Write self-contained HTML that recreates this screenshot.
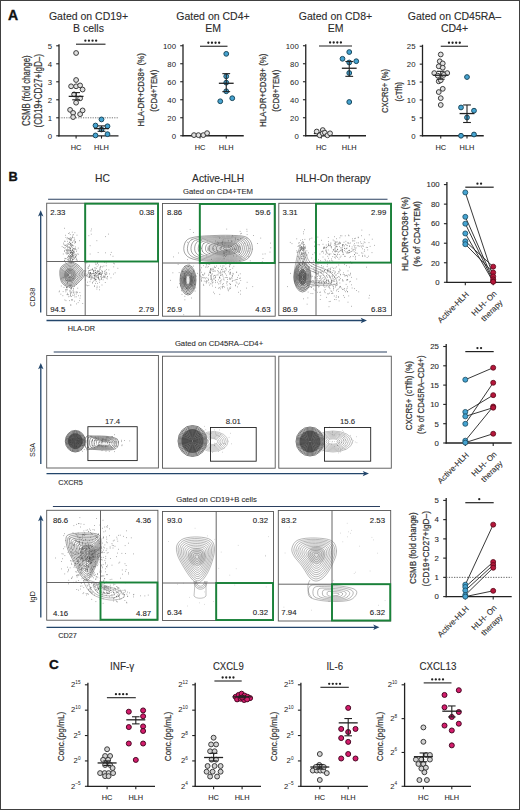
<!DOCTYPE html>
<html><head><meta charset="utf-8"><style>
html,body{margin:0;padding:0;background:#fff;width:520px;height:810px;overflow:hidden}
svg{display:block}
text{font-family:"Liberation Sans", sans-serif}
</style></head><body>
<svg width="520" height="810" viewBox="0 0 520 810">
<rect x="0" y="0" width="520" height="810" fill="#fff"/>
<text x="7.90" y="19.70" font-size="14" text-anchor="start" fill="#111" font-weight="bold" stroke="#111" stroke-width="0.35">A</text>
<text x="88.50" y="19.80" font-size="10.5" text-anchor="middle" fill="#2b2b2b" font-weight="normal" stroke="#2b2b2b" stroke-width="0.1">Gated on CD19+</text>
<text x="88.50" y="32.30" font-size="10.5" text-anchor="middle" fill="#2b2b2b" font-weight="normal" stroke="#2b2b2b" stroke-width="0.1">B cells</text>
<text x="213.00" y="19.80" font-size="10.5" text-anchor="middle" fill="#2b2b2b" font-weight="normal" stroke="#2b2b2b" stroke-width="0.1">Gated on CD4+</text>
<text x="213.00" y="32.30" font-size="10.5" text-anchor="middle" fill="#2b2b2b" font-weight="normal" stroke="#2b2b2b" stroke-width="0.1">EM</text>
<text x="335.50" y="19.80" font-size="10.5" text-anchor="middle" fill="#2b2b2b" font-weight="normal" stroke="#2b2b2b" stroke-width="0.1">Gated on CD8+</text>
<text x="335.50" y="32.30" font-size="10.5" text-anchor="middle" fill="#2b2b2b" font-weight="normal" stroke="#2b2b2b" stroke-width="0.1">EM</text>
<text x="454.50" y="19.80" font-size="10.5" text-anchor="middle" fill="#2b2b2b" font-weight="normal" stroke="#2b2b2b" stroke-width="0.1">Gated on CD45RA–</text>
<text x="454.50" y="32.30" font-size="10.5" text-anchor="middle" fill="#2b2b2b" font-weight="normal" stroke="#2b2b2b" stroke-width="0.1">CD4+</text>
<line x1="59.00" y1="44.30" x2="59.00" y2="136.40" stroke="#222" stroke-width="1.3"/>
<line x1="58.40" y1="135.80" x2="118.50" y2="135.80" stroke="#222" stroke-width="1.3"/>
<line x1="56.20" y1="135.80" x2="59.00" y2="135.80" stroke="#222" stroke-width="1.1"/>
<text x="52.00" y="138.60" font-size="7.8" text-anchor="end" fill="#222">0</text>
<line x1="56.20" y1="117.80" x2="59.00" y2="117.80" stroke="#222" stroke-width="1.1"/>
<text x="52.00" y="120.60" font-size="7.8" text-anchor="end" fill="#222">1</text>
<line x1="56.20" y1="99.80" x2="59.00" y2="99.80" stroke="#222" stroke-width="1.1"/>
<text x="52.00" y="102.60" font-size="7.8" text-anchor="end" fill="#222">2</text>
<line x1="56.20" y1="81.80" x2="59.00" y2="81.80" stroke="#222" stroke-width="1.1"/>
<text x="52.00" y="84.60" font-size="7.8" text-anchor="end" fill="#222">3</text>
<line x1="56.20" y1="63.80" x2="59.00" y2="63.80" stroke="#222" stroke-width="1.1"/>
<text x="52.00" y="66.60" font-size="7.8" text-anchor="end" fill="#222">4</text>
<line x1="56.20" y1="45.80" x2="59.00" y2="45.80" stroke="#222" stroke-width="1.1"/>
<text x="52.00" y="48.60" font-size="7.8" text-anchor="end" fill="#222">5</text>
<line x1="76.10" y1="135.80" x2="76.10" y2="138.60" stroke="#222" stroke-width="1.1"/>
<line x1="101.50" y1="135.80" x2="101.50" y2="138.60" stroke="#222" stroke-width="1.1"/>
<text x="76.10" y="149.60" font-size="7.4" text-anchor="middle" fill="#2b2b2b" font-weight="normal" stroke="#2b2b2b" stroke-width="0.1">HC</text>
<text x="101.50" y="149.60" font-size="7.4" text-anchor="middle" fill="#2b2b2b" font-weight="normal" stroke="#2b2b2b" stroke-width="0.1">HLH</text>
<line x1="59.00" y1="117.80" x2="118.50" y2="117.80" stroke="#666" stroke-width="0.9" stroke-dasharray="1.2 1.2"/>
<circle cx="76.10" cy="53.00" r="2.40" fill="#e0e0e0" stroke="#3c3c3c" stroke-width="1.0"/>
<circle cx="76.10" cy="80.00" r="2.40" fill="#e0e0e0" stroke="#3c3c3c" stroke-width="1.0"/>
<circle cx="71.10" cy="86.30" r="2.40" fill="#e0e0e0" stroke="#3c3c3c" stroke-width="1.0"/>
<circle cx="76.10" cy="86.30" r="2.40" fill="#e0e0e0" stroke="#3c3c3c" stroke-width="1.0"/>
<circle cx="80.10" cy="85.40" r="2.40" fill="#e0e0e0" stroke="#3c3c3c" stroke-width="1.0"/>
<circle cx="82.60" cy="89.54" r="2.40" fill="#e0e0e0" stroke="#3c3c3c" stroke-width="1.0"/>
<circle cx="74.10" cy="94.40" r="2.40" fill="#e0e0e0" stroke="#3c3c3c" stroke-width="1.0"/>
<circle cx="80.10" cy="98.36" r="2.40" fill="#e0e0e0" stroke="#3c3c3c" stroke-width="1.0"/>
<circle cx="76.10" cy="102.68" r="2.40" fill="#e0e0e0" stroke="#3c3c3c" stroke-width="1.0"/>
<circle cx="70.10" cy="109.88" r="2.40" fill="#e0e0e0" stroke="#3c3c3c" stroke-width="1.0"/>
<circle cx="82.60" cy="110.42" r="2.40" fill="#e0e0e0" stroke="#3c3c3c" stroke-width="1.0"/>
<circle cx="73.10" cy="112.94" r="2.40" fill="#e0e0e0" stroke="#3c3c3c" stroke-width="1.0"/>
<circle cx="80.10" cy="114.20" r="2.40" fill="#e0e0e0" stroke="#3c3c3c" stroke-width="1.0"/>
<circle cx="73.10" cy="117.08" r="2.40" fill="#e0e0e0" stroke="#3c3c3c" stroke-width="1.0"/>
<circle cx="101.50" cy="119.42" r="2.40" fill="#45a3d1" stroke="#1b4a5e" stroke-width="1.0"/>
<circle cx="95.50" cy="125.54" r="2.40" fill="#45a3d1" stroke="#1b4a5e" stroke-width="1.0"/>
<circle cx="107.50" cy="126.26" r="2.40" fill="#45a3d1" stroke="#1b4a5e" stroke-width="1.0"/>
<circle cx="101.50" cy="129.50" r="2.40" fill="#45a3d1" stroke="#1b4a5e" stroke-width="1.0"/>
<circle cx="95.50" cy="135.44" r="2.40" fill="#45a3d1" stroke="#1b4a5e" stroke-width="1.0"/>
<circle cx="107.50" cy="134.18" r="2.40" fill="#45a3d1" stroke="#1b4a5e" stroke-width="1.0"/>
<line x1="68.70" y1="96.38" x2="83.50" y2="96.38" stroke="#222" stroke-width="1.3"/>
<line x1="76.10" y1="99.80" x2="76.10" y2="92.60" stroke="#222" stroke-width="1.1"/>
<line x1="72.20" y1="99.80" x2="80.00" y2="99.80" stroke="#222" stroke-width="1.1"/>
<line x1="72.20" y1="92.60" x2="80.00" y2="92.60" stroke="#222" stroke-width="1.1"/>
<line x1="94.10" y1="128.60" x2="108.90" y2="128.60" stroke="#222" stroke-width="1.3"/>
<line x1="101.50" y1="131.30" x2="101.50" y2="125.90" stroke="#222" stroke-width="1.1"/>
<line x1="97.60" y1="131.30" x2="105.40" y2="131.30" stroke="#222" stroke-width="1.1"/>
<line x1="97.60" y1="125.90" x2="105.40" y2="125.90" stroke="#222" stroke-width="1.1"/>
<line x1="76.00" y1="44.20" x2="105.50" y2="44.20" stroke="#222" stroke-width="1.1"/>
<circle cx="85.35" cy="40.70" r="1.15" fill="#222"/>
<circle cx="88.95" cy="40.70" r="1.15" fill="#222"/>
<circle cx="92.55" cy="40.70" r="1.15" fill="#222"/>
<circle cx="96.15" cy="40.70" r="1.15" fill="#222"/>
<text x="30.10" y="90.70" font-size="10.3" text-anchor="middle" fill="#333" stroke="#333" stroke-width="0.22" transform="rotate(-90 30.10 90.70)" textLength="70.6" lengthAdjust="spacingAndGlyphs">CSMB (fold change)</text>
<text x="41.60" y="90.70" font-size="10.3" text-anchor="middle" fill="#333" stroke="#333" stroke-width="0.22" transform="rotate(-90 41.60 90.70)" textLength="73.5" lengthAdjust="spacingAndGlyphs">(CD19+CD27+IgD–)</text>
<line x1="183.00" y1="44.25" x2="183.00" y2="136.35" stroke="#222" stroke-width="1.3"/>
<line x1="182.40" y1="135.75" x2="243.75" y2="135.75" stroke="#222" stroke-width="1.3"/>
<line x1="180.20" y1="135.75" x2="183.00" y2="135.75" stroke="#222" stroke-width="1.1"/>
<text x="176.00" y="138.55" font-size="7.8" text-anchor="end" fill="#222">0</text>
<line x1="180.20" y1="117.75" x2="183.00" y2="117.75" stroke="#222" stroke-width="1.1"/>
<text x="176.00" y="120.55" font-size="7.8" text-anchor="end" fill="#222">20</text>
<line x1="180.20" y1="99.75" x2="183.00" y2="99.75" stroke="#222" stroke-width="1.1"/>
<text x="176.00" y="102.55" font-size="7.8" text-anchor="end" fill="#222">40</text>
<line x1="180.20" y1="81.75" x2="183.00" y2="81.75" stroke="#222" stroke-width="1.1"/>
<text x="176.00" y="84.55" font-size="7.8" text-anchor="end" fill="#222">60</text>
<line x1="180.20" y1="63.75" x2="183.00" y2="63.75" stroke="#222" stroke-width="1.1"/>
<text x="176.00" y="66.55" font-size="7.8" text-anchor="end" fill="#222">80</text>
<line x1="180.20" y1="45.75" x2="183.00" y2="45.75" stroke="#222" stroke-width="1.1"/>
<text x="176.00" y="48.55" font-size="7.8" text-anchor="end" fill="#222">100</text>
<line x1="200.00" y1="135.75" x2="200.00" y2="138.55" stroke="#222" stroke-width="1.1"/>
<line x1="226.25" y1="135.75" x2="226.25" y2="138.55" stroke="#222" stroke-width="1.1"/>
<text x="200.00" y="149.60" font-size="7.4" text-anchor="middle" fill="#2b2b2b" font-weight="normal" stroke="#2b2b2b" stroke-width="0.1">HC</text>
<text x="226.25" y="149.60" font-size="7.4" text-anchor="middle" fill="#2b2b2b" font-weight="normal" stroke="#2b2b2b" stroke-width="0.1">HLH</text>
<line x1="192.60" y1="134.85" x2="207.40" y2="134.85" stroke="#222" stroke-width="1.3"/>
<line x1="200.00" y1="135.30" x2="200.00" y2="134.40" stroke="#222" stroke-width="1.1"/>
<line x1="196.10" y1="135.30" x2="203.90" y2="135.30" stroke="#222" stroke-width="1.1"/>
<line x1="196.10" y1="134.40" x2="203.90" y2="134.40" stroke="#222" stroke-width="1.1"/>
<circle cx="194.00" cy="135.12" r="2.40" fill="#e0e0e0" stroke="#3c3c3c" stroke-width="1.0"/>
<circle cx="198.40" cy="135.12" r="2.40" fill="#e0e0e0" stroke="#3c3c3c" stroke-width="1.0"/>
<circle cx="203.30" cy="135.12" r="2.40" fill="#e0e0e0" stroke="#3c3c3c" stroke-width="1.0"/>
<circle cx="207.10" cy="133.14" r="2.40" fill="#e0e0e0" stroke="#3c3c3c" stroke-width="1.0"/>
<circle cx="226.25" cy="53.85" r="2.40" fill="#45a3d1" stroke="#1b4a5e" stroke-width="1.0"/>
<circle cx="226.25" cy="76.35" r="2.40" fill="#45a3d1" stroke="#1b4a5e" stroke-width="1.0"/>
<circle cx="226.25" cy="82.65" r="2.40" fill="#45a3d1" stroke="#1b4a5e" stroke-width="1.0"/>
<circle cx="226.25" cy="91.29" r="2.40" fill="#45a3d1" stroke="#1b4a5e" stroke-width="1.0"/>
<circle cx="220.25" cy="101.28" r="2.40" fill="#45a3d1" stroke="#1b4a5e" stroke-width="1.0"/>
<circle cx="232.25" cy="98.22" r="2.40" fill="#45a3d1" stroke="#1b4a5e" stroke-width="1.0"/>
<line x1="218.85" y1="83.28" x2="233.65" y2="83.28" stroke="#222" stroke-width="1.3"/>
<line x1="226.25" y1="91.65" x2="226.25" y2="73.65" stroke="#222" stroke-width="1.1"/>
<line x1="222.35" y1="91.65" x2="230.15" y2="91.65" stroke="#222" stroke-width="1.1"/>
<line x1="222.35" y1="73.65" x2="230.15" y2="73.65" stroke="#222" stroke-width="1.1"/>
<line x1="200.00" y1="46.25" x2="227.50" y2="46.25" stroke="#222" stroke-width="1.1"/>
<circle cx="208.35" cy="42.75" r="1.15" fill="#222"/>
<circle cx="211.95" cy="42.75" r="1.15" fill="#222"/>
<circle cx="215.55" cy="42.75" r="1.15" fill="#222"/>
<circle cx="219.15" cy="42.75" r="1.15" fill="#222"/>
<text x="144.30" y="89.75" font-size="9.4" text-anchor="middle" fill="#333" stroke="#333" stroke-width="0.22" transform="rotate(-90 144.30 89.75)" textLength="73.5" lengthAdjust="spacingAndGlyphs">HLA-DR+CD38+ (%)</text>
<text x="157.10" y="90.75" font-size="9.4" text-anchor="middle" fill="#333" stroke="#333" stroke-width="0.22" transform="rotate(-90 157.10 90.75)" textLength="42" lengthAdjust="spacingAndGlyphs">(CD4+TEM)</text>
<line x1="305.75" y1="44.25" x2="305.75" y2="136.35" stroke="#222" stroke-width="1.3"/>
<line x1="305.15" y1="135.75" x2="366.00" y2="135.75" stroke="#222" stroke-width="1.3"/>
<line x1="302.95" y1="135.75" x2="305.75" y2="135.75" stroke="#222" stroke-width="1.1"/>
<text x="298.75" y="138.55" font-size="7.8" text-anchor="end" fill="#222">0</text>
<line x1="302.95" y1="117.75" x2="305.75" y2="117.75" stroke="#222" stroke-width="1.1"/>
<text x="298.75" y="120.55" font-size="7.8" text-anchor="end" fill="#222">20</text>
<line x1="302.95" y1="99.75" x2="305.75" y2="99.75" stroke="#222" stroke-width="1.1"/>
<text x="298.75" y="102.55" font-size="7.8" text-anchor="end" fill="#222">40</text>
<line x1="302.95" y1="81.75" x2="305.75" y2="81.75" stroke="#222" stroke-width="1.1"/>
<text x="298.75" y="84.55" font-size="7.8" text-anchor="end" fill="#222">60</text>
<line x1="302.95" y1="63.75" x2="305.75" y2="63.75" stroke="#222" stroke-width="1.1"/>
<text x="298.75" y="66.55" font-size="7.8" text-anchor="end" fill="#222">80</text>
<line x1="302.95" y1="45.75" x2="305.75" y2="45.75" stroke="#222" stroke-width="1.1"/>
<text x="298.75" y="48.55" font-size="7.8" text-anchor="end" fill="#222">100</text>
<line x1="321.25" y1="135.75" x2="321.25" y2="138.55" stroke="#222" stroke-width="1.1"/>
<line x1="349.25" y1="135.75" x2="349.25" y2="138.55" stroke="#222" stroke-width="1.1"/>
<text x="321.25" y="149.60" font-size="7.4" text-anchor="middle" fill="#2b2b2b" font-weight="normal" stroke="#2b2b2b" stroke-width="0.1">HC</text>
<text x="349.25" y="149.60" font-size="7.4" text-anchor="middle" fill="#2b2b2b" font-weight="normal" stroke="#2b2b2b" stroke-width="0.1">HLH</text>
<line x1="313.85" y1="133.50" x2="328.65" y2="133.50" stroke="#222" stroke-width="1.3"/>
<line x1="321.25" y1="134.40" x2="321.25" y2="132.60" stroke="#222" stroke-width="1.1"/>
<line x1="317.35" y1="134.40" x2="325.15" y2="134.40" stroke="#222" stroke-width="1.1"/>
<line x1="317.35" y1="132.60" x2="325.15" y2="132.60" stroke="#222" stroke-width="1.1"/>
<circle cx="316.75" cy="131.52" r="2.40" fill="#e0e0e0" stroke="#3c3c3c" stroke-width="1.0"/>
<circle cx="322.75" cy="130.08" r="2.40" fill="#e0e0e0" stroke="#3c3c3c" stroke-width="1.0"/>
<circle cx="319.65" cy="135.30" r="2.40" fill="#e0e0e0" stroke="#3c3c3c" stroke-width="1.0"/>
<circle cx="322.75" cy="133.32" r="2.40" fill="#e0e0e0" stroke="#3c3c3c" stroke-width="1.0"/>
<circle cx="324.85" cy="132.69" r="2.40" fill="#e0e0e0" stroke="#3c3c3c" stroke-width="1.0"/>
<circle cx="327.45" cy="135.30" r="2.40" fill="#e0e0e0" stroke="#3c3c3c" stroke-width="1.0"/>
<circle cx="330.05" cy="133.32" r="2.40" fill="#e0e0e0" stroke="#3c3c3c" stroke-width="1.0"/>
<circle cx="349.25" cy="52.05" r="2.40" fill="#45a3d1" stroke="#1b4a5e" stroke-width="1.0"/>
<circle cx="342.50" cy="58.80" r="2.40" fill="#45a3d1" stroke="#1b4a5e" stroke-width="1.0"/>
<circle cx="349.25" cy="62.49" r="2.40" fill="#45a3d1" stroke="#1b4a5e" stroke-width="1.0"/>
<circle cx="356.25" cy="61.23" r="2.40" fill="#45a3d1" stroke="#1b4a5e" stroke-width="1.0"/>
<circle cx="349.25" cy="73.02" r="2.40" fill="#45a3d1" stroke="#1b4a5e" stroke-width="1.0"/>
<circle cx="349.25" cy="102.00" r="2.40" fill="#45a3d1" stroke="#1b4a5e" stroke-width="1.0"/>
<line x1="341.85" y1="68.25" x2="356.65" y2="68.25" stroke="#222" stroke-width="1.3"/>
<line x1="349.25" y1="76.35" x2="349.25" y2="61.50" stroke="#222" stroke-width="1.1"/>
<line x1="345.35" y1="76.35" x2="353.15" y2="76.35" stroke="#222" stroke-width="1.1"/>
<line x1="345.35" y1="61.50" x2="353.15" y2="61.50" stroke="#222" stroke-width="1.1"/>
<line x1="319.00" y1="46.00" x2="352.00" y2="46.00" stroke="#222" stroke-width="1.1"/>
<circle cx="330.10" cy="42.50" r="1.15" fill="#222"/>
<circle cx="333.70" cy="42.50" r="1.15" fill="#222"/>
<circle cx="337.30" cy="42.50" r="1.15" fill="#222"/>
<circle cx="340.90" cy="42.50" r="1.15" fill="#222"/>
<text x="266.30" y="90.25" font-size="9.4" text-anchor="middle" fill="#333" stroke="#333" stroke-width="0.22" transform="rotate(-90 266.30 90.25)" textLength="73.5" lengthAdjust="spacingAndGlyphs">HLA-DR+CD38+ (%)</text>
<text x="278.60" y="90.75" font-size="9.4" text-anchor="middle" fill="#333" stroke="#333" stroke-width="0.22" transform="rotate(-90 278.60 90.75)" textLength="42" lengthAdjust="spacingAndGlyphs">(CD8+TEM)</text>
<line x1="422.50" y1="44.75" x2="422.50" y2="136.35" stroke="#222" stroke-width="1.3"/>
<line x1="421.90" y1="135.75" x2="483.75" y2="135.75" stroke="#222" stroke-width="1.3"/>
<line x1="419.70" y1="135.75" x2="422.50" y2="135.75" stroke="#222" stroke-width="1.1"/>
<text x="415.50" y="138.55" font-size="7.8" text-anchor="end" fill="#222">0</text>
<line x1="419.70" y1="117.85" x2="422.50" y2="117.85" stroke="#222" stroke-width="1.1"/>
<text x="415.50" y="120.65" font-size="7.8" text-anchor="end" fill="#222">5</text>
<line x1="419.70" y1="99.95" x2="422.50" y2="99.95" stroke="#222" stroke-width="1.1"/>
<text x="415.50" y="102.75" font-size="7.8" text-anchor="end" fill="#222">10</text>
<line x1="419.70" y1="82.05" x2="422.50" y2="82.05" stroke="#222" stroke-width="1.1"/>
<text x="415.50" y="84.85" font-size="7.8" text-anchor="end" fill="#222">15</text>
<line x1="419.70" y1="64.15" x2="422.50" y2="64.15" stroke="#222" stroke-width="1.1"/>
<text x="415.50" y="66.95" font-size="7.8" text-anchor="end" fill="#222">20</text>
<line x1="419.70" y1="46.25" x2="422.50" y2="46.25" stroke="#222" stroke-width="1.1"/>
<text x="415.50" y="49.05" font-size="7.8" text-anchor="end" fill="#222">25</text>
<line x1="440.75" y1="135.75" x2="440.75" y2="138.55" stroke="#222" stroke-width="1.1"/>
<line x1="467.00" y1="135.75" x2="467.00" y2="138.55" stroke="#222" stroke-width="1.1"/>
<text x="440.75" y="149.60" font-size="7.4" text-anchor="middle" fill="#2b2b2b" font-weight="normal" stroke="#2b2b2b" stroke-width="0.1">HC</text>
<text x="467.00" y="149.60" font-size="7.4" text-anchor="middle" fill="#2b2b2b" font-weight="normal" stroke="#2b2b2b" stroke-width="0.1">HLH</text>
<circle cx="440.75" cy="54.48" r="2.40" fill="#e0e0e0" stroke="#3c3c3c" stroke-width="1.0"/>
<circle cx="439.75" cy="61.29" r="2.40" fill="#e0e0e0" stroke="#3c3c3c" stroke-width="1.0"/>
<circle cx="442.75" cy="63.43" r="2.40" fill="#e0e0e0" stroke="#3c3c3c" stroke-width="1.0"/>
<circle cx="438.75" cy="66.30" r="2.40" fill="#e0e0e0" stroke="#3c3c3c" stroke-width="1.0"/>
<circle cx="442.75" cy="67.73" r="2.40" fill="#e0e0e0" stroke="#3c3c3c" stroke-width="1.0"/>
<circle cx="434.25" cy="73.10" r="2.40" fill="#e0e0e0" stroke="#3c3c3c" stroke-width="1.0"/>
<circle cx="447.25" cy="73.10" r="2.40" fill="#e0e0e0" stroke="#3c3c3c" stroke-width="1.0"/>
<circle cx="437.75" cy="75.61" r="2.40" fill="#e0e0e0" stroke="#3c3c3c" stroke-width="1.0"/>
<circle cx="443.75" cy="74.89" r="2.40" fill="#e0e0e0" stroke="#3c3c3c" stroke-width="1.0"/>
<circle cx="438.75" cy="81.33" r="2.40" fill="#e0e0e0" stroke="#3c3c3c" stroke-width="1.0"/>
<circle cx="440.75" cy="80.26" r="2.40" fill="#e0e0e0" stroke="#3c3c3c" stroke-width="1.0"/>
<circle cx="442.75" cy="88.85" r="2.40" fill="#e0e0e0" stroke="#3c3c3c" stroke-width="1.0"/>
<circle cx="438.75" cy="92.07" r="2.40" fill="#e0e0e0" stroke="#3c3c3c" stroke-width="1.0"/>
<circle cx="440.75" cy="98.16" r="2.40" fill="#e0e0e0" stroke="#3c3c3c" stroke-width="1.0"/>
<circle cx="440.75" cy="104.96" r="2.40" fill="#e0e0e0" stroke="#3c3c3c" stroke-width="1.0"/>
<circle cx="467.00" cy="77.04" r="2.40" fill="#45a3d1" stroke="#1b4a5e" stroke-width="1.0"/>
<circle cx="461.00" cy="107.47" r="2.40" fill="#45a3d1" stroke="#1b4a5e" stroke-width="1.0"/>
<circle cx="474.00" cy="110.69" r="2.40" fill="#45a3d1" stroke="#1b4a5e" stroke-width="1.0"/>
<circle cx="467.00" cy="117.49" r="2.40" fill="#45a3d1" stroke="#1b4a5e" stroke-width="1.0"/>
<circle cx="461.00" cy="135.75" r="2.40" fill="#45a3d1" stroke="#1b4a5e" stroke-width="1.0"/>
<circle cx="474.00" cy="134.50" r="2.40" fill="#45a3d1" stroke="#1b4a5e" stroke-width="1.0"/>
<line x1="433.35" y1="75.25" x2="448.15" y2="75.25" stroke="#222" stroke-width="1.3"/>
<line x1="440.75" y1="79.19" x2="440.75" y2="71.31" stroke="#222" stroke-width="1.1"/>
<line x1="436.85" y1="79.19" x2="444.65" y2="79.19" stroke="#222" stroke-width="1.1"/>
<line x1="436.85" y1="71.31" x2="444.65" y2="71.31" stroke="#222" stroke-width="1.1"/>
<line x1="459.60" y1="113.55" x2="474.40" y2="113.55" stroke="#222" stroke-width="1.3"/>
<line x1="467.00" y1="122.50" x2="467.00" y2="104.96" stroke="#222" stroke-width="1.1"/>
<line x1="463.10" y1="122.50" x2="470.90" y2="122.50" stroke="#222" stroke-width="1.1"/>
<line x1="463.10" y1="104.96" x2="470.90" y2="104.96" stroke="#222" stroke-width="1.1"/>
<line x1="440.75" y1="46.25" x2="468.00" y2="46.25" stroke="#222" stroke-width="1.1"/>
<circle cx="448.98" cy="42.75" r="1.15" fill="#222"/>
<circle cx="452.57" cy="42.75" r="1.15" fill="#222"/>
<circle cx="456.18" cy="42.75" r="1.15" fill="#222"/>
<circle cx="459.77" cy="42.75" r="1.15" fill="#222"/>
<text x="388.00" y="91.00" font-size="9.2" text-anchor="middle" fill="#333" stroke="#333" stroke-width="0.22" transform="rotate(-90 388.00 91.00)" textLength="44" lengthAdjust="spacingAndGlyphs">CXCR5+ (%)</text>
<text x="401.70" y="91.70" font-size="9.2" text-anchor="middle" fill="#333" stroke="#333" stroke-width="0.22" transform="rotate(-90 401.70 91.70)" textLength="19.6" lengthAdjust="spacingAndGlyphs">(cTfh)</text>
<text x="8.50" y="181.00" font-size="12.8" text-anchor="start" fill="#111" font-weight="bold" stroke="#111" stroke-width="0.35">B</text>
<text x="102.40" y="181.90" font-size="10.3" text-anchor="middle" fill="#2b2b2b" font-weight="normal" stroke="#2b2b2b" stroke-width="0.1">HC</text>
<text x="218.10" y="181.90" font-size="10.3" text-anchor="middle" fill="#2b2b2b" font-weight="normal" stroke="#2b2b2b" stroke-width="0.1">Active-HLH</text>
<text x="333.30" y="181.90" font-size="10.3" text-anchor="middle" fill="#2b2b2b" font-weight="normal" stroke="#2b2b2b" stroke-width="0.1">HLH-On therapy</text>
<text x="218.00" y="194.10" font-size="7.7" text-anchor="middle" fill="#2b2b2b" font-weight="normal" stroke="#2b2b2b" stroke-width="0.1">Gated on CD4+TEM</text>
<line x1="48.10" y1="199.20" x2="387.50" y2="199.20" stroke="#2b4060" stroke-width="1.05"/>
<line x1="46.50" y1="320.50" x2="364.00" y2="320.50" stroke="#23466b" stroke-width="1.3"/>
<path d="M367.00 320.50L360.70 317.80L362.20 320.50L360.70 323.20Z" fill="#23466b"/>
<line x1="40.70" y1="312.60" x2="40.70" y2="213.20" stroke="#23466b" stroke-width="1.3"/>
<path d="M40.70 210.20L38.00 216.50L40.70 215.00L43.40 216.50Z" fill="#23466b"/>
<text x="35.20" y="297.20" font-size="7.9" text-anchor="middle" fill="#222" stroke="#222" stroke-width="0" transform="rotate(-90 35.20 297.20)" textLength="19.1" lengthAdjust="spacingAndGlyphs">CD38</text>
<text x="67.80" y="330.50" font-size="7.3" text-anchor="start" fill="#2b2b2b" font-weight="normal" stroke="#2b2b2b" stroke-width="0.1">HLA-DR</text>
<path d="M69.7 255.6h0.6M69.8 248.2h0.6M67.5 249.1h0.6M74.1 254.8h0.6M73.8 253.2h0.6M71.8 252.7h0.6M65.2 258.7h0.6M72.1 255.5h0.6M65.1 235.3h0.6M67.7 246.8h0.6M71.5 250.6h0.6M72.2 245.2h0.6M71.5 254.5h0.6M72.3 261.8h0.6M68.5 244.3h0.6M69.4 250.0h0.6M72.5 253.2h0.6M69.1 242.4h0.6M68.8 262.0h0.6M67.9 253.2h0.6M71.9 237.6h0.6M70.7 262.8h0.6M64.1 248.1h0.6M70.2 243.6h0.6M72.1 250.4h0.6M65.8 258.5h0.6M72.6 259.5h0.6M75.1 254.3h0.6M70.9 239.3h0.6M72.5 245.5h0.6M69.1 239.6h0.6M67.4 246.2h0.6M74.6 232.7h0.6M65.8 253.2h0.6M75.1 256.2h0.6M64.4 228.3h0.6M71.6 244.4h0.6M66.9 259.8h0.6M74.0 252.4h0.6M71.3 254.9h0.6M75.6 256.6h0.6M72.2 255.9h0.6M65.5 262.5h0.6M73.6 255.8h0.6M64.2 245.3h0.6M73.2 234.7h0.6M69.9 260.2h0.6M72.3 249.6h0.6M71.5 256.8h0.6M70.9 261.3h0.6M68.4 247.3h0.6M73.8 251.2h0.6M67.7 259.5h0.6M75.2 247.0h0.6M66.1 249.8h0.6M70.0 248.3h0.6M75.0 241.8h0.6M74.5 239.6h0.6M68.0 256.7h0.6M74.1 258.7h0.6M71.6 252.3h0.6M71.0 256.2h0.6M69.9 253.5h0.6M72.3 251.0h0.6M72.9 256.1h0.6M76.9 253.9h0.6M69.1 247.6h0.6M70.5 259.3h0.6M69.4 254.5h0.6M66.9 253.2h0.6M71.8 253.1h0.6M69.1 256.9h0.6M71.4 246.3h0.6M78.3 254.2h0.6M68.7 250.1h0.6M69.8 250.4h0.6M61.8 246.6h0.6M73.7 240.5h0.6M70.3 259.6h0.6M65.1 247.8h0.6M69.4 256.6h0.6M74.0 238.0h0.6M72.7 237.6h0.6M71.1 261.8h0.6M70.0 252.7h0.6M73.1 252.3h0.6M73.9 248.4h0.6M79.3 240.7h0.6M73.4 248.6h0.6M70.9 257.3h0.6M71.2 256.7h0.6M65.6 237.4h0.6M72.5 242.3h0.6M67.2 237.8h0.6M74.6 257.7h0.6M75.2 242.6h0.6M70.5 240.7h0.6M73.7 249.4h0.6M70.2 245.6h0.6M71.8 254.7h0.6M75.3 241.8h0.6M75.1 249.4h0.6M68.1 260.2h0.6M70.9 252.1h0.6M75.1 248.6h0.6M63.2 247.5h0.6M64.6 258.4h0.6M71.5 245.5h0.6M70.5 258.5h0.6M70.8 262.9h0.6M70.3 260.4h0.6M68.4 258.9h0.6M64.5 241.2h0.6M64.2 260.6h0.6M66.6 250.9h0.6M69.9 250.7h0.6M68.6 253.1h0.6M76.2 251.4h0.6M72.2 260.0h0.6M69.9 239.7h0.6M68.7 260.7h0.6M65.2 245.6h0.6M73.7 258.1h0.6M70.5 258.2h0.6M71.0 240.4h0.6M65.5 245.2h0.6M73.5 245.9h0.6M67.6 244.1h0.6M65.6 249.9h0.6M66.7 254.3h0.6M62.9 254.0h0.6M68.4 233.5h0.6M72.8 248.5h0.6M63.4 243.1h0.6M71.4 246.9h0.6M73.0 257.7h0.6M72.6 253.9h0.6M74.8 256.9h0.6M71.9 232.2h0.6M73.4 262.8h0.6M69.5 246.8h0.6M76.7 235.2h0.6M67.5 257.2h0.6M76.5 249.9h0.6M72.3 259.1h0.6M67.6 250.2h0.6M71.4 258.4h0.6M70.4 249.2h0.6M67.2 247.8h0.6M73.4 251.9h0.6M67.8 243.4h0.6M79.0 261.3h0.6M72.5 255.3h0.6M75.9 254.8h0.6M70.3 255.7h0.6M64.3 260.3h0.6M71.5 244.7h0.6M66.0 245.0h0.6M71.4 252.7h0.6M69.2 242.2h0.6M77.3 260.3h0.6M66.7 238.9h0.6M76.0 259.9h0.6M76.3 258.3h0.6M67.7 253.3h0.6M63.6 244.3h0.6M70.3 255.7h0.6M68.2 249.9h0.6M72.0 254.4h0.6M72.5 252.9h0.6M69.5 258.1h0.6M70.7 243.6h0.6M68.5 251.0h0.6M70.1 252.4h0.6M70.5 252.6h0.6M70.1 239.7h0.6M71.8 260.5h0.6M71.9 249.3h0.6M71.9 242.3h0.6M64.4 251.5h0.6M67.5 257.7h0.6M69.3 238.7h0.6M68.1 255.7h0.6M72.1 252.6h0.6M75.2 257.4h0.6M70.4 256.4h0.6M75.8 259.7h0.6M73.8 241.3h0.6M70.0 257.6h0.6M69.6 260.6h0.6M72.4 259.2h0.6M74.5 249.1h0.6M69.4 258.9h0.6M73.6 251.1h0.6M66.8 252.7h0.6M71.7 261.2h0.6M73.0 251.2h0.6M73.2 255.9h0.6M71.2 251.5h0.6M69.7 257.2h0.6M67.1 245.3h0.6M70.5 237.8h0.6M69.1 232.9h0.6M68.3 256.1h0.6M72.3 250.5h0.6M69.8 238.2h0.6M76.3 255.6h0.6M74.0 243.1h0.6M69.9 234.6h0.6M73.0 259.4h0.6M64.4 250.5h0.6M72.5 235.1h0.6M64.7 241.4h0.6M68.5 238.4h0.6M70.6 253.2h0.6M72.5 257.3h0.6M75.3 261.5h0.6M66.3 246.5h0.6M67.1 241.3h0.6M70.2 251.0h0.6M72.1 236.7h0.6M66.5 250.8h0.6M69.9 248.2h0.6M70.3 244.2h0.6M72.7 254.2h0.6M70.2 245.0h0.6M67.4 251.3h0.6M65.7 252.8h0.6M71.0 238.6h0.6M69.7 248.2h0.6M72.0 256.5h0.6M70.4 243.3h0.6M70.0 250.4h0.6M72.9 253.6h0.6M68.2 238.8h0.6M69.3 244.3h0.6M66.9 250.0h0.6M68.9 251.9h0.6M72.2 247.3h0.6M77.9 248.1h0.6M102.9 276.4h0.6M105.9 263.0h0.6M89.2 274.2h0.6M96.7 287.5h0.6M95.9 281.4h0.6M99.5 280.3h0.6M98.9 274.0h0.6M100.0 269.0h0.6M104.8 270.4h0.6M94.4 285.8h0.6M93.3 273.8h0.6M103.5 276.0h0.6M88.8 274.1h0.6M98.5 278.7h0.6M87.3 282.2h0.6M107.2 276.7h0.6M97.5 272.1h0.6M106.2 272.4h0.6M100.5 272.5h0.6M89.1 276.8h0.6M104.8 276.0h0.6M89.1 277.3h0.6M94.3 275.6h0.6M104.9 282.5h0.6M88.6 285.5h0.6M94.1 278.2h0.6M90.3 272.8h0.6M106.4 269.6h0.6M85.8 262.9h0.6M104.2 273.4h0.6M94.9 272.2h0.6M95.4 268.0h0.6M96.8 266.3h0.6M94.1 275.5h0.6M98.7 273.5h0.6M88.2 273.4h0.6M89.7 281.7h0.6M100.8 274.6h0.6M92.3 269.5h0.6M88.5 270.6h0.6M96.6 277.2h0.6M96.8 286.2h0.6M89.8 273.0h0.6M117.6 268.3h0.6M91.0 274.1h0.6M95.7 276.4h0.6M92.8 275.6h0.6M94.5 278.2h0.6M96.2 268.4h0.6M86.6 275.7h0.6M89.5 276.4h0.6M100.1 276.8h0.6M98.8 274.2h0.6M84.7 271.6h0.6M98.9 271.9h0.6M93.4 277.9h0.6M87.8 276.1h0.6M109.3 273.9h0.6M96.2 273.4h0.6M105.9 278.1h0.6M102.4 271.7h0.6M94.9 273.9h0.6M103.6 266.0h0.6M100.6 274.5h0.6M97.9 276.7h0.6M84.2 270.5h0.6M106.6 273.2h0.6M89.1 265.1h0.6M85.7 273.9h0.6M106.9 278.9h0.6M94.2 286.4h0.6M92.0 269.6h0.6M98.2 277.8h0.6M88.9 266.1h0.6M96.9 275.8h0.6M85.6 270.9h0.6M90.5 275.6h0.6M94.2 273.4h0.6M91.2 279.1h0.6M105.6 274.2h0.6M102.1 271.2h0.6M94.7 278.1h0.6M106.5 274.3h0.6M94.2 274.9h0.6M89.6 274.9h0.6M95.0 275.5h0.6M90.0 277.9h0.6M93.7 270.3h0.6M100.3 266.3h0.6M90.1 272.8h0.6M101.4 274.4h0.6M98.0 271.0h0.6M95.3 283.4h0.6M87.3 285.7h0.6M90.3 273.1h0.6M95.1 279.8h0.6M98.5 279.2h0.6M96.6 289.1h0.6M96.2 275.7h0.6M101.4 277.4h0.6M108.6 269.9h0.6M101.4 273.3h0.6M99.3 287.0h0.6M95.2 272.6h0.6M92.3 268.7h0.6M89.6 276.5h0.6M95.2 274.4h0.6M92.7 278.6h0.6M98.8 274.0h0.6M100.0 274.2h0.6M84.9 280.0h0.6M99.5 269.6h0.6M102.5 277.5h0.6M96.4 279.3h0.6M96.6 273.5h0.6M95.5 272.5h0.6M97.5 275.0h0.6M100.4 273.1h0.6M97.2 262.4h0.6M91.1 277.0h0.6M105.2 274.1h0.6M92.3 282.3h0.6M91.8 277.4h0.6M107.3 276.8h0.6M104.8 272.1h0.6M96.6 273.9h0.6M94.6 280.3h0.6M113.3 274.1h0.6M90.2 275.8h0.6M86.7 275.0h0.6M99.5 273.4h0.6M100.7 266.5h0.6M102.3 266.9h0.6M90.5 269.9h0.6M91.1 278.0h0.6M96.1 272.0h0.6M97.2 283.4h0.6M94.6 276.0h0.6M103.8 277.4h0.6M113.5 266.8h0.6M94.2 276.2h0.6M101.3 279.1h0.6M94.2 267.9h0.6M94.6 279.7h0.6M88.2 266.8h0.6M97.0 263.5h0.6M93.6 271.2h0.6M99.1 270.9h0.6M89.0 270.5h0.6M95.4 270.3h0.6M94.2 278.1h0.6M101.7 285.0h0.6M89.7 270.5h0.6M89.7 272.7h0.6M100.4 267.5h0.6M98.4 274.6h0.6M105.9 265.8h0.6M100.7 276.4h0.6M98.0 277.1h0.6M104.8 274.8h0.6M101.9 273.2h0.6M101.3 270.8h0.6M92.2 283.1h0.6M98.5 273.8h0.6M87.5 268.0h0.6M95.3 279.4h0.6M97.5 277.5h0.6M93.1 281.2h0.6M92.8 270.4h0.6M101.4 275.7h0.6M93.6 270.5h0.6M92.4 277.0h0.6M99.0 268.0h0.6M97.9 275.6h0.6M86.8 276.6h0.6M93.3 271.8h0.6M99.3 282.3h0.6M89.4 275.3h0.6M85.9 285.1h0.6M90.0 279.7h0.6M89.3 277.4h0.6M114.2 263.8h0.6M91.2 276.0h0.6M95.1 270.3h0.6M110.7 277.8h0.6M90.6 273.9h0.6M104.1 276.6h0.6M86.7 262.7h0.6M102.8 279.8h0.6M88.0 277.4h0.6M97.9 278.3h0.6M100.8 279.3h0.6M104.3 262.2h0.6M95.7 276.9h0.6M114.8 272.8h0.6M92.5 273.7h0.6M102.0 273.0h0.6M104.3 271.6h0.6M97.6 271.6h0.6M97.0 270.5h0.6M97.9 271.5h0.6M95.3 279.6h0.6M88.0 271.9h0.6M98.4 277.7h0.6M94.9 262.1h0.6M103.7 277.7h0.6M95.4 272.5h0.6M97.4 272.1h0.6M88.3 268.4h0.6M91.3 269.8h0.6M85.8 275.6h0.6M84.6 275.5h0.6M87.2 274.3h0.6M104.8 277.2h0.6M89.6 273.1h0.6M98.1 264.9h0.6M90.4 273.9h0.6M91.5 273.7h0.6M99.5 279.3h0.6M101.0 278.6h0.6M92.9 273.5h0.6M93.4 271.9h0.6M95.7 264.4h0.6M92.6 273.4h0.6M87.9 272.4h0.6M99.0 273.9h0.6M113.2 263.2h0.6M95.6 263.9h0.6M99.2 289.8h0.6M99.2 273.2h0.6M72.8 278.5h0.6M74.3 294.2h0.6M70.1 288.5h0.6M73.2 289.1h0.6M71.1 288.9h0.6M58.8 291.8h0.6M71.0 296.5h0.6M65.6 291.8h0.6M73.1 292.9h0.6M76.2 303.9h0.6M65.5 280.5h0.6M74.3 301.2h0.6M74.6 296.9h0.6M66.9 287.7h0.6M74.4 286.5h0.6M60.9 286.0h0.6M82.5 303.5h0.6M66.6 287.6h0.6M71.2 287.5h0.6M76.6 291.5h0.6M64.6 299.9h0.6M67.1 293.3h0.6M69.9 290.1h0.6M71.6 287.8h0.6M60.8 278.8h0.6M63.7 287.4h0.6M69.9 292.3h0.6M72.8 292.7h0.6M66.0 287.7h0.6M59.4 291.0h0.6M72.4 295.2h0.6M69.4 291.0h0.6M74.7 292.1h0.6M73.7 295.5h0.6M71.1 299.8h0.6M67.1 289.8h0.6M66.0 287.2h0.6M77.8 302.6h0.6M70.1 295.4h0.6M75.9 296.8h0.6M76.0 284.4h0.6M66.8 294.7h0.6M77.2 292.6h0.6M65.7 289.9h0.6M66.7 286.9h0.6M77.5 288.2h0.6M70.1 305.0h0.6M75.9 294.0h0.6M66.9 294.5h0.6M78.1 295.7h0.6M76.3 292.6h0.6M72.6 290.8h0.6M72.1 299.8h0.6M62.8 291.6h0.6M71.2 288.6h0.6M68.5 296.7h0.6M80.0 295.8h0.6M71.6 282.7h0.6M79.6 292.5h0.6M69.8 285.3h0.6M69.7 285.4h0.6M70.4 294.8h0.6M70.2 293.7h0.6M65.7 300.6h0.6M66.7 281.1h0.6M69.1 287.4h0.6M65.0 289.9h0.6M71.5 284.9h0.6M69.3 300.6h0.6M73.4 291.1h0.6M70.6 291.3h0.6M69.8 296.4h0.6M69.5 277.6h0.6M69.9 286.7h0.6M73.3 288.3h0.6M70.7 305.1h0.6M64.8 285.3h0.6M62.9 277.6h0.6M60.6 294.2h0.6M66.8 280.8h0.6M62.6 295.7h0.6M66.1 289.8h0.6M71.7 300.1h0.6M79.7 298.2h0.6M70.7 293.1h0.6M79.0 300.6h0.6M68.4 294.7h0.6M71.4 292.3h0.6M67.5 284.0h0.6M67.3 282.7h0.6M89.8 245.7h0.6M97.8 252.5h0.6M110.1 254.7h0.6M89.8 254.0h0.6M112.7 256.3h0.6M90.9 234.2h0.6M91.0 229.0h0.6M110.9 252.4h0.6M105.1 252.8h0.6M105.1 236.6h0.6M90.7 230.9h0.6M108.4 234.1h0.6M96.6 240.7h0.6M88.6 235.7h0.6" stroke="#333" stroke-width="0.6" opacity="1.0" fill="none"/>
<path d="M70.0 262.5C72.9 262.0 75.6 263.1 78.0 265.0C80.4 266.9 84.5 271.0 84.5 274.0C84.5 277.0 80.4 280.8 78.0 283.0C75.6 285.2 72.8 287.2 70.0 287.0C67.2 286.8 63.1 285.2 61.5 282.0C59.9 278.8 59.1 271.2 60.5 268.0C61.9 264.8 67.1 263.0 70.0 262.5Z" fill="none" stroke="#333" stroke-width="0.5" opacity="1.0"/>
<path d="M70.0 263.8C72.6 263.4 75.0 264.3 77.2 266.1C79.3 267.8 83.0 271.4 83.0 274.1C83.0 276.8 79.3 280.2 77.2 282.1C75.0 284.1 72.5 285.9 70.0 285.7C67.5 285.6 63.8 284.1 62.4 281.3C61.0 278.4 60.2 271.6 61.5 268.7C62.8 265.8 67.4 264.3 70.0 263.8Z" fill="none" stroke="#333" stroke-width="0.5" opacity="1.0"/>
<path d="M70.0 265.2C72.3 264.8 74.4 265.6 76.3 267.1C78.2 268.6 81.4 271.8 81.4 274.2C81.4 276.6 78.2 279.6 76.3 281.3C74.4 283.0 72.2 284.6 70.0 284.4C67.8 284.3 64.6 283.0 63.3 280.5C62.1 278.0 61.4 272.0 62.5 269.5C63.6 266.9 67.7 265.6 70.0 265.2Z" fill="none" stroke="#333" stroke-width="0.5" opacity="1.0"/>
<path d="M70.0 266.5C72.0 266.1 73.8 266.9 75.5 268.2C77.1 269.5 79.9 272.3 79.9 274.3C79.9 276.4 77.1 279.0 75.5 280.4C73.8 281.9 71.9 283.3 70.0 283.2C68.1 283.1 65.3 281.9 64.2 279.8C63.1 277.6 62.6 272.4 63.5 270.2C64.5 268.0 68.0 266.8 70.0 266.5Z" fill="none" stroke="#333" stroke-width="0.5" opacity="1.0"/>
<path d="M70.0 267.8C71.7 267.5 73.2 268.1 74.6 269.2C76.0 270.4 78.3 272.7 78.3 274.4C78.3 276.2 76.0 278.4 74.6 279.6C73.2 280.8 71.6 282.0 70.0 281.9C68.4 281.8 66.0 280.8 65.1 279.0C64.2 277.2 63.7 272.8 64.5 271.0C65.4 269.1 68.3 268.1 70.0 267.8Z" fill="none" stroke="#333" stroke-width="0.5" opacity="1.0"/>
<path d="M70.0 269.1C71.4 268.9 72.6 269.4 73.8 270.3C74.9 271.2 76.8 273.1 76.8 274.5C76.8 275.9 74.9 277.7 73.8 278.8C72.6 279.8 71.3 280.7 70.0 280.6C68.7 280.5 66.8 279.8 66.0 278.3C65.3 276.8 64.9 273.2 65.5 271.7C66.2 270.2 68.6 269.4 70.0 269.1Z" fill="none" stroke="#333" stroke-width="0.5" opacity="1.0"/>
<path d="M70.0 270.5C71.1 270.3 72.0 270.7 72.9 271.4C73.8 272.1 75.3 273.6 75.3 274.6C75.3 275.7 73.8 277.1 72.9 277.9C72.0 278.7 71.0 279.4 70.0 279.4C69.0 279.3 67.5 278.7 66.9 277.5C66.3 276.4 66.0 273.6 66.6 272.5C67.1 271.3 68.9 270.6 70.0 270.5Z" fill="none" stroke="#333" stroke-width="0.5" opacity="1.0"/>
<path d="M70.0 271.8C70.7 271.7 71.4 271.9 72.0 272.4C72.7 272.9 73.7 274.0 73.7 274.7C73.7 275.5 72.7 276.5 72.0 277.1C71.4 277.6 70.7 278.1 70.0 278.1C69.3 278.0 68.2 277.6 67.8 276.8C67.4 276.0 67.2 274.0 67.6 273.2C67.9 272.4 69.3 271.9 70.0 271.8Z" fill="none" stroke="#333" stroke-width="0.5" opacity="1.0"/>
<path d="M70.0 273.1C70.4 273.1 70.8 273.2 71.2 273.5C71.6 273.8 72.2 274.4 72.2 274.9C72.2 275.3 71.6 275.9 71.2 276.2C70.8 276.5 70.4 276.8 70.0 276.8C69.6 276.8 69.0 276.5 68.7 276.1C68.5 275.6 68.4 274.4 68.6 273.9C68.8 273.5 69.6 273.2 70.0 273.1Z" fill="none" stroke="#333" stroke-width="0.5" opacity="1.0"/>
<ellipse cx="70" cy="275" rx="6" ry="7" fill="#333" opacity="0.3"/>
<path d="M212.3 286.0h0.6M210.2 279.2h0.6M232.0 276.6h0.6M229.1 270.0h0.6M229.7 279.5h0.6M205.9 283.0h0.6M210.2 273.4h0.6M221.7 274.3h0.6M221.7 272.7h0.6M225.9 277.4h0.6M231.7 278.6h0.6M222.2 284.4h0.6M203.3 284.4h0.6M213.2 292.2h0.6M215.4 280.4h0.6M215.0 267.5h0.6M229.9 284.5h0.6M235.1 285.1h0.6M213.2 263.3h0.6M211.1 270.0h0.6M207.7 278.3h0.6M222.2 274.8h0.6M220.2 275.4h0.6M219.6 281.6h0.6M230.2 273.3h0.6M218.0 283.9h0.6M220.1 266.1h0.6M211.0 279.9h0.6M228.8 289.2h0.6M209.5 264.5h0.6M223.0 283.6h0.6M221.9 267.4h0.6M226.3 283.1h0.6M225.1 273.8h0.6M220.6 282.1h0.6M221.3 280.0h0.6M217.1 282.2h0.6M211.2 274.2h0.6M213.7 279.3h0.6M237.2 277.6h0.6M240.4 290.8h0.6M226.6 281.7h0.6M239.1 278.4h0.6M218.0 268.4h0.6M222.0 286.3h0.6M223.8 280.0h0.6M215.4 276.8h0.6M214.5 267.5h0.6M210.1 268.7h0.6M226.8 285.1h0.6M200.8 279.6h0.6M229.2 273.9h0.6M201.3 267.8h0.6M210.1 277.0h0.6M222.6 265.9h0.6M230.2 269.6h0.6M210.8 268.7h0.6M210.0 283.8h0.6M227.3 281.9h0.6M223.7 266.0h0.6M212.5 271.1h0.6M205.8 277.5h0.6M210.1 269.6h0.6M223.4 286.4h0.6M221.3 269.6h0.6M232.0 280.6h0.6M227.2 288.1h0.6M231.9 275.3h0.6M229.5 283.5h0.6M200.3 270.0h0.6M201.3 272.3h0.6M226.1 269.8h0.6M220.7 286.9h0.6M201.1 280.6h0.6M240.1 294.2h0.6M215.2 277.4h0.6M215.0 282.6h0.6M230.2 278.8h0.6M201.0 278.3h0.6M211.7 279.4h0.6M219.1 287.7h0.6M232.0 275.3h0.6M220.0 288.9h0.6M211.1 277.9h0.6M230.5 287.1h0.6M225.7 268.0h0.6M202.8 275.1h0.6M219.5 294.4h0.6M206.4 282.0h0.6M229.1 266.1h0.6M208.1 275.4h0.6M212.4 273.9h0.6M224.5 271.4h0.6M224.3 272.6h0.6M210.9 278.6h0.6M210.9 276.8h0.6M236.9 279.5h0.6M215.4 280.8h0.6M212.4 282.7h0.6M202.1 277.6h0.6M212.9 269.4h0.6M239.9 273.8h0.6M238.0 284.2h0.6M236.4 272.3h0.6M230.4 288.5h0.6M216.8 274.9h0.6M246.8 282.3h0.6M213.8 270.8h0.6M222.9 279.2h0.6M218.0 288.2h0.6M213.6 278.6h0.6M236.5 272.1h0.6M228.0 290.8h0.6M203.3 265.6h0.6M225.6 264.1h0.6M222.1 287.1h0.6M209.6 272.6h0.6M218.0 279.9h0.6M213.9 275.4h0.6M211.4 275.7h0.6M204.1 274.0h0.6M240.5 280.5h0.6M202.8 275.1h0.6M208.4 279.5h0.6M222.7 276.1h0.6M208.4 266.6h0.6M233.7 280.5h0.6M204.5 273.1h0.6M220.7 275.4h0.6M216.4 266.0h0.6M203.5 285.5h0.6M208.0 280.3h0.6M219.8 283.7h0.6M204.0 277.8h0.6M223.5 271.7h0.6M224.7 270.8h0.6M208.6 274.2h0.6M208.0 263.8h0.6M212.0 280.4h0.6M211.7 283.9h0.6M205.9 264.5h0.6M235.8 282.0h0.6M230.2 272.3h0.6M227.2 279.5h0.6M225.6 277.5h0.6M233.0 274.0h0.6M208.4 263.8h0.6M232.6 273.3h0.6M206.8 267.3h0.6M214.3 266.3h0.6M215.3 271.1h0.6M212.7 268.2h0.6M219.0 272.9h0.6M219.1 278.0h0.6M212.6 269.4h0.6M229.1 266.7h0.6M209.9 272.5h0.6M212.8 282.1h0.6M211.6 281.7h0.6M231.9 281.5h0.6M223.6 277.9h0.6M225.2 268.6h0.6M229.9 274.3h0.6M229.5 278.7h0.6M231.5 277.4h0.6M213.0 276.8h0.6M213.6 271.4h0.6M219.0 277.2h0.6M235.9 279.5h0.6M238.0 292.3h0.6M237.0 286.9h0.6M219.4 277.2h0.6M217.2 270.7h0.6M218.0 271.4h0.6M236.7 283.1h0.6M217.9 273.0h0.6M206.5 265.9h0.6M214.1 293.7h0.6M217.8 274.9h0.6M234.9 279.9h0.6M220.4 273.8h0.6M209.0 285.1h0.6M227.7 289.9h0.6M213.8 275.5h0.6M206.4 280.8h0.6M200.9 277.0h0.6M229.2 288.0h0.6M205.6 281.6h0.6M210.5 269.3h0.6M201.0 281.2h0.6M238.2 275.3h0.6M209.4 272.1h0.6M246.4 288.1h0.6M208.6 282.8h0.6M240.4 278.1h0.6M210.4 271.0h0.6M203.9 281.1h0.6M222.3 271.3h0.6M227.2 277.7h0.6M203.4 277.8h0.6M230.3 264.6h0.6M239.0 283.2h0.6M229.2 264.8h0.6M209.9 272.1h0.6M232.5 268.2h0.6M214.7 277.9h0.6M222.1 288.0h0.6M226.2 275.3h0.6M205.2 267.1h0.6M210.0 275.6h0.6M215.4 287.4h0.6M222.7 269.2h0.6M235.1 285.8h0.6M220.1 271.2h0.6M229.7 272.4h0.6M202.2 274.6h0.6M220.1 280.7h0.6M224.0 287.1h0.6M206.9 281.0h0.6M205.5 278.7h0.6M219.8 278.1h0.6M229.5 277.9h0.6M230.1 284.4h0.6M220.3 272.4h0.6M209.7 270.8h0.6M215.6 275.4h0.6M252.5 286.6h0.6M228.1 271.7h0.6M210.0 272.3h0.6M221.5 269.3h0.6M257.2 243.5h0.6M246.6 229.3h0.6M224.9 250.2h0.6M228.8 252.8h0.6M230.6 249.3h0.6M187.1 242.3h0.6M178.1 253.0h0.6M231.1 246.4h0.6M208.6 243.3h0.6M261.9 261.8h0.6M223.8 258.3h0.6M193.2 232.5h0.6M215.3 241.0h0.6M213.8 249.5h0.6M226.0 250.2h0.6M224.3 255.4h0.6M260.5 238.1h0.6M228.2 245.9h0.6M232.1 235.7h0.6M189.8 229.5h0.6M235.5 249.5h0.6M226.5 229.1h0.6M217.5 242.0h0.6M196.7 240.7h0.6M239.0 252.4h0.6M224.5 252.1h0.6M212.9 248.6h0.6M225.8 252.4h0.6M223.6 246.9h0.6M222.3 242.8h0.6M269.7 252.1h0.6M233.6 266.3h0.6M253.1 235.5h0.6M238.9 254.7h0.6M262.7 258.5h0.6M240.4 238.6h0.6M207.6 250.2h0.6M235.1 239.8h0.6M217.3 244.8h0.6M226.2 250.7h0.6M219.3 238.1h0.6M249.9 260.8h0.6M222.9 256.2h0.6M233.9 253.3h0.6M234.6 241.9h0.6M236.5 256.1h0.6M207.1 263.7h0.6M266.8 262.6h0.6M264.8 253.9h0.6M218.2 243.2h0.6M208.7 248.9h0.6M224.3 253.4h0.6M184.6 266.5h0.6M270.5 247.8h0.6M238.5 251.8h0.6M230.5 246.3h0.6M222.5 241.4h0.6M228.6 247.8h0.6M231.4 241.2h0.6M225.8 248.4h0.6M237.1 239.5h0.6M233.4 255.9h0.6M236.9 245.1h0.6M215.2 246.1h0.6M239.6 260.4h0.6M221.8 242.9h0.6M232.5 249.6h0.6M206.8 242.1h0.6M223.0 253.4h0.6M201.1 239.9h0.6M235.0 238.2h0.6M227.2 250.8h0.6M222.8 239.9h0.6M223.8 245.3h0.6M231.7 241.3h0.6M246.8 234.6h0.6M221.5 248.1h0.6M244.2 243.1h0.6M235.9 243.5h0.6M239.8 261.9h0.6M217.0 251.5h0.6M206.5 255.8h0.6M249.2 248.3h0.6M202.3 251.2h0.6M248.0 256.7h0.6M241.3 233.4h0.6M211.4 259.4h0.6M200.5 257.1h0.6M262.6 254.1h0.6M247.4 245.3h0.6M200.5 247.2h0.6M221.0 247.6h0.6M238.9 246.8h0.6M228.8 251.4h0.6M224.9 262.7h0.6M233.8 248.7h0.6M220.8 243.0h0.6M251.9 249.2h0.6M203.4 243.5h0.6M222.3 244.4h0.6M246.7 238.7h0.6M234.8 249.1h0.6M201.4 248.4h0.6M223.1 252.0h0.6M216.0 250.4h0.6M191.7 239.3h0.6M240.7 256.3h0.6M224.7 243.2h0.6M246.7 231.3h0.6M209.0 253.4h0.6M238.1 239.7h0.6M187.3 259.6h0.6M228.1 240.8h0.6M226.1 255.2h0.6M173.2 256.9h0.6M239.8 231.4h0.6M240.4 233.8h0.6M247.8 251.2h0.6M270.0 243.1h0.6M225.1 256.4h0.6M183.5 271.5h0.6M185.4 279.1h0.6M180.4 285.8h0.6M191.8 280.9h0.6M199.9 276.1h0.6M197.1 273.4h0.6M189.4 277.9h0.6M184.5 272.7h0.6M185.6 271.4h0.6M172.6 272.8h0.6M184.2 273.7h0.6M180.6 278.4h0.6M193.5 277.0h0.6M184.6 296.3h0.6M194.8 291.1h0.6M196.1 276.1h0.6M187.1 293.4h0.6M184.1 278.6h0.6M190.6 284.5h0.6M186.1 291.8h0.6M186.8 288.7h0.6M195.5 287.9h0.6M193.1 266.1h0.6M178.8 272.6h0.6M191.3 298.0h0.6M179.4 283.7h0.6M182.0 271.2h0.6M186.1 288.3h0.6M189.5 294.2h0.6M181.1 290.7h0.6M194.5 280.8h0.6M191.3 273.2h0.6M180.4 275.1h0.6M183.5 314.7h0.6M184.6 299.8h0.6M189.4 283.7h0.6M193.2 270.7h0.6M194.4 284.5h0.6M177.4 287.2h0.6M191.9 285.4h0.6M199.1 275.0h0.6M191.6 289.0h0.6M181.7 294.4h0.6M177.8 264.4h0.6M191.7 266.9h0.6M188.5 266.4h0.6M191.1 276.8h0.6M188.4 279.2h0.6M188.9 264.1h0.6M170.0 280.4h0.6" stroke="#333" stroke-width="0.6" opacity="1.0" fill="none"/>
<path d="M186.0 241.0C187.8 238.7 190.2 237.9 195.0 237.0C199.8 236.1 208.3 235.8 215.0 235.5C221.7 235.2 229.7 235.2 235.0 235.5C240.3 235.8 244.2 235.9 247.0 237.5C249.8 239.1 251.3 242.2 252.0 245.0C252.7 247.8 252.3 251.4 251.0 254.0C249.7 256.6 248.3 259.2 244.0 260.5C239.7 261.8 231.5 261.4 225.0 261.5C218.5 261.6 210.8 261.6 205.0 261.0C199.2 260.4 193.5 259.7 190.0 258.0C186.5 256.3 184.7 253.8 184.0 251.0C183.3 248.2 184.2 243.3 186.0 241.0Z" fill="none" stroke="#333" stroke-width="0.45" opacity="1.0"/>
<path d="M189.4 241.6C191.1 239.5 193.3 238.8 197.7 237.9C202.1 237.1 209.9 236.8 216.1 236.6C222.2 236.3 229.5 236.3 234.4 236.6C239.3 236.9 242.8 236.9 245.4 238.4C248.0 239.9 249.4 242.8 250.0 245.3C250.6 247.8 250.3 251.2 249.1 253.6C247.9 255.9 246.7 258.4 242.7 259.5C238.7 260.7 231.2 260.4 225.2 260.4C219.3 260.5 212.2 260.5 206.9 260.0C201.5 259.4 196.3 258.8 193.1 257.2C189.9 255.7 188.2 253.4 187.6 250.8C187.0 248.2 187.8 243.8 189.4 241.6Z" fill="none" stroke="#333" stroke-width="0.45" opacity="1.0"/>
<path d="M192.9 242.2C194.4 240.3 196.4 239.6 200.4 238.9C204.4 238.1 211.6 237.8 217.1 237.6C222.7 237.4 229.4 237.3 233.9 237.6C238.3 237.9 241.5 238.0 243.9 239.3C246.3 240.6 247.5 243.3 248.1 245.6C248.6 247.9 248.4 250.9 247.2 253.1C246.1 255.3 245.0 257.5 241.4 258.5C237.8 259.6 230.9 259.3 225.5 259.4C220.1 259.4 213.6 259.4 208.8 259.0C203.9 258.5 199.1 257.8 196.2 256.4C193.3 255.1 191.8 253.0 191.2 250.6C190.6 248.2 191.3 244.2 192.9 242.2Z" fill="none" stroke="#333" stroke-width="0.45" opacity="1.0"/>
<path d="M196.3 242.8C197.7 241.1 199.5 240.5 203.1 239.8C206.7 239.1 213.2 238.9 218.2 238.7C223.2 238.5 229.3 238.4 233.3 238.7C237.3 238.9 240.2 239.0 242.3 240.2C244.5 241.4 245.6 243.8 246.1 245.9C246.6 247.9 246.4 250.7 245.4 252.7C244.3 254.6 243.3 256.6 240.1 257.6C236.8 258.5 230.6 258.2 225.7 258.3C220.8 258.4 215.0 258.4 210.6 257.9C206.2 257.5 202.0 256.9 199.3 255.7C196.7 254.4 195.3 252.5 194.8 250.4C194.3 248.2 194.9 244.6 196.3 242.8Z" fill="none" stroke="#333" stroke-width="0.45" opacity="1.0"/>
<path d="M199.7 243.5C201.0 241.9 202.5 241.4 205.8 240.8C209.1 240.1 214.8 239.9 219.3 239.8C223.7 239.6 229.1 239.5 232.7 239.8C236.3 240.0 238.9 240.0 240.8 241.1C242.7 242.2 243.7 244.3 244.1 246.1C244.6 248.0 244.4 250.5 243.5 252.2C242.6 253.9 241.7 255.7 238.8 256.6C235.8 257.4 230.4 257.2 226.0 257.2C221.6 257.3 216.5 257.3 212.5 256.9C208.6 256.5 204.8 256.0 202.4 254.9C200.1 253.8 198.8 252.1 198.4 250.2C198.0 248.3 198.5 245.0 199.7 243.5Z" fill="none" stroke="#333" stroke-width="0.45" opacity="1.0"/>
<path d="M203.2 244.1C204.3 242.7 205.6 242.2 208.5 241.7C211.4 241.2 216.4 241.0 220.3 240.8C224.3 240.7 229.0 240.6 232.1 240.8C235.3 241.0 237.6 241.1 239.2 242.0C240.9 242.9 241.8 244.8 242.2 246.4C242.6 248.1 242.4 250.2 241.6 251.8C240.8 253.3 240.0 254.9 237.5 255.6C234.9 256.3 230.1 256.1 226.2 256.2C222.4 256.2 217.9 256.2 214.4 255.9C211.0 255.5 207.6 255.1 205.5 254.1C203.5 253.1 202.4 251.7 202.0 250.0C201.6 248.3 202.1 245.4 203.2 244.1Z" fill="none" stroke="#333" stroke-width="0.45" opacity="1.0"/>
<path d="M206.6 244.7C207.6 243.5 208.7 243.1 211.2 242.6C213.7 242.2 218.0 242.0 221.4 241.9C224.8 241.8 228.8 241.7 231.6 241.9C234.3 242.1 236.2 242.1 237.7 242.9C239.1 243.7 239.9 245.3 240.2 246.7C240.6 248.1 240.4 250.0 239.7 251.3C239.0 252.6 238.4 254.0 236.1 254.6C233.9 255.2 229.8 255.1 226.5 255.1C223.2 255.2 219.3 255.2 216.3 254.9C213.3 254.6 210.4 254.2 208.7 253.3C206.9 252.5 205.9 251.2 205.6 249.8C205.3 248.3 205.7 245.9 206.6 244.7Z" fill="none" stroke="#333" stroke-width="0.45" opacity="1.0"/>
<path d="M210.1 245.3C210.8 244.3 211.8 244.0 213.9 243.6C216.0 243.2 219.6 243.1 222.4 242.9C225.3 242.8 228.7 242.8 231.0 242.9C233.3 243.1 234.9 243.1 236.1 243.8C237.3 244.5 238.0 245.8 238.3 247.0C238.5 248.2 238.4 249.7 237.8 250.8C237.3 252.0 236.7 253.1 234.8 253.6C233.0 254.2 229.5 254.0 226.7 254.1C223.9 254.1 220.7 254.1 218.2 253.8C215.7 253.6 213.3 253.3 211.8 252.6C210.3 251.8 209.5 250.8 209.2 249.6C208.9 248.4 209.3 246.3 210.1 245.3Z" fill="none" stroke="#333" stroke-width="0.45" opacity="1.0"/>
<path d="M213.5 245.9C214.1 245.1 214.9 244.8 216.6 244.5C218.3 244.2 221.2 244.1 223.5 244.0C225.8 243.9 228.6 243.9 230.4 244.0C232.3 244.1 233.6 244.2 234.6 244.7C235.5 245.2 236.1 246.3 236.3 247.3C236.5 248.2 236.4 249.5 235.9 250.4C235.5 251.3 235.0 252.2 233.5 252.6C232.0 253.1 229.2 253.0 227.0 253.0C224.7 253.0 222.1 253.0 220.1 252.8C218.0 252.6 216.1 252.4 214.9 251.8C213.7 251.2 213.0 250.3 212.8 249.4C212.6 248.4 212.9 246.7 213.5 245.9Z" fill="none" stroke="#333" stroke-width="0.45" opacity="1.0"/>
<path d="M216.9 246.5C217.4 245.9 218.0 245.7 219.3 245.5C220.6 245.2 222.8 245.1 224.6 245.1C226.3 245.0 228.4 245.0 229.8 245.1C231.3 245.2 232.3 245.2 233.0 245.6C233.8 246.0 234.2 246.9 234.3 247.6C234.5 248.3 234.4 249.3 234.1 249.9C233.7 250.6 233.4 251.3 232.2 251.7C231.1 252.0 228.9 251.9 227.2 251.9C225.5 251.9 223.5 251.9 221.9 251.8C220.4 251.6 218.9 251.4 218.0 251.0C217.1 250.6 216.6 249.9 216.4 249.2C216.2 248.4 216.4 247.1 216.9 246.5Z" fill="none" stroke="#333" stroke-width="0.45" opacity="1.0"/>
<path d="M220.4 247.1C220.7 246.7 221.1 246.6 222.0 246.4C222.9 246.2 224.4 246.2 225.6 246.1C226.8 246.1 228.3 246.1 229.3 246.1C230.2 246.2 230.9 246.2 231.5 246.5C232.0 246.8 232.2 247.4 232.4 247.9C232.5 248.4 232.4 249.0 232.2 249.5C231.9 250.0 231.7 250.5 230.9 250.7C230.1 250.9 228.6 250.8 227.5 250.9C226.3 250.9 224.9 250.9 223.8 250.8C222.8 250.7 221.7 250.5 221.1 250.2C220.5 249.9 220.1 249.5 220.0 249.0C219.9 248.4 220.0 247.6 220.4 247.1Z" fill="none" stroke="#333" stroke-width="0.45" opacity="1.0"/>
<path d="M223.8 247.8C224.0 247.5 224.2 247.4 224.7 247.3C225.2 247.3 226.0 247.2 226.7 247.2C227.4 247.2 228.2 247.2 228.7 247.2C229.2 247.2 229.6 247.2 229.9 247.4C230.2 247.6 230.3 247.9 230.4 248.2C230.5 248.4 230.4 248.8 230.3 249.1C230.2 249.3 230.0 249.6 229.6 249.7C229.2 249.8 228.3 249.8 227.7 249.8C227.0 249.8 226.3 249.8 225.7 249.8C225.1 249.7 224.5 249.6 224.2 249.4C223.8 249.3 223.7 249.0 223.6 248.8C223.5 248.5 223.6 248.0 223.8 247.8Z" fill="none" stroke="#333" stroke-width="0.45" opacity="1.0"/>
<ellipse cx="224" cy="248.5" rx="17" ry="7" fill="#444" opacity="0.25"/>
<ellipse cx="188.00" cy="280.00" rx="8.00" ry="15.00" transform="rotate(0 188.00 280.00)" fill="none" stroke="#222" stroke-width="0.5" opacity="1.0"/>
<ellipse cx="188.00" cy="280.00" rx="7.24" ry="13.58" transform="rotate(0 188.00 280.00)" fill="none" stroke="#222" stroke-width="0.5" opacity="1.0"/>
<ellipse cx="188.00" cy="280.00" rx="6.49" ry="12.17" transform="rotate(0 188.00 280.00)" fill="none" stroke="#222" stroke-width="0.5" opacity="1.0"/>
<ellipse cx="188.00" cy="280.00" rx="5.73" ry="10.75" transform="rotate(0 188.00 280.00)" fill="none" stroke="#222" stroke-width="0.5" opacity="1.0"/>
<ellipse cx="188.00" cy="280.00" rx="4.98" ry="9.33" transform="rotate(0 188.00 280.00)" fill="none" stroke="#222" stroke-width="0.5" opacity="1.0"/>
<ellipse cx="188.00" cy="280.00" rx="4.22" ry="7.92" transform="rotate(0 188.00 280.00)" fill="none" stroke="#222" stroke-width="0.5" opacity="1.0"/>
<ellipse cx="188.00" cy="280.00" rx="3.47" ry="6.50" transform="rotate(0 188.00 280.00)" fill="none" stroke="#222" stroke-width="0.5" opacity="1.0"/>
<ellipse cx="188.00" cy="280.00" rx="2.71" ry="5.08" transform="rotate(0 188.00 280.00)" fill="none" stroke="#222" stroke-width="0.5" opacity="1.0"/>
<ellipse cx="188.00" cy="280.00" rx="1.96" ry="3.67" transform="rotate(0 188.00 280.00)" fill="none" stroke="#222" stroke-width="0.5" opacity="1.0"/>
<ellipse cx="188.00" cy="280.00" rx="1.20" ry="2.25" transform="rotate(0 188.00 280.00)" fill="none" stroke="#222" stroke-width="0.5" opacity="1.0"/>
<ellipse cx="188" cy="280" rx="5" ry="10" fill="#333" opacity="0.35"/>
<ellipse cx="188" cy="280" rx="1.6" ry="4" fill="#fff" opacity="0.8"/>
<path d="M328.0 245.0h0.6M348.4 235.1h0.6M330.6 244.0h0.6M326.1 250.1h0.6M339.9 242.7h0.6M327.2 253.2h0.6M332.1 251.8h0.6M348.7 235.7h0.6M325.7 248.0h0.6M347.1 253.1h0.6M354.0 254.7h0.6M336.4 246.6h0.6M353.6 245.2h0.6M357.9 237.7h0.6M351.8 246.9h0.6M312.5 254.4h0.6M346.7 248.1h0.6M325.9 245.0h0.6M364.7 242.6h0.6M289.9 242.4h0.6M324.0 247.1h0.6M336.1 242.1h0.6M329.4 254.8h0.6M320.4 260.7h0.6M333.8 240.9h0.6M353.8 251.7h0.6M326.4 252.9h0.6M314.4 242.0h0.6M358.9 246.3h0.6M322.5 251.3h0.6M355.8 247.9h0.6M314.9 245.7h0.6M348.3 253.0h0.6M369.8 246.4h0.6M334.8 247.8h0.6M360.1 241.9h0.6M361.6 230.1h0.6M354.0 243.6h0.6M348.9 252.5h0.6M324.3 247.4h0.6M345.6 251.8h0.6M328.0 241.6h0.6M313.1 264.5h0.6M339.1 246.6h0.6M319.6 254.0h0.6M334.0 257.3h0.6M354.8 248.1h0.6M352.9 240.8h0.6M337.1 244.3h0.6M323.0 248.1h0.6M339.8 257.3h0.6M291.7 243.6h0.6M328.2 245.0h0.6M348.3 250.6h0.6M342.4 244.9h0.6M349.4 250.3h0.6M314.4 246.3h0.6M321.4 240.3h0.6M344.2 248.4h0.6M343.7 242.3h0.6M339.0 242.1h0.6M347.7 252.5h0.6M368.3 256.2h0.6M329.9 245.0h0.6M327.9 250.0h0.6M371.7 252.6h0.6M309.0 239.8h0.6M322.6 251.3h0.6M342.0 249.9h0.6M368.7 242.6h0.6M329.3 260.8h0.6M347.1 242.9h0.6M311.6 238.1h0.6M305.3 248.4h0.6M342.7 254.5h0.6M339.9 243.5h0.6M330.9 260.4h0.6M315.5 249.1h0.6M342.4 252.0h0.6M335.9 251.2h0.6M354.2 247.0h0.6M335.1 246.8h0.6M327.5 246.6h0.6M337.5 249.4h0.6M362.0 256.5h0.6M335.3 251.9h0.6M346.4 253.0h0.6M342.3 249.7h0.6M335.0 242.9h0.6M355.1 256.4h0.6M351.9 250.8h0.6M346.0 245.1h0.6M315.3 252.3h0.6M345.0 244.4h0.6M327.5 256.3h0.6M314.9 259.5h0.6M351.6 263.4h0.6M331.2 247.9h0.6M334.4 249.0h0.6M338.9 243.1h0.6M358.1 242.9h0.6M334.4 251.6h0.6M333.9 245.2h0.6M347.3 245.6h0.6M323.3 247.3h0.6M338.7 259.1h0.6M325.5 254.3h0.6M330.2 245.7h0.6M337.1 249.8h0.6M355.0 259.4h0.6M332.5 256.6h0.6M356.9 253.3h0.6M330.6 253.9h0.6M340.4 250.3h0.6M338.0 252.3h0.6M358.7 255.4h0.6M338.9 254.5h0.6M363.8 241.9h0.6M364.1 239.3h0.6M350.1 251.9h0.6M364.2 249.8h0.6M334.8 242.8h0.6M323.2 253.0h0.6M338.4 243.3h0.6M350.0 243.0h0.6M335.4 245.0h0.6M366.8 257.5h0.6M339.6 237.8h0.6M346.1 248.5h0.6M347.2 251.7h0.6M337.2 254.0h0.6M354.6 249.4h0.6M335.9 244.9h0.6M352.4 240.9h0.6M339.6 243.1h0.6M321.1 251.9h0.6M341.6 248.2h0.6M355.1 238.3h0.6M341.0 249.9h0.6M354.5 240.9h0.6M352.7 249.4h0.6M362.3 255.4h0.6M350.2 262.0h0.6M342.0 245.2h0.6M336.9 241.9h0.6M341.6 235.8h0.6M340.7 250.8h0.6M356.9 245.7h0.6M362.8 243.8h0.6M340.0 235.8h0.6M330.6 242.9h0.6M363.9 251.4h0.6M325.8 251.4h0.6M349.1 246.5h0.6M342.3 246.1h0.6M334.1 236.7h0.6M340.7 256.2h0.6M363.0 246.2h0.6M331.1 246.7h0.6M355.1 250.2h0.6M333.5 250.3h0.6M339.0 251.3h0.6M336.0 238.7h0.6M342.8 252.8h0.6M325.8 247.3h0.6M354.8 245.6h0.6M332.5 260.9h0.6M354.1 254.5h0.6M328.2 258.3h0.6M317.8 244.7h0.6M352.8 256.4h0.6M328.4 243.8h0.6M344.9 235.8h0.6M351.3 251.5h0.6M335.5 251.4h0.6M353.3 250.0h0.6M349.6 257.6h0.6M335.0 249.0h0.6M334.4 254.5h0.6M336.1 251.0h0.6M344.0 248.4h0.6M367.0 247.5h0.6M362.6 253.2h0.6M361.2 247.0h0.6M355.5 252.8h0.6M333.1 249.7h0.6M340.1 247.8h0.6M360.9 243.5h0.6M317.6 237.1h0.6M335.4 244.0h0.6M342.2 251.6h0.6M367.5 249.9h0.6M348.7 243.4h0.6M350.4 256.5h0.6M361.4 235.7h0.6M354.9 257.9h0.6M354.0 238.6h0.6M337.6 251.7h0.6M348.0 242.9h0.6M329.1 254.0h0.6M322.7 257.0h0.6M342.3 249.9h0.6M322.7 244.3h0.6M352.0 238.8h0.6M371.9 239.2h0.6M324.4 248.3h0.6M349.0 252.6h0.6M336.6 246.7h0.6M338.6 244.4h0.6M304.8 254.0h0.6M345.6 249.0h0.6M332.9 249.6h0.6M341.8 247.5h0.6M357.9 237.2h0.6M345.6 241.3h0.6M337.4 257.4h0.6M326.4 247.4h0.6M333.5 253.9h0.6M327.9 237.5h0.6M349.4 245.8h0.6M337.4 254.7h0.6M329.2 245.7h0.6M344.1 250.6h0.6M334.6 254.5h0.6M374.3 245.4h0.6M368.9 234.8h0.6M362.3 245.9h0.6M344.0 245.9h0.6M332.8 240.0h0.6M336.3 256.1h0.6M358.4 245.8h0.6M334.4 243.6h0.6M324.7 259.3h0.6M351.6 248.7h0.6M334.9 241.6h0.6M361.0 252.9h0.6M328.3 254.2h0.6M326.1 252.0h0.6M328.2 245.4h0.6M349.1 250.7h0.6M356.6 242.8h0.6M364.7 256.4h0.6M341.9 250.9h0.6M330.8 247.0h0.6M323.0 248.6h0.6M344.9 256.4h0.6M355.6 253.1h0.6M336.8 246.6h0.6M337.1 249.4h0.6M314.2 252.8h0.6M319.4 244.8h0.6M342.3 244.8h0.6M365.9 247.4h0.6M364.6 255.3h0.6M334.8 250.5h0.6M360.7 245.9h0.6M343.3 244.5h0.6M342.8 245.8h0.6M343.2 254.3h0.6M362.1 248.8h0.6M329.7 288.7h0.6M329.8 269.1h0.6M347.1 276.7h0.6M344.9 275.6h0.6M356.5 279.0h0.6M335.8 297.4h0.6M313.0 289.0h0.6M325.4 260.3h0.6M336.8 289.6h0.6M335.7 256.3h0.6M330.3 277.0h0.6M326.2 275.6h0.6M309.3 266.7h0.6M347.7 302.2h0.6M327.8 271.9h0.6M331.5 291.4h0.6M343.0 272.8h0.6M331.6 282.0h0.6M344.2 297.4h0.6M332.6 293.4h0.6M320.0 292.1h0.6M323.3 281.6h0.6M344.6 276.0h0.6M326.9 260.9h0.6M332.3 280.3h0.6M324.2 283.0h0.6M303.3 270.1h0.6M332.0 278.0h0.6M334.3 299.5h0.6M327.5 269.5h0.6M322.1 278.1h0.6M340.2 274.9h0.6M346.0 275.4h0.6M339.0 287.7h0.6M328.8 301.6h0.6M327.2 277.3h0.6M333.2 290.0h0.6M312.2 276.3h0.6M318.6 282.3h0.6M347.1 286.8h0.6M328.1 281.2h0.6M290.1 273.4h0.6M336.5 284.1h0.6M327.4 271.6h0.6M323.8 290.1h0.6M324.3 291.7h0.6M299.0 264.0h0.6M333.5 281.1h0.6M311.2 266.4h0.6M350.0 274.1h0.6M321.1 265.5h0.6M320.9 283.3h0.6M344.2 264.4h0.6M350.4 281.4h0.6M317.1 292.3h0.6M333.0 268.4h0.6M324.3 270.5h0.6M318.3 272.4h0.6M339.9 287.2h0.6M303.4 298.8h0.6M317.1 276.5h0.6M327.9 287.0h0.6M324.4 282.6h0.6M356.3 290.5h0.6M315.2 278.0h0.6M321.1 273.0h0.6M331.3 283.9h0.6M323.6 286.3h0.6M331.8 267.3h0.6M342.3 280.8h0.6M347.5 279.7h0.6M336.2 285.5h0.6M300.8 254.1h0.6M311.2 287.5h0.6M303.2 279.6h0.6M342.2 289.5h0.6M340.1 278.6h0.6M329.1 282.0h0.6M333.0 288.3h0.6M329.7 272.7h0.6M321.5 281.1h0.6M313.1 261.1h0.6M326.6 273.1h0.6M335.3 254.7h0.6M326.5 276.2h0.6M346.3 265.7h0.6M324.6 282.9h0.6M332.3 293.0h0.6M346.8 275.4h0.6M339.1 279.9h0.6M314.8 290.2h0.6M324.9 269.4h0.6M327.6 270.4h0.6M341.5 288.1h0.6M346.4 290.2h0.6M318.8 286.6h0.6M323.2 272.8h0.6M327.8 279.6h0.6M347.1 280.0h0.6M334.5 281.4h0.6M317.7 264.3h0.6M325.9 282.6h0.6M332.5 285.8h0.6M332.1 276.2h0.6M338.7 272.9h0.6M314.1 270.8h0.6M313.6 268.7h0.6M322.4 271.5h0.6M332.1 272.5h0.6M330.3 262.6h0.6M334.7 272.7h0.6M344.4 256.3h0.6M319.0 278.5h0.6M300.2 265.5h0.6M330.9 281.4h0.6M310.3 275.2h0.6M335.1 271.9h0.6M339.6 283.0h0.6M331.7 276.0h0.6M336.6 283.4h0.6M342.9 289.3h0.6M322.9 275.1h0.6M342.9 280.9h0.6M333.1 286.5h0.6M335.4 258.0h0.6M331.0 282.6h0.6M334.2 273.7h0.6M345.8 284.4h0.6M324.4 270.6h0.6M338.2 271.7h0.6M310.7 293.5h0.6M343.2 295.6h0.6M345.4 291.7h0.6M304.6 283.1h0.6M344.1 290.2h0.6M301.0 282.2h0.6M349.0 281.9h0.6M329.1 287.7h0.6M325.3 289.6h0.6M328.7 286.7h0.6M336.0 266.9h0.6M306.8 304.2h0.6M329.2 293.2h0.6M338.8 300.9h0.6M339.0 277.1h0.6M336.6 262.6h0.6M324.6 287.4h0.6M301.8 271.8h0.6M336.1 295.9h0.6M320.3 269.8h0.6M309.4 262.0h0.6M329.9 301.4h0.6M310.8 287.2h0.6M337.1 277.5h0.6M366.4 267.2h0.6M328.4 281.7h0.6M351.2 306.3h0.6M358.5 291.8h0.6M338.0 297.0h0.6M335.3 285.7h0.6M329.0 275.4h0.6M307.8 292.1h0.6M331.2 258.9h0.6M333.5 280.9h0.6M326.2 297.4h0.6M329.5 277.1h0.6M320.5 276.3h0.6M323.7 279.8h0.6M368.7 298.1h0.6M312.6 293.6h0.6M338.3 291.5h0.6M336.4 290.8h0.6M333.9 296.0h0.6M338.4 297.0h0.6M323.6 277.6h0.6M317.5 285.4h0.6M342.2 279.6h0.6M328.7 306.7h0.6M349.6 275.6h0.6M326.7 285.4h0.6M328.3 283.4h0.6M344.0 288.5h0.6M313.6 281.4h0.6M328.4 280.6h0.6M327.4 264.7h0.6M315.2 271.0h0.6M325.3 250.2h0.6M348.6 274.7h0.6M318.9 281.5h0.6M294.6 281.0h0.6M318.0 282.5h0.6M322.8 280.6h0.6M331.4 280.5h0.6M311.5 258.0h0.6M324.8 292.7h0.6M321.2 282.3h0.6M330.5 285.2h0.6M347.7 270.9h0.6M334.1 279.7h0.6M328.8 270.7h0.6M323.4 266.9h0.6M307.6 297.9h0.6M351.8 288.0h0.6M342.8 274.5h0.6M300.4 250.3h0.6M327.0 293.8h0.6M332.8 270.6h0.6M330.2 269.7h0.6M312.9 271.4h0.6M327.6 270.7h0.6M321.7 267.3h0.6M328.4 293.9h0.6M319.9 299.5h0.6M308.3 275.0h0.6M315.7 273.1h0.6M329.4 285.6h0.6M346.3 280.2h0.6M314.7 272.5h0.6M336.1 275.0h0.6M335.8 299.6h0.6M310.6 276.7h0.6M349.4 267.1h0.6M333.4 278.9h0.6M307.4 285.4h0.6M334.4 276.6h0.6M333.5 288.0h0.6M337.9 288.9h0.6M339.2 271.1h0.6M324.2 279.2h0.6M287.4 286.6h0.6M328.6 268.6h0.6M305.8 273.8h0.6M332.4 274.8h0.6M327.6 269.9h0.6M320.7 275.6h0.6M319.5 283.2h0.6M327.7 280.5h0.6M331.0 293.5h0.6M337.0 284.9h0.6M330.6 271.9h0.6M323.3 284.7h0.6M334.2 277.5h0.6M318.0 259.7h0.6M330.7 290.9h0.6M339.4 269.2h0.6M326.5 281.0h0.6M317.1 278.9h0.6M330.2 271.4h0.6M311.4 281.6h0.6M337.5 273.5h0.6M314.0 283.4h0.6M338.7 280.0h0.6M351.4 284.8h0.6M312.8 285.1h0.6M326.4 282.3h0.6M333.8 271.0h0.6M315.4 272.7h0.6M351.4 277.4h0.6M346.7 288.4h0.6M314.9 277.3h0.6M340.3 274.4h0.6M301.5 273.3h0.6M314.3 278.9h0.6M306.0 269.8h0.6M324.6 262.7h0.6M326.3 280.4h0.6M326.8 266.6h0.6M338.5 265.0h0.6M335.2 287.0h0.6M348.5 295.9h0.6M333.7 284.1h0.6M334.8 268.0h0.6M347.0 291.6h0.6M330.2 268.2h0.6M347.2 291.8h0.6M312.6 280.6h0.6M354.3 288.6h0.6M336.5 278.1h0.6M318.4 286.9h0.6M369.0 295.4h0.6M325.8 286.7h0.6M323.7 285.2h0.6M344.0 274.6h0.6M316.5 274.3h0.6M339.7 286.4h0.6M350.4 273.2h0.6M338.4 276.6h0.6M330.2 283.4h0.6M318.4 273.4h0.6M314.3 277.0h0.6M320.8 271.5h0.6M335.0 275.1h0.6M346.8 279.5h0.6M339.9 286.5h0.6M317.5 273.2h0.6M320.5 272.8h0.6M320.5 295.3h0.6M319.5 292.4h0.6M340.0 270.2h0.6M298.2 275.4h0.6M297.0 256.6h0.6M304.6 254.0h0.6M301.5 249.1h0.6M302.7 248.7h0.6M300.7 248.1h0.6M304.9 246.2h0.6M303.0 242.1h0.6M300.2 240.4h0.6M301.5 256.3h0.6M302.8 247.2h0.6M303.5 248.3h0.6M302.9 253.1h0.6M303.4 231.8h0.6M298.7 257.0h0.6M301.7 268.4h0.6M301.4 246.7h0.6M305.8 255.3h0.6M306.8 254.9h0.6M301.5 256.6h0.6M300.0 247.5h0.6M300.6 249.3h0.6M304.0 247.3h0.6M302.8 247.1h0.6M304.2 229.7h0.6M301.5 252.3h0.6M299.3 258.8h0.6M302.5 260.9h0.6M304.4 256.0h0.6M301.6 242.6h0.6M301.4 247.4h0.6M302.6 247.4h0.6M309.7 238.6h0.6M305.0 247.4h0.6M301.4 258.2h0.6M302.0 241.6h0.6M303.0 249.5h0.6M296.8 252.5h0.6M299.3 245.2h0.6M303.2 253.3h0.6M301.3 267.8h0.6M303.1 246.3h0.6M302.6 250.1h0.6M296.5 238.8h0.6M298.5 267.0h0.6M301.5 248.9h0.6M300.6 258.6h0.6M302.1 264.2h0.6M304.0 263.7h0.6M301.7 253.9h0.6M300.9 249.7h0.6M297.7 246.5h0.6M299.6 246.0h0.6M305.1 253.0h0.6M305.1 257.6h0.6M304.3 258.7h0.6M300.5 257.2h0.6M301.2 246.9h0.6M305.0 267.7h0.6M299.5 264.4h0.6M304.1 244.5h0.6M302.7 253.9h0.6M302.9 248.3h0.6M298.8 251.2h0.6M304.2 257.1h0.6M303.7 259.5h0.6M299.5 250.7h0.6M302.9 258.7h0.6M302.4 255.0h0.6M302.3 267.2h0.6M296.5 250.8h0.6M308.2 252.8h0.6M297.4 252.0h0.6M298.4 245.8h0.6M302.6 264.2h0.6M303.2 256.2h0.6M304.6 252.5h0.6M299.9 250.2h0.6M302.8 248.9h0.6M300.3 248.2h0.6M298.2 243.1h0.6M301.8 248.2h0.6M302.1 261.8h0.6M302.8 250.8h0.6M299.1 242.7h0.6M302.9 244.3h0.6M303.1 242.7h0.6M302.3 250.4h0.6M304.5 248.0h0.6M301.1 252.9h0.6M302.1 264.0h0.6M301.4 246.9h0.6M301.2 254.6h0.6M302.6 256.3h0.6M298.5 270.1h0.6M306.6 250.8h0.6M299.0 252.2h0.6M303.0 233.8h0.6M302.0 239.6h0.6M303.1 261.6h0.6M304.6 239.4h0.6" stroke="#333" stroke-width="0.6" opacity="1.0" fill="none"/>
<ellipse cx="302.50" cy="277.00" rx="8.50" ry="15.00" transform="rotate(0 302.50 277.00)" fill="none" stroke="#222" stroke-width="0.5" opacity="1.0"/>
<ellipse cx="302.50" cy="277.00" rx="7.67" ry="13.53" transform="rotate(0 302.50 277.00)" fill="none" stroke="#222" stroke-width="0.5" opacity="1.0"/>
<ellipse cx="302.50" cy="277.00" rx="6.84" ry="12.07" transform="rotate(0 302.50 277.00)" fill="none" stroke="#222" stroke-width="0.5" opacity="1.0"/>
<ellipse cx="302.50" cy="277.00" rx="6.01" ry="10.60" transform="rotate(0 302.50 277.00)" fill="none" stroke="#222" stroke-width="0.5" opacity="1.0"/>
<ellipse cx="302.50" cy="277.00" rx="5.18" ry="9.13" transform="rotate(0 302.50 277.00)" fill="none" stroke="#222" stroke-width="0.5" opacity="1.0"/>
<ellipse cx="302.50" cy="277.00" rx="4.34" ry="7.67" transform="rotate(0 302.50 277.00)" fill="none" stroke="#222" stroke-width="0.5" opacity="1.0"/>
<ellipse cx="302.50" cy="277.00" rx="3.51" ry="6.20" transform="rotate(0 302.50 277.00)" fill="none" stroke="#222" stroke-width="0.5" opacity="1.0"/>
<ellipse cx="302.50" cy="277.00" rx="2.68" ry="4.73" transform="rotate(0 302.50 277.00)" fill="none" stroke="#222" stroke-width="0.5" opacity="1.0"/>
<ellipse cx="302.50" cy="277.00" rx="1.85" ry="3.27" transform="rotate(0 302.50 277.00)" fill="none" stroke="#222" stroke-width="0.5" opacity="1.0"/>
<ellipse cx="302.50" cy="277.00" rx="1.02" ry="1.80" transform="rotate(0 302.50 277.00)" fill="none" stroke="#222" stroke-width="0.5" opacity="1.0"/>
<ellipse cx="302.5" cy="277" rx="4" ry="8" fill="#222" opacity="0.5"/>
<path d="M302.0 243.0C303.4 242.2 304.0 248.7 305.5 252.0C307.0 255.3 306.9 259.7 311.0 263.0C315.1 266.3 325.7 268.7 330.0 272.0C334.3 275.3 337.3 280.8 337.0 283.0C336.7 285.2 332.2 284.5 328.0 285.0C323.8 285.5 316.3 285.2 312.0 286.0C307.7 286.8 305.0 291.0 302.0 290.0C299.0 289.0 294.8 285.5 294.0 280.0C293.2 274.5 295.7 263.2 297.0 257.0C298.3 250.8 300.6 243.8 302.0 243.0Z" fill="none" stroke="#555" stroke-width="0.45" opacity="1.0"/>
<path d="M302.0 247.9C303.2 247.2 303.7 252.8 305.0 255.6C306.2 258.4 306.2 262.1 309.6 264.9C313.1 267.8 322.1 269.8 325.8 272.6C329.5 275.4 332.0 280.1 331.8 281.9C331.5 283.8 327.6 283.2 324.1 283.6C320.6 284.1 314.2 283.8 310.5 284.5C306.8 285.2 304.6 288.8 302.0 287.9C299.4 287.0 295.9 284.1 295.2 279.4C294.5 274.7 296.6 265.1 297.8 259.9C298.9 254.6 300.8 248.7 302.0 247.9Z" fill="none" stroke="#555" stroke-width="0.45" opacity="1.0"/>
<path d="M302.0 252.9C303.0 252.3 303.4 256.9 304.4 259.2C305.5 261.5 305.4 264.6 308.3 266.9C311.2 269.2 318.6 270.9 321.6 273.2C324.6 275.5 326.7 279.4 326.5 280.9C326.3 282.4 323.1 281.9 320.2 282.3C317.3 282.7 312.0 282.4 309.0 283.0C306.0 283.6 304.1 286.5 302.0 285.8C299.9 285.1 297.0 282.7 296.4 278.8C295.8 274.9 297.6 267.0 298.5 262.7C299.4 258.4 301.0 253.5 302.0 252.9Z" fill="none" stroke="#555" stroke-width="0.45" opacity="1.0"/>
<path d="M302.0 257.9C302.8 257.4 303.1 261.0 303.9 262.8C304.8 264.6 304.7 267.0 306.9 268.9C309.2 270.7 315.0 272.0 317.4 273.8C319.8 275.6 321.4 278.7 321.2 279.9C321.1 281.0 318.6 280.7 316.3 280.9C314.0 281.2 309.9 281.0 307.5 281.5C305.1 282.0 303.6 284.2 302.0 283.7C300.4 283.1 298.1 281.2 297.6 278.2C297.1 275.2 298.5 268.9 299.2 265.6C300.0 262.2 301.2 258.3 302.0 257.9Z" fill="none" stroke="#555" stroke-width="0.45" opacity="1.0"/>
<rect x="46.70" y="203.20" width="111.80" height="112.30" fill="none" stroke="#555" stroke-width="0.9"/>
<line x1="85.20" y1="203.20" x2="85.20" y2="315.50" stroke="#555" stroke-width="0.9"/>
<line x1="46.70" y1="261.50" x2="158.50" y2="261.50" stroke="#555" stroke-width="0.9"/>
<rect x="85.20" y="203.70" width="72.80" height="57.80" fill="none" stroke="#198239" stroke-width="1.9"/>
<rect x="162.50" y="203.50" width="112.70" height="112.70" fill="none" stroke="#555" stroke-width="0.9"/>
<line x1="199.80" y1="203.50" x2="199.80" y2="316.20" stroke="#555" stroke-width="0.9"/>
<line x1="162.50" y1="263.00" x2="275.20" y2="263.00" stroke="#555" stroke-width="0.9"/>
<rect x="199.80" y="204.00" width="74.90" height="59.00" fill="none" stroke="#198239" stroke-width="1.9"/>
<rect x="278.80" y="203.30" width="112.70" height="112.30" fill="none" stroke="#555" stroke-width="0.9"/>
<line x1="316.00" y1="203.30" x2="316.00" y2="315.60" stroke="#555" stroke-width="0.9"/>
<line x1="278.80" y1="262.60" x2="391.50" y2="262.60" stroke="#555" stroke-width="0.9"/>
<rect x="316.00" y="203.80" width="75.00" height="58.80" fill="none" stroke="#198239" stroke-width="1.9"/>
<text x="50.20" y="214.60" font-size="7.8" text-anchor="start" fill="#222" font-weight="normal" stroke="#222" stroke-width="0.1">2.33</text>
<text x="154.40" y="214.60" font-size="7.8" text-anchor="end" fill="#222" font-weight="normal" stroke="#222" stroke-width="0.1">0.38</text>
<text x="50.20" y="311.50" font-size="7.8" text-anchor="start" fill="#222" font-weight="normal" stroke="#222" stroke-width="0.1">94.5</text>
<text x="154.00" y="311.50" font-size="7.8" text-anchor="end" fill="#222" font-weight="normal" stroke="#222" stroke-width="0.1">2.79</text>
<text x="167.00" y="215.00" font-size="7.8" text-anchor="start" fill="#222" font-weight="normal" stroke="#222" stroke-width="0.1">8.86</text>
<text x="270.50" y="215.00" font-size="7.8" text-anchor="end" fill="#222" font-weight="normal" stroke="#222" stroke-width="0.1">59.6</text>
<text x="167.00" y="311.70" font-size="7.8" text-anchor="start" fill="#222" font-weight="normal" stroke="#222" stroke-width="0.1">26.9</text>
<text x="270.50" y="311.70" font-size="7.8" text-anchor="end" fill="#222" font-weight="normal" stroke="#222" stroke-width="0.1">4.63</text>
<text x="282.50" y="215.00" font-size="7.8" text-anchor="start" fill="#222" font-weight="normal" stroke="#222" stroke-width="0.1">3.31</text>
<text x="386.30" y="215.00" font-size="7.8" text-anchor="end" fill="#222" font-weight="normal" stroke="#222" stroke-width="0.1">2.99</text>
<text x="282.50" y="311.50" font-size="7.8" text-anchor="start" fill="#222" font-weight="normal" stroke="#222" stroke-width="0.1">86.9</text>
<text x="386.30" y="311.50" font-size="7.8" text-anchor="end" fill="#222" font-weight="normal" stroke="#222" stroke-width="0.1">6.83</text>
<text x="219.00" y="345.80" font-size="7.7" text-anchor="middle" fill="#2b2b2b" font-weight="normal" stroke="#2b2b2b" stroke-width="0.1">Gated on CD45RA–CD4+</text>
<line x1="53.70" y1="351.90" x2="387.00" y2="351.90" stroke="#2b4060" stroke-width="1.05"/>
<line x1="46.50" y1="473.60" x2="366.00" y2="473.60" stroke="#23466b" stroke-width="1.3"/>
<path d="M369.00 473.60L362.70 470.90L364.20 473.60L362.70 476.30Z" fill="#23466b"/>
<line x1="40.80" y1="464.00" x2="40.80" y2="366.00" stroke="#23466b" stroke-width="1.3"/>
<path d="M40.80 363.00L38.10 369.30L40.80 367.80L43.50 369.30Z" fill="#23466b"/>
<text x="35.20" y="450.00" font-size="7.9" text-anchor="middle" fill="#222" stroke="#222" stroke-width="0" transform="rotate(-90 35.20 450.00)" textLength="14.2" lengthAdjust="spacingAndGlyphs">SSA</text>
<text x="58.20" y="485.40" font-size="7.3" text-anchor="start" fill="#2b2b2b" font-weight="normal" stroke="#2b2b2b" stroke-width="0.1">CXCR5</text>
<rect x="46.70" y="355.50" width="111.70" height="112.50" fill="none" stroke="#555" stroke-width="0.9"/>
<rect x="162.50" y="356.20" width="112.70" height="112.00" fill="none" stroke="#555" stroke-width="0.9"/>
<rect x="278.80" y="356.20" width="112.50" height="112.00" fill="none" stroke="#555" stroke-width="0.9"/>
<ellipse cx="75.30" cy="441.20" rx="10.00" ry="10.80" transform="rotate(0 75.30 441.20)" fill="none" stroke="#222" stroke-width="0.6" opacity="1.0"/>
<ellipse cx="75.30" cy="441.20" rx="9.16" ry="9.90" transform="rotate(0 75.30 441.20)" fill="none" stroke="#222" stroke-width="0.6" opacity="1.0"/>
<ellipse cx="75.30" cy="441.20" rx="8.33" ry="8.99" transform="rotate(0 75.30 441.20)" fill="none" stroke="#222" stroke-width="0.6" opacity="1.0"/>
<ellipse cx="75.30" cy="441.20" rx="7.49" ry="8.09" transform="rotate(0 75.30 441.20)" fill="none" stroke="#222" stroke-width="0.6" opacity="1.0"/>
<ellipse cx="75.30" cy="441.20" rx="6.65" ry="7.19" transform="rotate(0 75.30 441.20)" fill="none" stroke="#222" stroke-width="0.6" opacity="1.0"/>
<ellipse cx="75.30" cy="441.20" rx="5.82" ry="6.28" transform="rotate(0 75.30 441.20)" fill="none" stroke="#222" stroke-width="0.6" opacity="1.0"/>
<ellipse cx="75.30" cy="441.20" rx="4.98" ry="5.38" transform="rotate(0 75.30 441.20)" fill="none" stroke="#222" stroke-width="0.6" opacity="1.0"/>
<ellipse cx="75.30" cy="441.20" rx="4.15" ry="4.48" transform="rotate(0 75.30 441.20)" fill="none" stroke="#222" stroke-width="0.6" opacity="1.0"/>
<ellipse cx="75.30" cy="441.20" rx="3.31" ry="3.57" transform="rotate(0 75.30 441.20)" fill="none" stroke="#222" stroke-width="0.6" opacity="1.0"/>
<ellipse cx="75.30" cy="441.20" rx="2.47" ry="2.67" transform="rotate(0 75.30 441.20)" fill="none" stroke="#222" stroke-width="0.6" opacity="1.0"/>
<ellipse cx="75.30" cy="441.20" rx="1.64" ry="1.77" transform="rotate(0 75.30 441.20)" fill="none" stroke="#222" stroke-width="0.6" opacity="1.0"/>
<ellipse cx="75.30" cy="441.20" rx="0.80" ry="0.86" transform="rotate(0 75.30 441.20)" fill="none" stroke="#222" stroke-width="0.6" opacity="1.0"/>
<ellipse cx="75.3" cy="441.2" rx="7.5" ry="8" fill="#222" opacity="0.55"/>
<path d="M86.0 437.0C87.5 435.0 91.3 436.1 95.0 436.0C98.7 435.9 104.5 436.1 108.0 436.5C111.5 436.9 114.2 437.4 116.0 438.5C117.8 439.6 118.5 441.3 118.5 443.0C118.5 444.7 117.8 447.3 116.0 448.5C114.2 449.7 111.5 449.8 108.0 450.0C104.5 450.2 98.7 449.8 95.0 449.5C91.3 449.2 87.5 450.1 86.0 448.0C84.5 445.9 84.5 439.0 86.0 437.0Z" fill="none" stroke="#333" stroke-width="0.5" opacity="1.0"/>
<path d="M88.2 437.7C89.5 436.0 92.9 436.9 96.1 436.9C99.3 436.8 104.4 436.9 107.5 437.3C110.6 437.7 113.0 438.1 114.5 439.0C116.1 440.0 116.7 441.5 116.7 443.0C116.7 444.5 116.1 446.8 114.5 447.8C113.0 448.9 110.6 449.0 107.5 449.1C104.4 449.3 99.3 449.0 96.1 448.7C92.9 448.4 89.5 449.2 88.2 447.4C86.9 445.6 86.9 439.5 88.2 437.7Z" fill="none" stroke="#333" stroke-width="0.5" opacity="1.0"/>
<path d="M90.4 438.5C91.5 436.9 94.4 437.8 97.2 437.7C100.0 437.6 104.4 437.8 107.0 438.1C109.7 438.4 111.8 438.8 113.1 439.6C114.4 440.4 115.0 441.7 115.0 443.0C115.0 444.3 114.4 446.3 113.1 447.2C111.8 448.0 109.7 448.2 107.0 448.3C104.4 448.4 100.0 448.2 97.2 447.9C94.4 447.7 91.5 448.4 90.4 446.8C89.2 445.2 89.2 440.0 90.4 438.5Z" fill="none" stroke="#333" stroke-width="0.5" opacity="1.0"/>
<path d="M92.6 439.2C93.5 437.9 95.9 438.6 98.3 438.6C100.6 438.5 104.3 438.6 106.5 438.9C108.8 439.1 110.5 439.5 111.6 440.1C112.7 440.8 113.2 441.9 113.2 443.0C113.2 444.1 112.7 445.8 111.6 446.5C110.5 447.2 108.8 447.3 106.5 447.4C104.3 447.6 100.6 447.3 98.3 447.1C95.9 446.9 93.5 447.5 92.6 446.2C91.6 444.9 91.6 440.5 92.6 439.2Z" fill="none" stroke="#333" stroke-width="0.5" opacity="1.0"/>
<path d="M94.7 439.9C95.5 438.9 97.5 439.4 99.4 439.4C101.3 439.4 104.3 439.4 106.1 439.7C107.9 439.9 109.3 440.1 110.2 440.7C111.1 441.2 111.5 442.1 111.5 443.0C111.5 443.9 111.1 445.2 110.2 445.8C109.3 446.4 107.9 446.5 106.1 446.6C104.3 446.7 101.3 446.5 99.4 446.3C97.5 446.2 95.5 446.6 94.7 445.6C94.0 444.5 94.0 440.9 94.7 439.9Z" fill="none" stroke="#333" stroke-width="0.5" opacity="1.0"/>
<path d="M96.9 440.6C97.5 439.9 99.0 440.3 100.5 440.2C101.9 440.2 104.2 440.3 105.6 440.4C106.9 440.6 108.0 440.8 108.7 441.2C109.4 441.7 109.7 442.3 109.7 443.0C109.7 443.7 109.4 444.7 108.7 445.2C108.0 445.6 106.9 445.7 105.6 445.8C104.2 445.8 101.9 445.7 100.5 445.6C99.0 445.4 97.5 445.8 96.9 445.0C96.3 444.1 96.3 441.4 96.9 440.6Z" fill="none" stroke="#333" stroke-width="0.5" opacity="1.0"/>
<path d="M99.1 441.4C99.5 440.8 100.6 441.1 101.6 441.1C102.6 441.1 104.1 441.1 105.1 441.2C106.0 441.3 106.8 441.5 107.3 441.8C107.7 442.1 107.9 442.5 107.9 443.0C107.9 443.5 107.7 444.2 107.3 444.5C106.8 444.8 106.0 444.9 105.1 444.9C104.1 444.9 102.6 444.9 101.6 444.8C100.6 444.7 99.5 444.9 99.1 444.4C98.7 443.8 98.7 441.9 99.1 441.4Z" fill="none" stroke="#333" stroke-width="0.5" opacity="1.0"/>
<path d="M101.3 442.1C101.5 441.8 102.1 442.0 102.7 441.9C103.2 441.9 104.1 442.0 104.6 442.0C105.1 442.1 105.5 442.2 105.8 442.3C106.1 442.5 106.2 442.8 106.2 443.0C106.2 443.2 106.1 443.6 105.8 443.8C105.5 444.0 105.1 444.0 104.6 444.1C104.1 444.1 103.2 444.0 102.7 444.0C102.1 443.9 101.5 444.1 101.3 443.8C101.1 443.4 101.1 442.4 101.3 442.1Z" fill="none" stroke="#333" stroke-width="0.5" opacity="1.0"/>
<ellipse cx="104" cy="444" rx="10" ry="1.2" fill="#fff" opacity="0.7"/>
<path d="M116.6 446.5h0.6M98.2 444.9h0.6M118.1 441.7h0.6M101.8 440.8h0.6M114.2 434.7h0.6M117.0 439.3h0.6M111.8 436.7h0.6M92.1 440.7h0.6M110.8 436.8h0.6M108.4 440.6h0.6M115.1 441.8h0.6M107.1 442.3h0.6M121.0 441.6h0.6M101.7 450.6h0.6M102.8 445.6h0.6M94.2 443.8h0.6M78.0 443.4h0.6M95.2 437.2h0.6M87.0 447.4h0.6M106.5 437.2h0.6M121.2 440.3h0.6M98.1 443.9h0.6M90.0 436.8h0.6M94.1 447.5h0.6M112.1 436.9h0.6M114.7 443.1h0.6M107.3 443.2h0.6M106.4 439.1h0.6M92.4 440.3h0.6M98.1 445.4h0.6M89.1 449.1h0.6M95.3 440.7h0.6M109.4 444.7h0.6M98.4 438.9h0.6M91.4 436.8h0.6M114.1 447.2h0.6M121.8 444.9h0.6M105.5 445.9h0.6M112.1 442.0h0.6M105.7 451.3h0.6M84.1 437.6h0.6M91.8 445.9h0.6M114.6 441.7h0.6M109.1 442.8h0.6M105.2 440.9h0.6M101.7 443.0h0.6M114.0 451.6h0.6M82.8 445.1h0.6M101.9 446.7h0.6M113.2 446.0h0.6M110.6 439.3h0.6M83.9 449.4h0.6M114.8 439.3h0.6M115.7 445.6h0.6M76.0 446.5h0.6M91.5 447.5h0.6M94.8 440.1h0.6M85.6 442.2h0.6M112.8 440.4h0.6M82.3 451.3h0.6M121.6 445.7h0.6M96.3 438.3h0.6M84.6 445.2h0.6M115.8 438.9h0.6M102.0 441.9h0.6M99.3 444.9h0.6M124.2 440.5h0.6M111.0 447.2h0.6M99.0 442.4h0.6M87.8 447.2h0.6M96.4 440.5h0.6M102.7 439.7h0.6M90.9 441.9h0.6M117.8 442.2h0.6M107.6 437.3h0.6M81.3 450.0h0.6M97.8 437.1h0.6M100.9 445.3h0.6M83.7 439.6h0.6M104.8 439.4h0.6M110.5 446.7h0.6M106.7 441.3h0.6M101.5 440.6h0.6M100.6 444.2h0.6M98.8 446.8h0.6M129.5 440.9h0.6M105.6 446.2h0.6M108.8 442.1h0.6M96.9 446.9h0.6M108.6 445.0h0.6M93.5 445.4h0.6M110.4 442.3h0.6M108.9 451.4h0.6M82.1 445.3h0.6M89.6 437.7h0.6M99.5 445.1h0.6M102.6 438.5h0.6M86.7 440.8h0.6M102.1 439.8h0.6M86.0 449.8h0.6" stroke="#333" stroke-width="0.6" opacity="1.0" fill="none"/>
<ellipse cx="192.50" cy="441.00" rx="14.50" ry="15.50" transform="rotate(0 192.50 441.00)" fill="none" stroke="#222" stroke-width="0.6" opacity="1.0"/>
<ellipse cx="192.50" cy="441.00" rx="13.47" ry="14.40" transform="rotate(0 192.50 441.00)" fill="none" stroke="#222" stroke-width="0.6" opacity="1.0"/>
<ellipse cx="192.50" cy="441.00" rx="12.45" ry="13.31" transform="rotate(0 192.50 441.00)" fill="none" stroke="#222" stroke-width="0.6" opacity="1.0"/>
<ellipse cx="192.50" cy="441.00" rx="11.42" ry="12.21" transform="rotate(0 192.50 441.00)" fill="none" stroke="#222" stroke-width="0.6" opacity="1.0"/>
<ellipse cx="192.50" cy="441.00" rx="10.40" ry="11.11" transform="rotate(0 192.50 441.00)" fill="none" stroke="#222" stroke-width="0.6" opacity="1.0"/>
<ellipse cx="192.50" cy="441.00" rx="9.37" ry="10.02" transform="rotate(0 192.50 441.00)" fill="none" stroke="#222" stroke-width="0.6" opacity="1.0"/>
<ellipse cx="192.50" cy="441.00" rx="8.34" ry="8.92" transform="rotate(0 192.50 441.00)" fill="none" stroke="#222" stroke-width="0.6" opacity="1.0"/>
<ellipse cx="192.50" cy="441.00" rx="7.32" ry="7.82" transform="rotate(0 192.50 441.00)" fill="none" stroke="#222" stroke-width="0.6" opacity="1.0"/>
<ellipse cx="192.50" cy="441.00" rx="6.29" ry="6.72" transform="rotate(0 192.50 441.00)" fill="none" stroke="#222" stroke-width="0.6" opacity="1.0"/>
<ellipse cx="192.50" cy="441.00" rx="5.26" ry="5.63" transform="rotate(0 192.50 441.00)" fill="none" stroke="#222" stroke-width="0.6" opacity="1.0"/>
<ellipse cx="192.50" cy="441.00" rx="4.24" ry="4.53" transform="rotate(0 192.50 441.00)" fill="none" stroke="#222" stroke-width="0.6" opacity="1.0"/>
<ellipse cx="192.50" cy="441.00" rx="3.21" ry="3.43" transform="rotate(0 192.50 441.00)" fill="none" stroke="#222" stroke-width="0.6" opacity="1.0"/>
<ellipse cx="192.50" cy="441.00" rx="2.19" ry="2.34" transform="rotate(0 192.50 441.00)" fill="none" stroke="#222" stroke-width="0.6" opacity="1.0"/>
<ellipse cx="192.50" cy="441.00" rx="1.16" ry="1.24" transform="rotate(0 192.50 441.00)" fill="none" stroke="#222" stroke-width="0.6" opacity="1.0"/>
<ellipse cx="192.5" cy="441" rx="11" ry="12" fill="#222" opacity="0.55"/>
<ellipse cx="213.00" cy="441.50" rx="15.00" ry="10.00" transform="rotate(0 213.00 441.50)" fill="none" stroke="#777" stroke-width="0.4" opacity="1.0"/>
<ellipse cx="213.00" cy="441.50" rx="13.25" ry="8.83" transform="rotate(0 213.00 441.50)" fill="none" stroke="#777" stroke-width="0.4" opacity="1.0"/>
<ellipse cx="213.00" cy="441.50" rx="11.50" ry="7.67" transform="rotate(0 213.00 441.50)" fill="none" stroke="#777" stroke-width="0.4" opacity="1.0"/>
<ellipse cx="213.00" cy="441.50" rx="9.75" ry="6.50" transform="rotate(0 213.00 441.50)" fill="none" stroke="#777" stroke-width="0.4" opacity="1.0"/>
<ellipse cx="213.00" cy="441.50" rx="8.00" ry="5.33" transform="rotate(0 213.00 441.50)" fill="none" stroke="#777" stroke-width="0.4" opacity="1.0"/>
<ellipse cx="213.00" cy="441.50" rx="6.25" ry="4.17" transform="rotate(0 213.00 441.50)" fill="none" stroke="#777" stroke-width="0.4" opacity="1.0"/>
<ellipse cx="213.00" cy="441.50" rx="4.50" ry="3.00" transform="rotate(0 213.00 441.50)" fill="none" stroke="#777" stroke-width="0.4" opacity="1.0"/>
<path d="M207.7 440.1h0.5M210.2 437.6h0.5M215.3 439.3h0.5M220.4 434.1h0.5M202.1 452.3h0.5M214.3 445.5h0.5M225.3 444.2h0.5M215.3 432.0h0.5M201.1 446.7h0.5M220.9 444.3h0.5M200.5 428.6h0.5M205.8 434.1h0.5M216.4 435.1h0.5M228.8 437.4h0.5M210.1 446.0h0.5M217.9 435.8h0.5M222.2 452.2h0.5M204.3 439.6h0.5M205.6 429.7h0.5M220.5 445.1h0.5M223.5 443.5h0.5M197.4 440.8h0.5M209.2 434.1h0.5M205.3 445.5h0.5M212.4 452.5h0.5M219.1 429.9h0.5M222.8 448.3h0.5M215.3 433.9h0.5M230.5 433.3h0.5M214.3 429.9h0.5M204.0 431.1h0.5M224.5 447.9h0.5M211.5 433.1h0.5M214.5 443.2h0.5M201.6 434.2h0.5M214.1 445.1h0.5M215.7 443.6h0.5M204.1 426.4h0.5M217.7 435.6h0.5M213.9 438.8h0.5M219.2 436.5h0.5M227.7 441.2h0.5M219.6 444.7h0.5M224.1 443.4h0.5M199.6 437.3h0.5M231.4 443.8h0.5M219.9 443.7h0.5M209.4 437.0h0.5M209.3 447.8h0.5M218.2 451.4h0.5" stroke="#555" stroke-width="0.5" opacity="1.0" fill="none"/>
<ellipse cx="310.00" cy="441.50" rx="14.00" ry="14.50" transform="rotate(0 310.00 441.50)" fill="none" stroke="#222" stroke-width="0.6" opacity="1.0"/>
<ellipse cx="310.00" cy="441.50" rx="13.01" ry="13.47" transform="rotate(0 310.00 441.50)" fill="none" stroke="#222" stroke-width="0.6" opacity="1.0"/>
<ellipse cx="310.00" cy="441.50" rx="12.02" ry="12.45" transform="rotate(0 310.00 441.50)" fill="none" stroke="#222" stroke-width="0.6" opacity="1.0"/>
<ellipse cx="310.00" cy="441.50" rx="11.03" ry="11.42" transform="rotate(0 310.00 441.50)" fill="none" stroke="#222" stroke-width="0.6" opacity="1.0"/>
<ellipse cx="310.00" cy="441.50" rx="10.04" ry="10.40" transform="rotate(0 310.00 441.50)" fill="none" stroke="#222" stroke-width="0.6" opacity="1.0"/>
<ellipse cx="310.00" cy="441.50" rx="9.05" ry="9.37" transform="rotate(0 310.00 441.50)" fill="none" stroke="#222" stroke-width="0.6" opacity="1.0"/>
<ellipse cx="310.00" cy="441.50" rx="8.06" ry="8.34" transform="rotate(0 310.00 441.50)" fill="none" stroke="#222" stroke-width="0.6" opacity="1.0"/>
<ellipse cx="310.00" cy="441.50" rx="7.06" ry="7.32" transform="rotate(0 310.00 441.50)" fill="none" stroke="#222" stroke-width="0.6" opacity="1.0"/>
<ellipse cx="310.00" cy="441.50" rx="6.07" ry="6.29" transform="rotate(0 310.00 441.50)" fill="none" stroke="#222" stroke-width="0.6" opacity="1.0"/>
<ellipse cx="310.00" cy="441.50" rx="5.08" ry="5.26" transform="rotate(0 310.00 441.50)" fill="none" stroke="#222" stroke-width="0.6" opacity="1.0"/>
<ellipse cx="310.00" cy="441.50" rx="4.09" ry="4.24" transform="rotate(0 310.00 441.50)" fill="none" stroke="#222" stroke-width="0.6" opacity="1.0"/>
<ellipse cx="310.00" cy="441.50" rx="3.10" ry="3.21" transform="rotate(0 310.00 441.50)" fill="none" stroke="#222" stroke-width="0.6" opacity="1.0"/>
<ellipse cx="310.00" cy="441.50" rx="2.11" ry="2.19" transform="rotate(0 310.00 441.50)" fill="none" stroke="#222" stroke-width="0.6" opacity="1.0"/>
<ellipse cx="310.00" cy="441.50" rx="1.12" ry="1.16" transform="rotate(0 310.00 441.50)" fill="none" stroke="#222" stroke-width="0.6" opacity="1.0"/>
<ellipse cx="310" cy="441.5" rx="10.5" ry="11" fill="#222" opacity="0.55"/>
<ellipse cx="333.00" cy="441.50" rx="19.50" ry="10.50" transform="rotate(0 333.00 441.50)" fill="none" stroke="#666" stroke-width="0.4" opacity="1.0"/>
<ellipse cx="333.00" cy="441.50" rx="17.41" ry="9.38" transform="rotate(0 333.00 441.50)" fill="none" stroke="#666" stroke-width="0.4" opacity="1.0"/>
<ellipse cx="333.00" cy="441.50" rx="15.32" ry="8.25" transform="rotate(0 333.00 441.50)" fill="none" stroke="#666" stroke-width="0.4" opacity="1.0"/>
<ellipse cx="333.00" cy="441.50" rx="13.23" ry="7.12" transform="rotate(0 333.00 441.50)" fill="none" stroke="#666" stroke-width="0.4" opacity="1.0"/>
<ellipse cx="333.00" cy="441.50" rx="11.14" ry="6.00" transform="rotate(0 333.00 441.50)" fill="none" stroke="#666" stroke-width="0.4" opacity="1.0"/>
<ellipse cx="333.00" cy="441.50" rx="9.05" ry="4.88" transform="rotate(0 333.00 441.50)" fill="none" stroke="#666" stroke-width="0.4" opacity="1.0"/>
<ellipse cx="333.00" cy="441.50" rx="6.96" ry="3.75" transform="rotate(0 333.00 441.50)" fill="none" stroke="#666" stroke-width="0.4" opacity="1.0"/>
<ellipse cx="333.00" cy="441.50" rx="4.88" ry="2.62" transform="rotate(0 333.00 441.50)" fill="none" stroke="#666" stroke-width="0.4" opacity="1.0"/>
<path d="M339.9 452.1h0.5M339.5 434.1h0.5M352.0 443.0h0.5M346.7 442.3h0.5M331.8 442.0h0.5M324.0 434.0h0.5M326.3 437.9h0.5M321.7 440.4h0.5M338.0 452.9h0.5M353.1 440.7h0.5M343.7 439.7h0.5M338.8 440.8h0.5M329.7 441.4h0.5M320.5 443.6h0.5M332.2 434.6h0.5M331.5 444.3h0.5M328.3 443.8h0.5M340.6 450.2h0.5M324.3 440.3h0.5M340.0 449.9h0.5M337.6 445.5h0.5M320.6 437.6h0.5M351.4 439.3h0.5M356.3 436.7h0.5M332.3 431.6h0.5M341.3 442.6h0.5M354.9 442.0h0.5M332.5 432.7h0.5M334.2 446.6h0.5M342.3 448.3h0.5M343.5 440.7h0.5M341.0 442.0h0.5M321.8 451.1h0.5M338.7 434.8h0.5M338.8 442.7h0.5M344.8 449.6h0.5M305.0 444.3h0.5M350.1 435.4h0.5M316.6 442.7h0.5M338.3 443.1h0.5M324.0 438.2h0.5M336.9 445.4h0.5M356.7 442.7h0.5M329.0 427.0h0.5M345.6 440.2h0.5M333.9 435.1h0.5M342.3 430.3h0.5M336.1 441.7h0.5M338.0 448.8h0.5M334.0 441.6h0.5M343.5 431.8h0.5M332.1 441.4h0.5M344.5 436.2h0.5M343.0 443.3h0.5M320.2 432.2h0.5M320.8 441.8h0.5M337.1 445.3h0.5M343.2 437.7h0.5M345.6 445.9h0.5M339.7 443.9h0.5" stroke="#555" stroke-width="0.5" opacity="1.0" fill="none"/>
<rect x="87.9" y="426.7" width="49.30" height="33.90" fill="none" stroke="#222" stroke-width="0.9"/>
<text x="112.55" y="423.50" font-size="7.8" text-anchor="middle" fill="#2b2b2b" font-weight="normal" stroke="#2b2b2b" stroke-width="0.1">17.4</text>
<rect x="210.5" y="427.5" width="45.70" height="33.70" fill="none" stroke="#222" stroke-width="0.9"/>
<text x="233.35" y="424.30" font-size="7.8" text-anchor="middle" fill="#2b2b2b" font-weight="normal" stroke="#2b2b2b" stroke-width="0.1">8.01</text>
<rect x="324.5" y="427.5" width="46.20" height="33.70" fill="none" stroke="#222" stroke-width="0.9"/>
<text x="347.60" y="424.30" font-size="7.8" text-anchor="middle" fill="#2b2b2b" font-weight="normal" stroke="#2b2b2b" stroke-width="0.1">15.6</text>
<text x="216.50" y="501.60" font-size="7.7" text-anchor="middle" fill="#2b2b2b" font-weight="normal" stroke="#2b2b2b" stroke-width="0.1">Gated on CD19+B cells</text>
<line x1="52.90" y1="506.40" x2="380.00" y2="506.40" stroke="#2b4060" stroke-width="1.05"/>
<line x1="46.50" y1="627.30" x2="376.50" y2="627.30" stroke="#23466b" stroke-width="1.3"/>
<path d="M379.50 627.30L373.20 624.60L374.70 627.30L373.20 630.00Z" fill="#23466b"/>
<line x1="40.80" y1="617.50" x2="40.80" y2="518.00" stroke="#23466b" stroke-width="1.3"/>
<path d="M40.80 515.00L38.10 521.30L40.80 519.80L43.50 521.30Z" fill="#23466b"/>
<text x="35.50" y="596.90" font-size="7.9" text-anchor="middle" fill="#222" stroke="#222" stroke-width="0" transform="rotate(-90 35.50 596.90)" textLength="11.8" lengthAdjust="spacingAndGlyphs">IgD</text>
<text x="58.20" y="637.90" font-size="7.3" text-anchor="start" fill="#2b2b2b" font-weight="normal" stroke="#2b2b2b" stroke-width="0.1">CD27</text>
<path d="M73.2 560.7h0.6M75.7 540.6h0.6M82.5 557.8h0.6M85.5 551.7h0.6M76.1 558.4h0.6M78.6 537.8h0.6M86.9 574.8h0.6M82.0 542.3h0.6M99.8 578.1h0.6M83.1 553.3h0.6M88.1 594.2h0.6M87.3 568.9h0.6M90.4 532.5h0.6M75.0 540.1h0.6M90.3 557.4h0.6M103.8 552.5h0.6M89.1 557.0h0.6M87.4 586.0h0.6M88.8 575.1h0.6M98.9 548.1h0.6M92.8 551.1h0.6M87.1 558.0h0.6M86.2 549.9h0.6M101.5 552.6h0.6M93.0 577.8h0.6M92.2 569.3h0.6M99.8 570.1h0.6M103.1 537.5h0.6M105.5 556.4h0.6M68.6 547.7h0.6M72.1 555.7h0.6M71.1 543.0h0.6M89.0 558.0h0.6M78.0 553.0h0.6M85.0 557.0h0.6M85.9 553.1h0.6M94.8 535.2h0.6M81.1 557.7h0.6M82.0 548.8h0.6M81.6 558.7h0.6M98.4 553.6h0.6M83.3 560.6h0.6M83.6 530.9h0.6M88.7 551.1h0.6M80.3 564.2h0.6M86.4 548.7h0.6M64.2 533.7h0.6M86.1 554.5h0.6M90.4 558.9h0.6M81.2 539.6h0.6M75.1 554.2h0.6M74.5 565.8h0.6M72.7 532.7h0.6M84.1 532.9h0.6M102.3 543.1h0.6M85.5 552.8h0.6M77.8 533.0h0.6M67.4 567.2h0.6M96.2 584.1h0.6M71.4 563.3h0.6M85.9 567.0h0.6M80.9 565.4h0.6M95.0 563.9h0.6M100.5 553.7h0.6M101.4 546.9h0.6M102.7 520.3h0.6M86.1 545.6h0.6M86.0 569.4h0.6M93.2 557.2h0.6M103.0 536.8h0.6M77.9 575.6h0.6M89.3 529.0h0.6M89.4 540.6h0.6M100.8 570.9h0.6M80.5 572.8h0.6M77.7 568.0h0.6M91.8 554.3h0.6M71.8 552.4h0.6M63.1 548.7h0.6M67.5 571.8h0.6M76.3 524.4h0.6M91.8 560.8h0.6M80.9 583.5h0.6M93.7 556.9h0.6M79.6 517.6h0.6M90.8 568.5h0.6M80.1 537.6h0.6M85.6 534.3h0.6M86.1 566.0h0.6M101.1 559.4h0.6M88.0 565.7h0.6M100.0 551.8h0.6M73.7 545.7h0.6M73.4 544.4h0.6M84.8 560.5h0.6M87.6 556.9h0.6M82.4 561.5h0.6M94.9 565.9h0.6M101.0 552.2h0.6M83.5 578.0h0.6M88.0 561.4h0.6M82.6 568.6h0.6M82.0 542.9h0.6M85.4 550.3h0.6M94.3 551.1h0.6M87.2 553.2h0.6M89.4 547.8h0.6M97.0 537.5h0.6M82.1 546.8h0.6M92.5 556.5h0.6M90.8 551.7h0.6M78.8 541.4h0.6M82.7 549.0h0.6M88.8 560.6h0.6M95.8 554.6h0.6M78.5 542.2h0.6M86.6 560.7h0.6M105.5 558.4h0.6M103.6 580.4h0.6M75.5 571.7h0.6M97.4 573.5h0.6M85.9 568.4h0.6M81.2 555.1h0.6M86.2 579.2h0.6M83.8 568.4h0.6M86.7 546.8h0.6M88.4 564.6h0.6M78.9 564.2h0.6M78.9 544.6h0.6M88.2 552.9h0.6M76.2 534.8h0.6M86.2 559.2h0.6M81.4 558.4h0.6M70.7 561.1h0.6M90.2 559.6h0.6M79.9 557.0h0.6M87.3 569.9h0.6M88.8 559.3h0.6M78.8 567.2h0.6M97.7 549.6h0.6M92.4 560.0h0.6M85.5 539.3h0.6M103.6 531.8h0.6M89.0 551.1h0.6M97.4 550.5h0.6M86.4 563.9h0.6M90.6 549.2h0.6M92.8 561.1h0.6M95.9 549.4h0.6M85.5 550.9h0.6M77.6 559.3h0.6M90.1 574.4h0.6M82.8 561.0h0.6M97.4 554.5h0.6M86.6 557.7h0.6M79.1 543.2h0.6M97.1 558.2h0.6M85.3 539.9h0.6M87.2 571.2h0.6M74.5 544.4h0.6M97.1 574.5h0.6M101.5 548.8h0.6M92.0 546.3h0.6M91.2 551.3h0.6M88.0 573.4h0.6M89.4 552.9h0.6M86.6 559.4h0.6M80.9 558.7h0.6M92.0 576.2h0.6M65.5 540.6h0.6M73.7 567.3h0.6M110.3 558.5h0.6M87.2 570.7h0.6M61.7 553.7h0.6M55.0 558.0h0.6M80.9 549.7h0.6M89.4 548.5h0.6M97.0 556.0h0.6M89.8 588.8h0.6M81.5 568.0h0.6M77.8 572.1h0.6M95.6 557.8h0.6M95.8 576.8h0.6M99.7 556.0h0.6M85.5 570.3h0.6M71.4 548.2h0.6M90.8 563.3h0.6M104.5 578.7h0.6M89.2 561.7h0.6M72.9 553.6h0.6M88.6 553.1h0.6M86.6 563.8h0.6M76.6 548.7h0.6M68.4 570.7h0.6M75.6 534.1h0.6M93.6 553.2h0.6M95.6 551.3h0.6M107.0 565.2h0.6M87.5 557.5h0.6M84.0 566.4h0.6M105.8 550.6h0.6M75.2 563.7h0.6M96.6 536.8h0.6M79.2 543.2h0.6M91.6 562.5h0.6M78.7 541.5h0.6M92.7 529.6h0.6M92.4 554.0h0.6M105.0 568.8h0.6M80.3 552.5h0.6M83.3 546.7h0.6M86.8 568.4h0.6M71.1 553.1h0.6M100.7 565.5h0.6M78.0 545.7h0.6M77.6 535.4h0.6M97.3 556.9h0.6M79.1 537.6h0.6M82.2 549.4h0.6M103.0 550.1h0.6M87.1 569.7h0.6M92.6 553.7h0.6M64.5 573.9h0.6M91.9 550.4h0.6M85.1 543.8h0.6M77.2 537.0h0.6M90.9 562.6h0.6M87.7 566.0h0.6M91.3 557.6h0.6M77.3 563.6h0.6M97.7 564.1h0.6M98.3 550.0h0.6M76.4 572.0h0.6M80.3 559.1h0.6M84.1 556.3h0.6M83.3 549.1h0.6M68.5 580.3h0.6M88.0 531.4h0.6M77.1 541.6h0.6M78.7 523.5h0.6M91.6 576.9h0.6M83.6 565.5h0.6M91.9 540.1h0.6M98.0 534.5h0.6M80.4 551.4h0.6M98.3 557.5h0.6M84.8 545.8h0.6M86.9 556.5h0.6M93.2 573.8h0.6M93.2 556.2h0.6M84.5 576.4h0.6M88.0 555.8h0.6M103.6 576.0h0.6M91.6 554.6h0.6M79.8 569.6h0.6M81.6 568.2h0.6M78.3 557.3h0.6M89.9 557.8h0.6M88.3 560.9h0.6M75.0 541.9h0.6M84.6 579.0h0.6M84.8 544.2h0.6M79.5 556.4h0.6M97.6 548.8h0.6M91.5 558.4h0.6M82.5 544.0h0.6M84.5 546.8h0.6M91.3 533.6h0.6M97.0 565.6h0.6M91.7 575.0h0.6M91.9 534.3h0.6M86.5 561.7h0.6M79.3 541.6h0.6M90.2 562.5h0.6M81.8 552.9h0.6M81.1 548.8h0.6M85.4 569.6h0.6M70.3 551.7h0.6M101.8 560.0h0.6M87.5 566.6h0.6M76.2 540.7h0.6M69.8 537.5h0.6M88.4 566.8h0.6M81.9 547.4h0.6M89.9 563.8h0.6M88.5 531.9h0.6M80.7 523.9h0.6M88.4 545.2h0.6M79.6 575.0h0.6M98.9 562.1h0.6M88.7 558.2h0.6M80.3 555.4h0.6M104.6 544.9h0.6M79.6 558.1h0.6M94.7 566.6h0.6M76.6 554.4h0.6M83.4 540.4h0.6M86.8 549.9h0.6M95.0 561.5h0.6M78.4 557.0h0.6M82.5 548.0h0.6M81.3 569.5h0.6M82.0 534.3h0.6M78.5 566.2h0.6M106.9 542.7h0.6M82.5 551.8h0.6M72.3 561.1h0.6M85.5 559.5h0.6M107.8 552.6h0.6M93.7 566.5h0.6M79.8 548.5h0.6M101.1 565.0h0.6M87.4 542.2h0.6M94.6 562.7h0.6M107.4 574.6h0.6M93.8 559.4h0.6M86.6 549.0h0.6M89.0 559.1h0.6M92.3 569.7h0.6M89.0 549.1h0.6M93.9 575.6h0.6M77.9 561.3h0.6M91.3 562.8h0.6M90.9 554.9h0.6M85.0 577.3h0.6M102.8 538.3h0.6M61.3 561.5h0.6M79.4 549.5h0.6M70.5 560.5h0.6M85.5 549.2h0.6M94.7 586.7h0.6M100.3 570.8h0.6M82.0 564.3h0.6M85.6 570.6h0.6M91.7 555.6h0.6M91.4 546.9h0.6M93.7 575.0h0.6M82.5 563.0h0.6M69.8 567.8h0.6M94.5 543.1h0.6M102.9 557.4h0.6M69.2 538.7h0.6M94.5 552.6h0.6M96.7 536.4h0.6M85.0 568.3h0.6M79.4 564.6h0.6M82.5 560.4h0.6M89.1 584.2h0.6M74.0 565.8h0.6M98.8 541.8h0.6M86.8 585.2h0.6M96.2 518.5h0.6M83.7 534.4h0.6M88.9 546.8h0.6M80.5 545.4h0.6M88.9 550.1h0.6M77.2 553.1h0.6M90.0 545.2h0.6M96.8 535.0h0.6M90.0 551.1h0.6M101.3 547.9h0.6M79.6 539.1h0.6M105.3 563.8h0.6M75.5 551.8h0.6M76.7 575.2h0.6M90.1 530.3h0.6M88.0 567.6h0.6M86.0 562.0h0.6M84.9 558.6h0.6M88.1 547.1h0.6M89.4 558.1h0.6M85.6 547.4h0.6M76.1 559.1h0.6M94.0 525.5h0.6M80.8 573.1h0.6M94.9 547.0h0.6M99.1 543.5h0.6M78.3 580.5h0.6M81.8 553.3h0.6M70.0 543.2h0.6M74.6 554.3h0.6M68.2 569.4h0.6M82.5 548.3h0.6M79.8 565.4h0.6M100.9 550.8h0.6M101.7 576.4h0.6M99.0 559.8h0.6M71.5 564.5h0.6M82.0 558.5h0.6M67.7 552.4h0.6M88.3 544.2h0.6M88.9 577.2h0.6M88.2 547.3h0.6M109.2 528.8h0.6M77.1 561.2h0.6M80.2 527.0h0.6M88.5 566.5h0.6M78.3 574.6h0.6M90.9 571.1h0.6M71.1 556.0h0.6M101.6 581.5h0.6M98.8 556.0h0.6M87.8 548.1h0.6M96.7 547.2h0.6M87.2 529.9h0.6M71.3 578.5h0.6M86.6 558.7h0.6M64.6 555.6h0.6M106.2 537.0h0.6M62.8 554.0h0.6M80.8 553.3h0.6M73.7 538.8h0.6M73.9 564.1h0.6M85.5 566.4h0.6M75.5 563.5h0.6M81.7 557.1h0.6M95.1 556.4h0.6M82.6 534.9h0.6M86.6 566.0h0.6M79.8 555.2h0.6M68.7 539.0h0.6M89.9 572.5h0.6M83.0 534.7h0.6M82.3 536.1h0.6M83.3 580.6h0.6M88.9 554.1h0.6M96.2 551.2h0.6M89.3 558.5h0.6M90.4 537.3h0.6M93.0 567.2h0.6M63.6 521.4h0.6M77.2 575.0h0.6M86.2 564.7h0.6M91.4 567.3h0.6M79.7 548.5h0.6M89.7 563.8h0.6M91.6 560.3h0.6M81.2 570.1h0.6M90.6 569.6h0.6M61.0 568.9h0.6M62.0 558.7h0.6M79.5 557.5h0.6M81.3 552.0h0.6M87.9 560.4h0.6M78.1 523.6h0.6M78.3 562.9h0.6M77.7 561.5h0.6M82.4 543.9h0.6M97.5 577.2h0.6M85.0 555.4h0.6M95.4 539.0h0.6M77.4 570.5h0.6M94.9 549.7h0.6M78.3 560.5h0.6M72.1 549.6h0.6M83.7 524.4h0.6M91.8 565.8h0.6M96.5 537.5h0.6M73.3 545.5h0.6M73.1 582.4h0.6M76.3 552.0h0.6M88.0 561.9h0.6M100.4 542.0h0.6M94.7 557.9h0.6M74.4 557.9h0.6M72.1 576.9h0.6M78.8 569.0h0.6M98.9 548.0h0.6M77.1 557.7h0.6M75.6 567.6h0.6M87.7 546.2h0.6M79.2 565.4h0.6M71.6 577.8h0.6M78.2 553.5h0.6M76.8 577.0h0.6M94.2 572.8h0.6M92.5 557.2h0.6M102.8 564.6h0.6M90.3 563.5h0.6M93.3 559.6h0.6M84.3 535.4h0.6M106.5 539.2h0.6M64.6 546.8h0.6M105.3 571.8h0.6M80.0 559.4h0.6M85.8 530.3h0.6M82.7 559.8h0.6M97.7 540.4h0.6M63.5 535.6h0.6M89.3 557.0h0.6M87.5 557.9h0.6M82.3 538.3h0.6M90.5 561.0h0.6M91.8 572.2h0.6M73.6 525.6h0.6M68.2 583.8h0.6M76.9 561.2h0.6M85.8 565.5h0.6M118.1 549.3h0.6M84.3 548.2h0.6M107.4 593.3h0.6M91.1 593.1h0.6M118.8 596.0h0.6M103.9 588.5h0.6M83.5 587.6h0.6M93.4 584.3h0.6M118.7 588.9h0.6M97.3 592.4h0.6M129.2 592.9h0.6M119.7 590.6h0.6M109.2 593.6h0.6M89.4 591.1h0.6M127.5 596.3h0.6M109.9 585.2h0.6M127.4 596.3h0.6M88.0 589.4h0.6M87.5 581.8h0.6M76.5 589.5h0.6M133.6 594.4h0.6M97.5 585.0h0.6M97.2 590.8h0.6M124.6 590.0h0.6M112.9 582.8h0.6M124.2 594.7h0.6M94.2 595.0h0.6M101.9 596.3h0.6M116.3 601.6h0.6M94.9 587.6h0.6M109.9 590.3h0.6M125.0 591.7h0.6M115.8 600.0h0.6M81.7 578.7h0.6M94.4 584.3h0.6M110.1 590.5h0.6M106.6 588.0h0.6M103.3 592.1h0.6M115.4 588.7h0.6M104.6 585.9h0.6M104.6 582.5h0.6M116.1 596.5h0.6M104.3 586.3h0.6M100.1 585.3h0.6M83.5 592.7h0.6M147.9 595.1h0.6M89.6 588.9h0.6M114.6 584.4h0.6M80.2 586.2h0.6M78.2 590.2h0.6M98.7 588.7h0.6M105.7 587.3h0.6M103.6 588.1h0.6M120.7 593.7h0.6M105.3 587.3h0.6M98.0 584.3h0.6M102.8 598.9h0.6M118.7 594.9h0.6M124.6 600.5h0.6M107.8 589.9h0.6M90.9 587.5h0.6M103.1 581.3h0.6M86.4 595.0h0.6M107.0 593.1h0.6M108.1 588.4h0.6M109.4 596.8h0.6M100.5 591.4h0.6M118.5 591.1h0.6M108.1 587.0h0.6M113.1 590.2h0.6M120.4 590.2h0.6M126.6 594.2h0.6M95.6 582.8h0.6M114.4 588.1h0.6M126.0 602.3h0.6M113.3 584.9h0.6M105.6 586.4h0.6M81.7 586.0h0.6M133.3 594.8h0.6M113.5 598.9h0.6M93.4 585.1h0.6M107.8 593.2h0.6M90.3 587.2h0.6M102.4 594.2h0.6M85.7 581.9h0.6M99.1 586.8h0.6M114.9 589.4h0.6M140.3 595.8h0.6M114.2 597.8h0.6M117.4 592.3h0.6M94.9 586.0h0.6M113.2 592.8h0.6M111.6 594.7h0.6M95.1 582.5h0.6M123.7 592.5h0.6M82.7 593.6h0.6M95.7 582.7h0.6M118.6 587.8h0.6M92.7 592.1h0.6M91.5 599.4h0.6M102.8 603.3h0.6M106.6 590.7h0.6M97.2 586.8h0.6M98.7 588.2h0.6M116.3 586.5h0.6M96.2 576.8h0.6M124.0 594.7h0.6M104.9 589.7h0.6M117.2 594.9h0.6M115.9 592.1h0.6M103.6 589.3h0.6M80.2 589.0h0.6M86.5 579.9h0.6M113.4 592.5h0.6M113.0 601.0h0.6M126.6 602.9h0.6M99.5 599.1h0.6M94.1 586.6h0.6M117.8 592.3h0.6M103.9 587.9h0.6M125.3 582.7h0.6M119.6 599.4h0.6M103.4 592.5h0.6M91.4 592.1h0.6M144.6 595.9h0.6M122.6 594.4h0.6M101.4 586.5h0.6M104.2 583.3h0.6M85.8 593.5h0.6M104.1 592.6h0.6M108.3 593.3h0.6M87.1 580.3h0.6M111.7 597.0h0.6M91.4 583.4h0.6M90.7 589.6h0.6M109.3 591.3h0.6M96.4 589.5h0.6M106.4 586.5h0.6M110.0 587.9h0.6M116.1 596.2h0.6M95.6 590.5h0.6M106.8 586.8h0.6M95.7 578.9h0.6M90.4 587.9h0.6M121.0 591.0h0.6M106.6 592.2h0.6M114.2 594.8h0.6M119.4 597.8h0.6M94.9 589.4h0.6M75.8 581.3h0.6M104.5 592.9h0.6M100.1 593.0h0.6M122.7 590.4h0.6M97.8 589.4h0.6M111.0 592.3h0.6M117.0 587.1h0.6M113.2 598.2h0.6M118.4 595.8h0.6M101.5 591.1h0.6M106.1 582.1h0.6M97.5 587.8h0.6M99.7 583.8h0.6M102.6 587.4h0.6M105.9 590.0h0.6M105.9 595.4h0.6M106.2 592.4h0.6M93.5 571.7h0.6M99.1 591.9h0.6M101.5 585.8h0.6M88.3 590.1h0.6M98.1 589.4h0.6M118.5 596.4h0.6M133.3 596.9h0.6M116.1 596.6h0.6M96.7 588.0h0.6M99.2 583.2h0.6M109.8 587.3h0.6M127.0 592.1h0.6M98.0 588.6h0.6M98.4 588.5h0.6M99.2 581.1h0.6M76.4 575.7h0.6M123.5 597.3h0.6M107.5 588.3h0.6M102.8 591.0h0.6M88.6 581.5h0.6M92.2 593.1h0.6M90.2 592.1h0.6M95.6 601.6h0.6M104.0 589.9h0.6M120.8 598.8h0.6M118.2 588.0h0.6M117.1 601.9h0.6M104.3 587.3h0.6M90.0 591.2h0.6M108.7 591.0h0.6M87.4 593.7h0.6M116.0 592.8h0.6M124.8 590.4h0.6M117.4 588.1h0.6M123.1 593.4h0.6M120.9 592.1h0.6M98.8 553.5h0.6M111.7 543.6h0.6M106.8 553.1h0.6M116.5 537.2h0.6M102.5 552.7h0.6M112.7 548.0h0.6M119.9 535.2h0.6M113.9 540.2h0.6M124.7 563.7h0.6M125.1 553.5h0.6M101.2 575.9h0.6M113.0 545.6h0.6M103.1 547.1h0.6M121.9 570.0h0.6M111.7 565.2h0.6M99.6 549.9h0.6M106.1 541.9h0.6M106.2 566.5h0.6M123.0 536.4h0.6M100.5 568.1h0.6M119.5 562.2h0.6M118.6 563.1h0.6M102.3 528.3h0.6M106.2 526.8h0.6M133.3 553.9h0.6M120.2 578.2h0.6M126.2 537.6h0.6M105.2 531.0h0.6M125.8 565.5h0.6M111.9 545.3h0.6M102.1 551.8h0.6M122.0 574.2h0.6M128.2 572.7h0.6M109.8 548.2h0.6M104.1 578.6h0.6M98.3 533.7h0.6M102.6 575.7h0.6M128.4 543.2h0.6M128.3 574.0h0.6M109.2 535.6h0.6M124.8 545.6h0.6M95.4 574.7h0.6M109.8 546.9h0.6M116.8 539.0h0.6M90.9 546.5h0.6M107.1 525.6h0.6M106.7 566.9h0.6M105.0 562.4h0.6M118.1 535.4h0.6M90.9 562.1h0.6M117.5 541.2h0.6M99.0 572.0h0.6M130.9 537.8h0.6M116.4 556.6h0.6M104.5 527.0h0.6M104.6 560.4h0.6M117.1 553.1h0.6M95.5 536.7h0.6M104.0 547.9h0.6M106.3 574.6h0.6M95.2 579.3h0.6M100.8 572.1h0.6M101.0 557.3h0.6M107.0 527.1h0.6M125.8 569.6h0.6M102.1 567.7h0.6M111.6 579.3h0.6M92.4 545.9h0.6M100.3 559.4h0.6M125.0 571.3h0.6M114.7 546.3h0.6M126.0 530.8h0.6M101.7 566.4h0.6M109.8 579.6h0.6M94.1 550.4h0.6M99.6 525.1h0.6M94.2 530.0h0.6M106.6 548.8h0.6M112.9 540.9h0.6M121.6 553.4h0.6" stroke="#333" stroke-width="0.6" opacity="1.0" fill="none"/>
<path d="M66.0 538.0C66.5 535.3 67.7 534.8 71.0 534.0C74.3 533.2 81.3 532.8 86.0 533.0C90.7 533.2 96.5 533.0 99.0 535.0C101.5 537.0 101.0 541.2 101.0 545.0C101.0 548.8 100.2 553.8 99.0 558.0C97.8 562.2 95.8 566.3 94.0 570.0C92.2 573.7 90.0 578.8 88.0 580.0C86.0 581.2 84.2 579.7 82.0 577.0C79.8 574.3 77.3 568.5 75.0 564.0C72.7 559.5 69.5 554.3 68.0 550.0C66.5 545.7 65.5 540.7 66.0 538.0Z" fill="none" stroke="#333" stroke-width="0.45" opacity="1.0"/>
<path d="M67.7 539.1C68.1 536.7 69.2 536.2 72.3 535.5C75.4 534.7 81.8 534.4 86.2 534.5C90.5 534.7 95.8 534.5 98.2 536.4C100.5 538.2 100.0 542.1 100.0 545.6C100.0 549.2 99.2 553.8 98.2 557.6C97.1 561.5 95.2 565.3 93.5 568.7C91.8 572.1 89.8 576.9 88.0 577.9C86.2 579.0 84.5 577.6 82.5 575.2C80.5 572.7 78.2 567.3 76.0 563.2C73.8 559.0 70.9 554.2 69.5 550.2C68.1 546.2 67.2 541.6 67.7 539.1Z" fill="none" stroke="#333" stroke-width="0.45" opacity="1.0"/>
<path d="M69.4 540.3C69.8 538.0 70.8 537.6 73.6 536.9C76.4 536.2 82.4 535.9 86.3 536.1C90.3 536.2 95.2 536.1 97.3 537.8C99.4 539.5 99.0 543.0 99.0 546.2C99.0 549.5 98.3 553.7 97.3 557.2C96.3 560.8 94.6 564.3 93.1 567.4C91.5 570.5 89.7 574.9 88.0 575.9C86.3 576.8 84.8 575.6 82.9 573.3C81.1 571.1 79.0 566.1 77.0 562.3C75.0 558.5 72.3 554.1 71.1 550.5C69.8 546.8 69.0 542.6 69.4 540.3Z" fill="none" stroke="#333" stroke-width="0.45" opacity="1.0"/>
<path d="M71.1 541.5C71.4 539.4 72.3 539.0 74.9 538.4C77.5 537.7 82.9 537.5 86.5 537.6C90.1 537.7 94.5 537.6 96.5 539.1C98.4 540.7 98.0 543.9 98.0 546.8C98.0 549.8 97.4 553.6 96.5 556.9C95.6 560.1 94.0 563.3 92.6 566.1C91.2 568.9 89.5 572.9 88.0 573.8C86.5 574.7 85.0 573.5 83.4 571.5C81.7 569.4 79.8 564.9 78.0 561.5C76.2 558.0 73.8 554.0 72.6 550.7C71.4 547.4 70.7 543.5 71.1 541.5Z" fill="none" stroke="#333" stroke-width="0.45" opacity="1.0"/>
<path d="M72.7 542.6C73.1 540.8 73.9 540.4 76.2 539.8C78.5 539.2 83.4 539.0 86.6 539.1C89.8 539.2 93.9 539.1 95.6 540.5C97.4 541.9 97.0 544.8 97.0 547.5C97.0 550.1 96.4 553.6 95.6 556.5C94.8 559.4 93.4 562.2 92.2 564.8C90.9 567.3 89.4 570.9 88.0 571.7C86.6 572.5 85.3 571.5 83.8 569.6C82.3 567.8 80.6 563.7 79.0 560.6C77.4 557.5 75.2 553.9 74.1 550.9C73.1 547.9 72.4 544.4 72.7 542.6Z" fill="none" stroke="#333" stroke-width="0.45" opacity="1.0"/>
<path d="M74.4 543.8C74.7 542.1 75.5 541.8 77.5 541.3C79.6 540.8 83.9 540.6 86.8 540.7C89.6 540.8 93.2 540.7 94.8 541.9C96.3 543.1 96.0 545.7 96.0 548.1C96.0 550.4 95.5 553.5 94.8 556.1C94.1 558.7 92.8 561.2 91.7 563.5C90.6 565.7 89.2 568.9 88.0 569.6C86.8 570.4 85.6 569.4 84.3 567.8C83.0 566.2 81.4 562.6 80.0 559.8C78.5 557.0 76.6 553.8 75.7 551.1C74.7 548.5 74.1 545.4 74.4 543.8Z" fill="none" stroke="#333" stroke-width="0.45" opacity="1.0"/>
<path d="M76.1 544.9C76.4 543.5 77.0 543.2 78.8 542.7C80.6 542.3 84.4 542.1 86.9 542.2C89.4 542.3 92.6 542.2 93.9 543.3C95.3 544.4 95.0 546.6 95.0 548.7C95.0 550.8 94.6 553.5 93.9 555.7C93.3 558.0 92.2 560.2 91.2 562.2C90.2 564.2 89.1 567.0 88.0 567.6C86.9 568.2 85.9 567.4 84.8 566.0C83.6 564.5 82.2 561.4 81.0 558.9C79.7 556.5 78.0 553.7 77.2 551.4C76.4 549.0 75.9 546.3 76.1 544.9Z" fill="none" stroke="#333" stroke-width="0.45" opacity="1.0"/>
<path d="M77.8 546.0C78.0 544.8 78.6 544.6 80.1 544.2C81.7 543.8 84.9 543.7 87.1 543.7C89.2 543.8 91.9 543.7 93.1 544.7C94.3 545.6 94.0 547.5 94.0 549.3C94.0 551.1 93.6 553.4 93.1 555.3C92.6 557.2 91.6 559.2 90.8 560.9C89.9 562.6 88.9 565.0 88.0 565.5C87.1 566.1 86.2 565.4 85.2 564.1C84.2 562.9 83.1 560.2 82.0 558.1C80.9 556.0 79.4 553.6 78.7 551.6C78.0 549.6 77.6 547.3 77.8 546.0Z" fill="none" stroke="#333" stroke-width="0.45" opacity="1.0"/>
<path d="M79.5 547.2C79.7 546.2 80.1 546.0 81.4 545.7C82.7 545.3 85.4 545.2 87.2 545.3C89.0 545.3 91.3 545.3 92.3 546.0C93.2 546.8 93.0 548.4 93.0 549.9C93.0 551.4 92.7 553.3 92.3 554.9C91.8 556.5 91.0 558.2 90.3 559.6C89.6 561.0 88.8 563.0 88.0 563.4C87.2 563.9 86.5 563.3 85.7 562.3C84.8 561.2 83.9 559.0 83.0 557.3C82.1 555.5 80.8 553.5 80.3 551.8C79.7 550.2 79.3 548.2 79.5 547.2Z" fill="none" stroke="#333" stroke-width="0.45" opacity="1.0"/>
<path d="M81.2 548.4C81.3 547.5 81.7 547.4 82.7 547.1C83.8 546.9 85.9 546.7 87.4 546.8C88.8 546.9 90.6 546.8 91.4 547.4C92.2 548.0 92.0 549.3 92.0 550.5C92.0 551.7 91.8 553.3 91.4 554.5C91.0 555.8 90.4 557.1 89.9 558.3C89.3 559.4 88.6 561.0 88.0 561.4C87.4 561.7 86.8 561.3 86.1 560.4C85.5 559.6 84.7 557.8 84.0 556.4C83.2 555.0 82.3 553.4 81.8 552.1C81.3 550.7 81.0 549.2 81.2 548.4Z" fill="none" stroke="#333" stroke-width="0.45" opacity="1.0"/>
<path d="M82.9 549.5C83.0 548.9 83.3 548.8 84.0 548.6C84.8 548.4 86.4 548.3 87.5 548.3C88.6 548.4 90.0 548.3 90.6 548.8C91.1 549.3 91.0 550.2 91.0 551.1C91.0 552.0 90.8 553.2 90.6 554.2C90.3 555.1 89.8 556.1 89.4 557.0C89.0 557.8 88.5 559.0 88.0 559.3C87.5 559.6 87.1 559.2 86.6 558.6C86.1 558.0 85.5 556.6 85.0 555.6C84.4 554.5 83.7 553.3 83.3 552.3C83.0 551.3 82.8 550.1 82.9 549.5Z" fill="none" stroke="#333" stroke-width="0.45" opacity="1.0"/>
<path d="M84.6 550.6C84.6 550.2 84.8 550.2 85.3 550.0C85.9 549.9 87.0 549.8 87.7 549.9C88.4 549.9 89.3 549.9 89.7 550.2C90.1 550.5 90.0 551.1 90.0 551.7C90.0 552.3 89.9 553.1 89.7 553.8C89.5 554.4 89.2 555.1 88.9 555.7C88.7 556.2 88.3 557.0 88.0 557.2C87.7 557.4 87.4 557.2 87.1 556.8C86.7 556.3 86.3 555.4 86.0 554.7C85.6 554.0 85.1 553.2 84.9 552.5C84.6 551.9 84.5 551.1 84.6 550.6Z" fill="none" stroke="#333" stroke-width="0.45" opacity="1.0"/>
<path d="M86.2 551.8C86.3 551.6 86.4 551.5 86.6 551.5C86.9 551.4 87.5 551.4 87.8 551.4C88.2 551.4 88.7 551.4 88.9 551.6C89.1 551.7 89.0 552.1 89.0 552.4C89.0 552.7 89.0 553.1 88.9 553.4C88.8 553.7 88.6 554.1 88.5 554.4C88.3 554.7 88.2 555.1 88.0 555.2C87.8 555.3 87.7 555.1 87.5 554.9C87.3 554.7 87.1 554.2 87.0 553.9C86.8 553.5 86.5 553.1 86.4 552.8C86.3 552.4 86.2 552.0 86.2 551.8Z" fill="none" stroke="#333" stroke-width="0.45" opacity="1.0"/>
<ellipse cx="88" cy="553" rx="8" ry="9" fill="#333" opacity="0.2"/>
<path d="M84.0 580.0C85.3 578.3 94.3 582.3 100.0 584.0C105.7 585.7 114.0 587.8 118.0 590.0C122.0 592.2 125.3 595.3 124.0 597.0C122.7 598.7 115.3 600.5 110.0 600.0C104.7 599.5 96.3 597.3 92.0 594.0C87.7 590.7 82.7 581.7 84.0 580.0Z" fill="none" stroke="#555" stroke-width="0.4" opacity="1.0"/>
<path d="M88.7 582.6C89.7 581.3 96.6 584.4 100.9 585.6C105.3 586.9 111.7 588.6 114.7 590.2C117.8 591.9 120.4 594.3 119.3 595.6C118.3 596.9 112.7 598.3 108.6 597.9C104.5 597.5 98.1 595.9 94.8 593.3C91.5 590.7 87.6 583.8 88.7 582.6Z" fill="none" stroke="#555" stroke-width="0.4" opacity="1.0"/>
<path d="M93.3 585.1C94.0 584.2 98.8 586.4 101.9 587.3C104.9 588.2 109.3 589.3 111.5 590.5C113.6 591.6 115.4 593.3 114.7 594.2C114.0 595.1 110.0 596.1 107.2 595.8C104.4 595.5 99.9 594.4 97.6 592.6C95.3 590.8 92.6 586.0 93.3 585.1Z" fill="none" stroke="#555" stroke-width="0.4" opacity="1.0"/>
<path d="M98.0 587.7C98.4 587.2 101.1 588.4 102.8 588.9C104.5 589.4 107.0 590.1 108.2 590.7C109.4 591.4 110.4 592.3 110.0 592.8C109.6 593.3 107.4 593.9 105.8 593.7C104.2 593.6 101.7 592.9 100.4 591.9C99.1 590.9 97.6 588.2 98.0 587.7Z" fill="none" stroke="#555" stroke-width="0.4" opacity="1.0"/>
<path d="M177.0 545.0C178.1 542.2 180.5 539.8 184.0 538.5C187.5 537.2 193.5 536.8 198.0 537.0C202.5 537.2 208.2 537.8 211.0 540.0C213.8 542.2 214.5 545.8 214.5 550.0C214.5 554.2 212.6 560.5 211.0 565.0C209.4 569.5 207.2 574.0 205.0 577.0C202.8 580.0 200.3 582.8 198.0 583.0C195.7 583.2 193.5 580.8 191.0 578.0C188.5 575.2 185.2 569.8 183.0 566.0C180.8 562.2 178.5 558.5 177.5 555.0C176.5 551.5 175.9 547.8 177.0 545.0Z" fill="none" stroke="#555" stroke-width="0.42" opacity="1.0"/>
<path d="M178.6 546.0C179.6 543.5 181.8 541.2 185.1 540.0C188.3 538.8 193.8 538.4 197.9 538.6C202.0 538.9 207.3 539.4 209.9 541.4C212.4 543.4 213.1 546.7 213.1 550.6C213.1 554.4 211.3 560.2 209.9 564.3C208.4 568.5 206.3 572.6 204.3 575.4C202.4 578.1 200.1 580.7 197.9 580.9C195.8 581.0 193.8 578.9 191.5 576.3C189.2 573.7 186.2 568.8 184.1 565.3C182.1 561.7 180.0 558.4 179.1 555.2C178.2 551.9 177.6 548.5 178.6 546.0Z" fill="none" stroke="#555" stroke-width="0.42" opacity="1.0"/>
<path d="M180.3 547.0C181.2 544.7 183.2 542.6 186.1 541.5C189.1 540.4 194.1 540.1 197.8 540.3C201.6 540.5 206.4 541.0 208.7 542.8C211.0 544.6 211.6 547.7 211.6 551.1C211.6 554.6 210.0 559.9 208.7 563.7C207.4 567.5 205.5 571.2 203.7 573.7C201.9 576.2 199.8 578.6 197.8 578.7C195.9 578.9 194.1 576.9 192.0 574.6C189.9 572.2 187.2 567.7 185.3 564.5C183.4 561.3 181.5 558.3 180.7 555.3C179.9 552.4 179.4 549.3 180.3 547.0Z" fill="none" stroke="#555" stroke-width="0.42" opacity="1.0"/>
<path d="M181.9 547.9C182.7 545.9 184.6 544.0 187.2 543.0C189.8 542.0 194.4 541.7 197.8 541.9C201.2 542.1 205.5 542.5 207.6 544.2C209.6 545.8 210.2 548.6 210.2 551.7C210.2 554.9 208.8 559.6 207.6 563.0C206.4 566.4 204.7 569.8 203.0 572.1C201.4 574.4 199.5 576.5 197.8 576.6C196.0 576.7 194.4 575.0 192.5 572.8C190.6 570.7 188.1 566.7 186.4 563.8C184.7 560.9 183.0 558.1 182.3 555.5C181.5 552.9 181.1 550.0 181.9 547.9Z" fill="none" stroke="#555" stroke-width="0.42" opacity="1.0"/>
<path d="M183.5 548.9C184.3 547.1 185.9 545.5 188.3 544.6C190.6 543.7 194.6 543.4 197.7 543.5C200.7 543.7 204.6 544.1 206.4 545.6C208.3 547.0 208.8 549.5 208.8 552.3C208.8 555.1 207.5 559.4 206.4 562.4C205.4 565.4 203.8 568.4 202.4 570.5C200.9 572.5 199.2 574.4 197.7 574.5C196.1 574.6 194.6 573.0 193.0 571.1C191.3 569.2 189.1 565.6 187.6 563.1C186.1 560.5 184.6 558.0 183.9 555.7C183.2 553.3 182.8 550.8 183.5 548.9Z" fill="none" stroke="#555" stroke-width="0.42" opacity="1.0"/>
<path d="M185.2 549.9C185.8 548.3 187.2 546.9 189.3 546.1C191.4 545.3 194.9 545.0 197.6 545.2C200.2 545.3 203.6 545.7 205.3 547.0C206.9 548.2 207.3 550.4 207.3 552.9C207.3 555.3 206.2 559.1 205.3 561.7C204.3 564.4 203.0 567.0 201.7 568.8C200.4 570.6 199.0 572.3 197.6 572.4C196.2 572.5 194.9 571.1 193.5 569.4C192.0 567.7 190.1 564.6 188.7 562.3C187.4 560.1 186.1 557.9 185.5 555.8C184.9 553.8 184.5 551.5 185.2 549.9Z" fill="none" stroke="#555" stroke-width="0.42" opacity="1.0"/>
<path d="M186.8 550.9C187.4 549.5 188.6 548.3 190.4 547.6C192.2 546.9 195.2 546.7 197.5 546.8C199.8 546.9 202.7 547.2 204.1 548.3C205.5 549.4 205.9 551.3 205.9 553.4C205.9 555.6 204.9 558.8 204.1 561.1C203.3 563.4 202.2 565.7 201.1 567.2C200.0 568.7 198.7 570.2 197.5 570.2C196.3 570.3 195.2 569.1 193.9 567.7C192.7 566.2 191.0 563.5 189.9 561.6C188.7 559.6 187.6 557.8 187.1 556.0C186.6 554.2 186.3 552.3 186.8 550.9Z" fill="none" stroke="#555" stroke-width="0.42" opacity="1.0"/>
<path d="M188.5 551.9C188.9 550.7 189.9 549.7 191.4 549.1C192.9 548.5 195.5 548.3 197.4 548.5C199.4 548.6 201.8 548.8 203.0 549.7C204.2 550.7 204.5 552.2 204.5 554.0C204.5 555.8 203.7 558.5 203.0 560.4C202.3 562.3 201.3 564.3 200.4 565.5C199.5 566.8 198.4 568.0 197.4 568.1C196.4 568.2 195.5 567.2 194.4 566.0C193.4 564.8 192.0 562.5 191.0 560.8C190.1 559.2 189.1 557.6 188.7 556.1C188.2 554.6 188.0 553.0 188.5 551.9Z" fill="none" stroke="#555" stroke-width="0.42" opacity="1.0"/>
<path d="M190.1 552.9C190.5 551.9 191.3 551.1 192.5 550.6C193.7 550.1 195.8 550.0 197.3 550.1C198.9 550.2 200.9 550.4 201.8 551.1C202.8 551.9 203.0 553.1 203.0 554.6C203.0 556.0 202.4 558.2 201.8 559.8C201.3 561.3 200.5 562.9 199.8 563.9C199.0 564.9 198.2 565.9 197.3 566.0C196.5 566.0 195.8 565.2 194.9 564.3C194.1 563.3 192.9 561.4 192.2 560.1C191.4 558.8 190.6 557.5 190.3 556.3C189.9 555.1 189.7 553.8 190.1 552.9Z" fill="none" stroke="#555" stroke-width="0.42" opacity="1.0"/>
<path d="M191.7 553.8C192.0 553.1 192.6 552.5 193.6 552.1C194.5 551.8 196.1 551.7 197.3 551.7C198.4 551.8 200.0 551.9 200.7 552.5C201.4 553.1 201.6 554.1 201.6 555.2C201.6 556.3 201.1 557.9 200.7 559.1C200.3 560.3 199.7 561.5 199.1 562.3C198.5 563.1 197.9 563.8 197.3 563.9C196.6 563.9 196.1 563.3 195.4 562.5C194.8 561.8 193.9 560.4 193.3 559.4C192.7 558.4 192.1 557.4 191.9 556.5C191.6 555.6 191.4 554.6 191.7 553.8Z" fill="none" stroke="#555" stroke-width="0.42" opacity="1.0"/>
<path d="M193.4 554.8C193.6 554.3 194.0 553.9 194.6 553.6C195.3 553.4 196.4 553.3 197.2 553.4C198.0 553.4 199.0 553.5 199.5 553.9C200.0 554.3 200.2 555.0 200.2 555.7C200.2 556.5 199.8 557.6 199.5 558.5C199.3 559.3 198.8 560.1 198.5 560.6C198.1 561.2 197.6 561.7 197.2 561.7C196.8 561.8 196.4 561.3 195.9 560.8C195.5 560.3 194.9 559.3 194.5 558.6C194.0 557.9 193.6 557.3 193.5 556.6C193.3 556.0 193.2 555.3 193.4 554.8Z" fill="none" stroke="#555" stroke-width="0.42" opacity="1.0"/>
<path d="M195.0 555.8C195.1 555.5 195.3 555.3 195.7 555.1C196.0 555.0 196.6 555.0 197.1 555.0C197.6 555.0 198.1 555.1 198.4 555.3C198.7 555.5 198.8 555.9 198.8 556.3C198.8 556.7 198.6 557.3 198.4 557.8C198.2 558.2 198.0 558.7 197.8 559.0C197.6 559.3 197.3 559.6 197.1 559.6C196.9 559.6 196.7 559.4 196.4 559.1C196.2 558.8 195.8 558.3 195.6 557.9C195.4 557.5 195.2 557.1 195.1 556.8C195.0 556.4 194.9 556.1 195.0 555.8Z" fill="none" stroke="#555" stroke-width="0.42" opacity="1.0"/>
<ellipse cx="197" cy="557" rx="9" ry="9" fill="#555" opacity="0.18"/>
<path d="M194.0 581C194.0 592.0 207.0 592.0 207.0 581" fill="none" stroke="#666" stroke-width="0.45"/>
<path d="M195.2 581C195.2 590.0 205.8 590.0 205.8 581" fill="none" stroke="#666" stroke-width="0.45"/>
<path d="M196.4 581C196.4 588.0 204.6 588.0 204.6 581" fill="none" stroke="#666" stroke-width="0.45"/>
<path d="M195 583L194 596C196 599 204 599 206 596L206 583" fill="none" stroke="#777" stroke-width="0.45"/>
<path d="M268.1 536.6h0.5M218.6 568.4h0.5M204.0 604.4h0.5M187.0 606.0h0.5M202.6 552.9h0.5M229.6 575.2h0.5M194.8 528.3h0.5M265.3 556.2h0.5M177.0 584.3h0.5M220.9 552.1h0.5M199.5 602.8h0.5M200.6 560.9h0.5M265.5 555.4h0.5M207.2 535.9h0.5M234.6 585.1h0.5M211.9 559.8h0.5M189.4 597.4h0.5M213.0 601.5h0.5M204.4 591.9h0.5M168.0 541.5h0.5M265.9 586.9h0.5M235.9 568.7h0.5M214.6 539.4h0.5M183.2 583.2h0.5M237.9 545.4h0.5" stroke="#777" stroke-width="0.5" opacity="1.0" fill="none"/>
<path d="M292.0 548.0C292.7 545.3 294.2 541.7 298.0 540.0C301.8 538.3 309.3 537.8 315.0 538.0C320.7 538.2 328.4 538.7 332.0 541.0C335.6 543.3 336.5 548.0 336.5 552.0C336.5 556.0 333.9 561.0 332.0 565.0C330.1 569.0 327.5 573.3 325.0 576.0C322.5 578.7 319.5 580.7 317.0 581.0C314.5 581.3 312.5 580.5 310.0 578.0C307.5 575.5 304.7 569.7 302.0 566.0C299.3 562.3 295.7 559.0 294.0 556.0C292.3 553.0 291.3 550.7 292.0 548.0Z" fill="none" stroke="#555" stroke-width="0.42" opacity="1.0"/>
<path d="M294.0 548.6C294.6 546.1 296.0 542.8 299.5 541.2C303.0 539.7 309.9 539.2 315.1 539.4C320.3 539.5 327.4 540.0 330.7 542.1C334.0 544.3 334.9 548.6 334.9 552.2C334.9 555.9 332.5 560.5 330.7 564.2C329.0 567.9 326.6 571.8 324.3 574.3C322.0 576.7 319.3 578.6 317.0 578.9C314.7 579.2 312.8 578.4 310.5 576.1C308.2 573.8 305.6 568.5 303.2 565.1C300.7 561.7 297.4 558.7 295.8 555.9C294.3 553.2 293.4 551.0 294.0 548.6Z" fill="none" stroke="#555" stroke-width="0.42" opacity="1.0"/>
<path d="M296.0 549.1C296.6 546.9 297.8 543.8 301.0 542.5C304.2 541.1 310.5 540.6 315.2 540.8C320.0 540.9 326.5 541.3 329.5 543.3C332.5 545.2 333.2 549.1 333.2 552.5C333.2 555.8 331.1 560.0 329.5 563.4C327.9 566.7 325.7 570.3 323.6 572.6C321.5 574.8 319.0 576.5 316.9 576.7C314.8 577.0 313.2 576.3 311.1 574.2C309.0 572.1 306.6 567.3 304.4 564.2C302.1 561.1 299.1 558.3 297.7 555.8C296.3 553.3 295.5 551.4 296.0 549.1Z" fill="none" stroke="#555" stroke-width="0.42" opacity="1.0"/>
<path d="M298.0 549.7C298.5 547.7 299.6 544.9 302.5 543.7C305.4 542.4 311.1 542.0 315.4 542.2C319.6 542.3 325.5 542.7 328.2 544.4C330.9 546.2 331.6 549.7 331.6 552.7C331.6 555.8 329.6 559.5 328.2 562.5C326.7 565.6 324.8 568.8 322.9 570.8C321.0 572.9 318.8 574.4 316.9 574.6C315.0 574.9 313.5 574.2 311.6 572.4C309.7 570.5 307.6 566.1 305.6 563.3C303.5 560.5 300.8 558.0 299.5 555.8C298.3 553.5 297.5 551.7 298.0 549.7Z" fill="none" stroke="#555" stroke-width="0.42" opacity="1.0"/>
<path d="M300.0 550.3C300.5 548.5 301.5 546.0 304.1 544.9C306.6 543.8 311.7 543.5 315.5 543.6C319.3 543.7 324.5 544.0 326.9 545.6C329.3 547.2 330.0 550.3 330.0 553.0C330.0 555.7 328.2 559.0 326.9 561.7C325.6 564.4 323.9 567.3 322.2 569.1C320.5 570.9 318.5 572.3 316.8 572.5C315.2 572.7 313.8 572.2 312.1 570.5C310.4 568.8 308.5 564.9 306.7 562.4C305.0 559.9 302.5 557.7 301.4 555.7C300.2 553.7 299.6 552.1 300.0 550.3Z" fill="none" stroke="#555" stroke-width="0.42" opacity="1.0"/>
<path d="M302.0 550.9C302.4 549.3 303.3 547.1 305.6 546.1C307.8 545.2 312.3 544.9 315.6 545.0C319.0 545.1 323.5 545.3 325.7 546.7C327.8 548.1 328.3 550.9 328.3 553.2C328.3 555.6 326.8 558.5 325.7 560.9C324.5 563.3 323.0 565.8 321.5 567.4C320.0 569.0 318.3 570.2 316.8 570.4C315.3 570.6 314.1 570.1 312.7 568.6C311.2 567.1 309.5 563.7 307.9 561.5C306.4 559.3 304.2 557.4 303.2 555.6C302.2 553.8 301.6 552.4 302.0 550.9Z" fill="none" stroke="#555" stroke-width="0.42" opacity="1.0"/>
<path d="M304.0 551.4C304.4 550.1 305.1 548.2 307.1 547.4C309.0 546.5 312.9 546.3 315.7 546.3C318.6 546.4 322.6 546.7 324.4 547.9C326.2 549.1 326.7 551.4 326.7 553.5C326.7 555.5 325.4 558.1 324.4 560.1C323.4 562.1 322.1 564.3 320.8 565.7C319.6 567.0 318.0 568.1 316.8 568.2C315.5 568.4 314.5 568.0 313.2 566.7C311.9 565.4 310.5 562.5 309.1 560.6C307.8 558.7 305.9 557.0 305.0 555.5C304.2 554.0 303.7 552.8 304.0 551.4Z" fill="none" stroke="#555" stroke-width="0.42" opacity="1.0"/>
<path d="M306.0 552.0C306.3 550.9 307.0 549.3 308.6 548.6C310.2 547.9 313.4 547.7 315.9 547.7C318.3 547.8 321.6 548.0 323.1 549.0C324.7 550.0 325.0 552.0 325.0 553.7C325.0 555.4 323.9 557.6 323.1 559.3C322.3 561.0 321.2 562.8 320.1 564.0C319.1 565.1 317.8 566.0 316.7 566.1C315.6 566.3 314.8 565.9 313.7 564.8C312.7 563.8 311.4 561.3 310.3 559.7C309.2 558.1 307.6 556.7 306.9 555.4C306.2 554.1 305.7 553.1 306.0 552.0Z" fill="none" stroke="#555" stroke-width="0.42" opacity="1.0"/>
<path d="M308.0 552.6C308.3 551.7 308.8 550.4 310.1 549.8C311.4 549.2 314.0 549.1 316.0 549.1C317.9 549.2 320.6 549.4 321.9 550.2C323.1 551.0 323.4 552.6 323.4 554.0C323.4 555.3 322.5 557.1 321.9 558.5C321.2 559.8 320.3 561.3 319.4 562.3C318.6 563.2 317.5 563.9 316.7 564.0C315.8 564.1 315.1 563.8 314.3 562.9C313.4 562.1 312.4 560.1 311.5 558.8C310.6 557.5 309.3 556.4 308.7 555.3C308.2 554.3 307.8 553.5 308.0 552.6Z" fill="none" stroke="#555" stroke-width="0.42" opacity="1.0"/>
<path d="M310.0 553.2C310.2 552.5 310.6 551.5 311.6 551.0C312.6 550.6 314.6 550.5 316.1 550.5C317.6 550.6 319.6 550.7 320.6 551.3C321.5 551.9 321.8 553.2 321.8 554.2C321.8 555.3 321.1 556.6 320.6 557.6C320.1 558.7 319.4 559.8 318.7 560.5C318.1 561.2 317.3 561.8 316.6 561.9C316.0 561.9 315.4 561.7 314.8 561.1C314.1 560.4 313.4 558.9 312.7 557.9C312.0 556.9 311.0 556.1 310.6 555.3C310.1 554.5 309.9 553.9 310.0 553.2Z" fill="none" stroke="#555" stroke-width="0.42" opacity="1.0"/>
<path d="M312.0 553.7C312.2 553.2 312.4 552.6 313.1 552.3C313.8 552.0 315.2 551.9 316.2 551.9C317.3 551.9 318.7 552.0 319.3 552.5C320.0 552.9 320.1 553.7 320.1 554.5C320.1 555.2 319.7 556.1 319.3 556.8C319.0 557.5 318.5 558.3 318.0 558.8C317.6 559.3 317.0 559.7 316.6 559.7C316.1 559.8 315.8 559.6 315.3 559.2C314.9 558.7 314.3 557.7 313.9 557.0C313.4 556.3 312.7 555.7 312.4 555.2C312.1 554.6 311.9 554.2 312.0 553.7Z" fill="none" stroke="#555" stroke-width="0.42" opacity="1.0"/>
<path d="M314.1 554.3C314.1 554.0 314.3 553.7 314.6 553.5C315.0 553.3 315.8 553.3 316.4 553.3C316.9 553.3 317.7 553.4 318.1 553.6C318.4 553.8 318.5 554.3 318.5 554.7C318.5 555.1 318.2 555.6 318.1 556.0C317.9 556.4 317.6 556.8 317.4 557.1C317.1 557.4 316.8 557.6 316.6 557.6C316.3 557.6 316.1 557.5 315.9 557.3C315.6 557.0 315.3 556.5 315.1 556.1C314.8 555.7 314.4 555.4 314.2 555.1C314.1 554.8 314.0 554.6 314.1 554.3Z" fill="none" stroke="#555" stroke-width="0.42" opacity="1.0"/>
<ellipse cx="316.5" cy="555" rx="9" ry="9" fill="#555" opacity="0.18"/>
<path d="M310.0 586.0C312.2 584.2 317.0 585.0 322.0 585.0C327.0 585.0 334.7 585.3 340.0 586.0C345.3 586.7 351.2 587.7 354.0 589.0C356.8 590.3 357.2 592.2 356.5 594.0C355.8 595.8 353.6 598.8 350.0 600.0C346.4 601.2 340.3 601.5 335.0 601.5C329.7 601.5 322.3 600.9 318.0 600.0C313.7 599.1 310.3 598.3 309.0 596.0C307.7 593.7 307.8 587.8 310.0 586.0Z" fill="none" stroke="#555" stroke-width="0.42" opacity="1.0"/>
<path d="M314.4 587.4C316.2 585.9 320.2 586.6 324.4 586.6C328.5 586.6 334.9 586.9 339.3 587.4C343.7 588.0 348.7 588.8 350.9 589.9C353.2 591.0 353.6 592.6 353.0 594.1C352.5 595.6 350.6 598.0 347.6 599.1C344.6 600.1 339.6 600.3 335.2 600.3C330.7 600.3 324.7 599.8 321.1 599.1C317.5 598.3 314.7 597.7 313.6 595.7C312.5 593.8 312.6 589.0 314.4 587.4Z" fill="none" stroke="#555" stroke-width="0.42" opacity="1.0"/>
<path d="M318.8 588.9C320.3 587.7 323.5 588.2 326.8 588.2C330.1 588.2 335.1 588.5 338.6 588.9C342.2 589.3 346.1 590.0 347.9 590.9C349.7 591.8 350.0 593.0 349.5 594.2C349.1 595.4 347.6 597.3 345.2 598.1C342.9 599.0 338.9 599.1 335.3 599.1C331.8 599.1 327.0 598.7 324.1 598.1C321.3 597.5 319.1 597.0 318.2 595.5C317.3 594.0 317.4 590.1 318.8 588.9Z" fill="none" stroke="#555" stroke-width="0.42" opacity="1.0"/>
<path d="M323.3 590.3C324.3 589.4 326.7 589.8 329.1 589.8C331.6 589.8 335.3 590.0 338.0 590.3C340.6 590.7 343.5 591.2 344.8 591.8C346.2 592.5 346.4 593.4 346.0 594.3C345.7 595.2 344.6 596.6 342.9 597.2C341.1 597.8 338.1 597.9 335.5 597.9C332.9 597.9 329.3 597.6 327.2 597.2C325.1 596.7 323.4 596.4 322.8 595.2C322.1 594.1 322.2 591.2 323.3 590.3Z" fill="none" stroke="#555" stroke-width="0.42" opacity="1.0"/>
<path d="M327.7 591.8C328.4 591.2 329.9 591.5 331.5 591.5C333.1 591.5 335.6 591.6 337.3 591.8C339.0 592.0 340.9 592.3 341.8 592.7C342.6 593.2 342.8 593.8 342.6 594.3C342.3 594.9 341.6 595.9 340.5 596.3C339.3 596.7 337.4 596.7 335.7 596.7C334.0 596.7 331.6 596.6 330.2 596.3C328.9 596.0 327.8 595.7 327.4 595.0C326.9 594.2 327.0 592.4 327.7 591.8Z" fill="none" stroke="#555" stroke-width="0.42" opacity="1.0"/>
<path d="M332.1 593.2C332.4 593.0 333.1 593.1 333.9 593.1C334.6 593.1 335.8 593.1 336.6 593.2C337.4 593.3 338.3 593.5 338.7 593.7C339.1 593.9 339.2 594.1 339.1 594.4C339.0 594.7 338.6 595.1 338.1 595.3C337.6 595.5 336.7 595.5 335.9 595.5C335.1 595.5 334.0 595.5 333.3 595.3C332.6 595.2 332.1 595.1 331.9 594.7C331.8 594.4 331.8 593.5 332.1 593.2Z" fill="none" stroke="#555" stroke-width="0.42" opacity="1.0"/>
<path d="M310 580C306 586 308 594 312 598" fill="none" stroke="#666" stroke-width="0.45"/>
<path d="M350.3 533.3h0.5M347.0 536.8h0.5M336.0 550.8h0.5M340.4 533.1h0.5M333.2 580.4h0.5M296.3 550.3h0.5M353.9 573.5h0.5M347.4 596.4h0.5M342.6 541.8h0.5M328.9 601.4h0.5M342.1 593.8h0.5M320.6 564.0h0.5M384.8 600.6h0.5M351.2 530.4h0.5M346.9 523.3h0.5M381.0 615.3h0.5M359.2 546.2h0.5M371.7 537.4h0.5M369.8 571.0h0.5M283.7 607.2h0.5M328.6 601.4h0.5M355.0 572.2h0.5M373.4 539.9h0.5M377.2 553.2h0.5M284.8 553.0h0.5M289.0 527.1h0.5M348.2 531.8h0.5M298.9 548.7h0.5M311.5 610.2h0.5M378.0 605.3h0.5" stroke="#777" stroke-width="0.5" opacity="1.0" fill="none"/>
<rect x="46.70" y="510.30" width="111.20" height="109.90" fill="none" stroke="#555" stroke-width="0.9"/>
<line x1="100.50" y1="510.30" x2="100.50" y2="620.20" stroke="#555" stroke-width="0.9"/>
<line x1="46.70" y1="582.50" x2="157.90" y2="582.50" stroke="#555" stroke-width="0.9"/>
<rect x="100.50" y="582.50" width="56.90" height="37.20" fill="none" stroke="#198239" stroke-width="1.9"/>
<rect x="162.50" y="511.50" width="111.00" height="109.00" fill="none" stroke="#555" stroke-width="0.9"/>
<line x1="216.20" y1="511.50" x2="216.20" y2="620.50" stroke="#555" stroke-width="0.9"/>
<line x1="162.50" y1="583.00" x2="273.50" y2="583.00" stroke="#555" stroke-width="0.9"/>
<rect x="216.20" y="583.00" width="56.80" height="37.00" fill="none" stroke="#198239" stroke-width="1.9"/>
<rect x="278.30" y="510.50" width="112.40" height="110.50" fill="none" stroke="#555" stroke-width="0.9"/>
<line x1="332.00" y1="510.50" x2="332.00" y2="621.00" stroke="#555" stroke-width="0.9"/>
<line x1="278.30" y1="584.20" x2="390.70" y2="584.20" stroke="#555" stroke-width="0.9"/>
<rect x="332.00" y="584.20" width="58.20" height="36.30" fill="none" stroke="#198239" stroke-width="1.9"/>
<text x="52.90" y="523.40" font-size="7.8" text-anchor="start" fill="#222" font-weight="normal" stroke="#222" stroke-width="0.1">86.6</text>
<text x="151.20" y="523.40" font-size="7.8" text-anchor="end" fill="#222" font-weight="normal" stroke="#222" stroke-width="0.1">4.36</text>
<text x="52.90" y="615.50" font-size="7.8" text-anchor="start" fill="#222" font-weight="normal" stroke="#222" stroke-width="0.1">4.16</text>
<text x="151.20" y="615.50" font-size="7.8" text-anchor="end" fill="#222" font-weight="normal" stroke="#222" stroke-width="0.1">4.87</text>
<text x="167.00" y="522.80" font-size="7.8" text-anchor="start" fill="#222" font-weight="normal" stroke="#222" stroke-width="0.1">93.0</text>
<text x="268.00" y="522.80" font-size="7.8" text-anchor="end" fill="#222" font-weight="normal" stroke="#222" stroke-width="0.1">0.32</text>
<text x="167.00" y="614.60" font-size="7.8" text-anchor="start" fill="#222" font-weight="normal" stroke="#222" stroke-width="0.1">6.34</text>
<text x="268.00" y="614.60" font-size="7.8" text-anchor="end" fill="#222" font-weight="normal" stroke="#222" stroke-width="0.1">0.32</text>
<text x="281.30" y="522.80" font-size="7.8" text-anchor="start" fill="#222" font-weight="normal" stroke="#222" stroke-width="0.1">83.2</text>
<text x="385.00" y="522.80" font-size="7.8" text-anchor="end" fill="#222" font-weight="normal" stroke="#222" stroke-width="0.1">2.53</text>
<text x="281.30" y="614.60" font-size="7.8" text-anchor="start" fill="#222" font-weight="normal" stroke="#222" stroke-width="0.1">7.94</text>
<text x="385.00" y="614.60" font-size="7.8" text-anchor="end" fill="#222" font-weight="normal" stroke="#222" stroke-width="0.1">6.32</text>
<line x1="446.90" y1="182.10" x2="446.90" y2="282.90" stroke="#222" stroke-width="1.3"/>
<line x1="446.30" y1="282.30" x2="511.70" y2="282.30" stroke="#222" stroke-width="1.3"/>
<line x1="443.90" y1="282.30" x2="446.90" y2="282.30" stroke="#222" stroke-width="1.1"/>
<text x="439.60" y="285.10" font-size="7.8" text-anchor="end" fill="#2b2b2b" font-weight="normal" stroke="#2b2b2b" stroke-width="0.1">0</text>
<line x1="443.90" y1="262.76" x2="446.90" y2="262.76" stroke="#222" stroke-width="1.1"/>
<text x="439.60" y="265.56" font-size="7.8" text-anchor="end" fill="#2b2b2b" font-weight="normal" stroke="#2b2b2b" stroke-width="0.1">20</text>
<line x1="443.90" y1="243.22" x2="446.90" y2="243.22" stroke="#222" stroke-width="1.1"/>
<text x="439.60" y="246.02" font-size="7.8" text-anchor="end" fill="#2b2b2b" font-weight="normal" stroke="#2b2b2b" stroke-width="0.1">40</text>
<line x1="443.90" y1="223.68" x2="446.90" y2="223.68" stroke="#222" stroke-width="1.1"/>
<text x="439.60" y="226.48" font-size="7.8" text-anchor="end" fill="#2b2b2b" font-weight="normal" stroke="#2b2b2b" stroke-width="0.1">60</text>
<line x1="443.90" y1="204.14" x2="446.90" y2="204.14" stroke="#222" stroke-width="1.1"/>
<text x="439.60" y="206.94" font-size="7.8" text-anchor="end" fill="#2b2b2b" font-weight="normal" stroke="#2b2b2b" stroke-width="0.1">80</text>
<line x1="443.90" y1="184.60" x2="446.90" y2="184.60" stroke="#222" stroke-width="1.1"/>
<text x="439.60" y="187.40" font-size="7.8" text-anchor="end" fill="#2b2b2b" font-weight="normal" stroke="#2b2b2b" stroke-width="0.1">100</text>
<line x1="465.30" y1="282.30" x2="465.30" y2="285.30" stroke="#222" stroke-width="1.1"/>
<line x1="493.20" y1="282.30" x2="493.20" y2="285.30" stroke="#222" stroke-width="1.1"/>
<line x1="465.30" y1="187.20" x2="493.70" y2="187.20" stroke="#222" stroke-width="1.2"/>
<circle cx="477.45" cy="183.70" r="1.15" fill="#222"/>
<circle cx="481.05" cy="183.70" r="1.15" fill="#222"/>
<line x1="465.30" y1="192.42" x2="493.20" y2="276.44" stroke="#222" stroke-width="0.9"/>
<line x1="465.30" y1="216.84" x2="493.20" y2="279.37" stroke="#222" stroke-width="0.9"/>
<line x1="465.30" y1="223.68" x2="493.20" y2="281.32" stroke="#222" stroke-width="0.9"/>
<line x1="465.30" y1="233.45" x2="493.20" y2="281.81" stroke="#222" stroke-width="0.9"/>
<line x1="465.30" y1="241.27" x2="493.20" y2="266.67" stroke="#222" stroke-width="0.9"/>
<line x1="465.30" y1="244.20" x2="493.20" y2="272.53" stroke="#222" stroke-width="0.9"/>
<circle cx="465.30" cy="192.42" r="2.50" fill="#45a3d1" stroke="#1b4a5e" stroke-width="0.8"/>
<circle cx="465.30" cy="216.84" r="2.50" fill="#45a3d1" stroke="#1b4a5e" stroke-width="0.8"/>
<circle cx="465.30" cy="223.68" r="2.50" fill="#45a3d1" stroke="#1b4a5e" stroke-width="0.8"/>
<circle cx="465.30" cy="233.45" r="2.50" fill="#45a3d1" stroke="#1b4a5e" stroke-width="0.8"/>
<circle cx="465.30" cy="241.27" r="2.50" fill="#45a3d1" stroke="#1b4a5e" stroke-width="0.8"/>
<circle cx="465.30" cy="244.20" r="2.50" fill="#45a3d1" stroke="#1b4a5e" stroke-width="0.8"/>
<circle cx="493.20" cy="266.67" r="2.50" fill="#b5163a" stroke="#5a0a1a" stroke-width="0.8"/>
<circle cx="493.20" cy="272.53" r="2.50" fill="#b5163a" stroke="#5a0a1a" stroke-width="0.8"/>
<circle cx="493.20" cy="276.44" r="2.50" fill="#b5163a" stroke="#5a0a1a" stroke-width="0.8"/>
<circle cx="493.20" cy="279.37" r="2.50" fill="#b5163a" stroke="#5a0a1a" stroke-width="0.8"/>
<circle cx="493.20" cy="281.32" r="2.50" fill="#b5163a" stroke="#5a0a1a" stroke-width="0.8"/>
<circle cx="493.20" cy="281.81" r="2.50" fill="#b5163a" stroke="#5a0a1a" stroke-width="0.8"/>
<text x="407.60" y="233.90" font-size="9.2" text-anchor="middle" fill="#333" stroke="#333" stroke-width="0.22" transform="rotate(-90 407.60 233.90)" textLength="74.4" lengthAdjust="spacingAndGlyphs">HLA-DR+CD38+ (%)</text>
<text x="419.80" y="233.90" font-size="9.2" text-anchor="middle" fill="#333" stroke="#333" stroke-width="0.22" transform="rotate(-90 419.80 233.90)" textLength="65.6" lengthAdjust="spacingAndGlyphs">(% of CD4+TEM)</text>
<text x="469.30" y="294.90" font-size="8.0" text-anchor="end" fill="#2b2b2b" font-weight="normal" stroke="#2b2b2b" stroke-width="0.1" transform="rotate(-45 469.3 294.90000000000003)">Active-HLH</text>
<text x="497.20" y="294.10" font-size="8.0" text-anchor="end" fill="#2b2b2b" font-weight="normal" stroke="#2b2b2b" stroke-width="0.1" transform="rotate(-45 497.2 294.1)">HLH- On</text>
<text x="503.20" y="303.10" font-size="8.0" text-anchor="end" fill="#2b2b2b" font-weight="normal" stroke="#2b2b2b" stroke-width="0.1" transform="rotate(-45 503.2 303.1)">therapy</text>
<line x1="446.20" y1="344.00" x2="446.20" y2="443.60" stroke="#222" stroke-width="1.3"/>
<line x1="445.60" y1="443.00" x2="511.70" y2="443.00" stroke="#222" stroke-width="1.3"/>
<line x1="443.20" y1="443.00" x2="446.20" y2="443.00" stroke="#222" stroke-width="1.1"/>
<text x="438.90" y="445.80" font-size="7.8" text-anchor="end" fill="#2b2b2b" font-weight="normal" stroke="#2b2b2b" stroke-width="0.1">0</text>
<line x1="443.20" y1="423.70" x2="446.20" y2="423.70" stroke="#222" stroke-width="1.1"/>
<text x="438.90" y="426.50" font-size="7.8" text-anchor="end" fill="#2b2b2b" font-weight="normal" stroke="#2b2b2b" stroke-width="0.1">5</text>
<line x1="443.20" y1="404.40" x2="446.20" y2="404.40" stroke="#222" stroke-width="1.1"/>
<text x="438.90" y="407.20" font-size="7.8" text-anchor="end" fill="#2b2b2b" font-weight="normal" stroke="#2b2b2b" stroke-width="0.1">10</text>
<line x1="443.20" y1="385.10" x2="446.20" y2="385.10" stroke="#222" stroke-width="1.1"/>
<text x="438.90" y="387.90" font-size="7.8" text-anchor="end" fill="#2b2b2b" font-weight="normal" stroke="#2b2b2b" stroke-width="0.1">15</text>
<line x1="443.20" y1="365.80" x2="446.20" y2="365.80" stroke="#222" stroke-width="1.1"/>
<text x="438.90" y="368.60" font-size="7.8" text-anchor="end" fill="#2b2b2b" font-weight="normal" stroke="#2b2b2b" stroke-width="0.1">20</text>
<line x1="443.20" y1="346.50" x2="446.20" y2="346.50" stroke="#222" stroke-width="1.1"/>
<text x="438.90" y="349.30" font-size="7.8" text-anchor="end" fill="#2b2b2b" font-weight="normal" stroke="#2b2b2b" stroke-width="0.1">25</text>
<line x1="465.30" y1="443.00" x2="465.30" y2="446.00" stroke="#222" stroke-width="1.1"/>
<line x1="493.20" y1="443.00" x2="493.20" y2="446.00" stroke="#222" stroke-width="1.1"/>
<line x1="465.30" y1="351.60" x2="493.70" y2="351.60" stroke="#222" stroke-width="1.2"/>
<circle cx="477.45" cy="348.10" r="1.15" fill="#222"/>
<circle cx="481.05" cy="348.10" r="1.15" fill="#222"/>
<line x1="465.30" y1="379.70" x2="493.20" y2="367.73" stroke="#222" stroke-width="0.9"/>
<line x1="465.30" y1="411.93" x2="493.20" y2="395.14" stroke="#222" stroke-width="0.9"/>
<line x1="465.30" y1="416.37" x2="493.20" y2="407.68" stroke="#222" stroke-width="0.9"/>
<line x1="465.30" y1="423.82" x2="493.20" y2="382.78" stroke="#222" stroke-width="0.9"/>
<line x1="465.30" y1="440.68" x2="493.20" y2="406.52" stroke="#222" stroke-width="0.9"/>
<line x1="465.30" y1="442.61" x2="493.20" y2="433.74" stroke="#222" stroke-width="0.9"/>
<circle cx="465.30" cy="379.70" r="2.50" fill="#45a3d1" stroke="#1b4a5e" stroke-width="0.8"/>
<circle cx="465.30" cy="411.93" r="2.50" fill="#45a3d1" stroke="#1b4a5e" stroke-width="0.8"/>
<circle cx="465.30" cy="416.37" r="2.50" fill="#45a3d1" stroke="#1b4a5e" stroke-width="0.8"/>
<circle cx="465.30" cy="423.82" r="2.50" fill="#45a3d1" stroke="#1b4a5e" stroke-width="0.8"/>
<circle cx="465.30" cy="440.68" r="2.50" fill="#45a3d1" stroke="#1b4a5e" stroke-width="0.8"/>
<circle cx="465.30" cy="442.61" r="2.50" fill="#45a3d1" stroke="#1b4a5e" stroke-width="0.8"/>
<circle cx="493.20" cy="367.73" r="2.50" fill="#b5163a" stroke="#5a0a1a" stroke-width="0.8"/>
<circle cx="493.20" cy="382.78" r="2.50" fill="#b5163a" stroke="#5a0a1a" stroke-width="0.8"/>
<circle cx="493.20" cy="395.14" r="2.50" fill="#b5163a" stroke="#5a0a1a" stroke-width="0.8"/>
<circle cx="493.20" cy="406.52" r="2.50" fill="#b5163a" stroke="#5a0a1a" stroke-width="0.8"/>
<circle cx="493.20" cy="407.68" r="2.50" fill="#b5163a" stroke="#5a0a1a" stroke-width="0.8"/>
<circle cx="493.20" cy="433.74" r="2.50" fill="#b5163a" stroke="#5a0a1a" stroke-width="0.8"/>
<text x="412.00" y="395.60" font-size="9.5" text-anchor="middle" fill="#333" stroke="#333" stroke-width="0.22" transform="rotate(-90 412.00 395.60)" textLength="69.2" lengthAdjust="spacingAndGlyphs">CXCR5+ (cTfh) (%)</text>
<text x="424.50" y="394.70" font-size="9.5" text-anchor="middle" fill="#333" stroke="#333" stroke-width="0.22" transform="rotate(-90 424.50 394.70)" textLength="78.4" lengthAdjust="spacingAndGlyphs">(% of CD45RA–CD4+)</text>
<text x="469.30" y="455.60" font-size="8.0" text-anchor="end" fill="#2b2b2b" font-weight="normal" stroke="#2b2b2b" stroke-width="0.1" transform="rotate(-45 469.3 455.6)">Active-HLH</text>
<text x="497.20" y="454.80" font-size="8.0" text-anchor="end" fill="#2b2b2b" font-weight="normal" stroke="#2b2b2b" stroke-width="0.1" transform="rotate(-45 497.2 454.8)">HLH- On</text>
<text x="503.20" y="463.80" font-size="8.0" text-anchor="end" fill="#2b2b2b" font-weight="normal" stroke="#2b2b2b" stroke-width="0.1" transform="rotate(-45 503.2 463.8)">therapy</text>
<line x1="446.20" y1="497.90" x2="446.20" y2="597.20" stroke="#222" stroke-width="1.3"/>
<line x1="445.60" y1="596.60" x2="511.70" y2="596.60" stroke="#222" stroke-width="1.3"/>
<line x1="443.20" y1="596.60" x2="446.20" y2="596.60" stroke="#222" stroke-width="1.1"/>
<text x="438.90" y="599.40" font-size="7.8" text-anchor="end" fill="#2b2b2b" font-weight="normal" stroke="#2b2b2b" stroke-width="0.1">0</text>
<line x1="443.20" y1="577.36" x2="446.20" y2="577.36" stroke="#222" stroke-width="1.1"/>
<text x="438.90" y="580.16" font-size="7.8" text-anchor="end" fill="#2b2b2b" font-weight="normal" stroke="#2b2b2b" stroke-width="0.1">1</text>
<line x1="443.20" y1="558.12" x2="446.20" y2="558.12" stroke="#222" stroke-width="1.1"/>
<text x="438.90" y="560.92" font-size="7.8" text-anchor="end" fill="#2b2b2b" font-weight="normal" stroke="#2b2b2b" stroke-width="0.1">2</text>
<line x1="443.20" y1="538.88" x2="446.20" y2="538.88" stroke="#222" stroke-width="1.1"/>
<text x="438.90" y="541.68" font-size="7.8" text-anchor="end" fill="#2b2b2b" font-weight="normal" stroke="#2b2b2b" stroke-width="0.1">3</text>
<line x1="443.20" y1="519.64" x2="446.20" y2="519.64" stroke="#222" stroke-width="1.1"/>
<text x="438.90" y="522.44" font-size="7.8" text-anchor="end" fill="#2b2b2b" font-weight="normal" stroke="#2b2b2b" stroke-width="0.1">4</text>
<line x1="443.20" y1="500.40" x2="446.20" y2="500.40" stroke="#222" stroke-width="1.1"/>
<text x="438.90" y="503.20" font-size="7.8" text-anchor="end" fill="#2b2b2b" font-weight="normal" stroke="#2b2b2b" stroke-width="0.1">5</text>
<line x1="465.30" y1="596.60" x2="465.30" y2="599.60" stroke="#222" stroke-width="1.1"/>
<line x1="493.20" y1="596.60" x2="493.20" y2="599.60" stroke="#222" stroke-width="1.1"/>
<line x1="446.20" y1="577.36" x2="511.70" y2="577.36" stroke="#555" stroke-width="0.9" stroke-dasharray="1.3 1.3"/>
<line x1="465.30" y1="502.70" x2="493.70" y2="502.70" stroke="#222" stroke-width="1.2"/>
<circle cx="479.25" cy="499.20" r="1.15" fill="#222"/>
<line x1="465.30" y1="584.67" x2="493.20" y2="524.64" stroke="#222" stroke-width="0.9"/>
<line x1="465.30" y1="586.98" x2="493.20" y2="561.97" stroke="#222" stroke-width="0.9"/>
<line x1="465.30" y1="590.44" x2="493.20" y2="565.05" stroke="#222" stroke-width="0.9"/>
<line x1="465.30" y1="595.06" x2="493.20" y2="567.74" stroke="#222" stroke-width="0.9"/>
<line x1="465.30" y1="596.60" x2="493.20" y2="590.83" stroke="#222" stroke-width="0.9"/>
<circle cx="465.30" cy="584.67" r="2.50" fill="#45a3d1" stroke="#1b4a5e" stroke-width="0.8"/>
<circle cx="465.30" cy="586.98" r="2.50" fill="#45a3d1" stroke="#1b4a5e" stroke-width="0.8"/>
<circle cx="465.30" cy="590.44" r="2.50" fill="#45a3d1" stroke="#1b4a5e" stroke-width="0.8"/>
<circle cx="465.30" cy="595.06" r="2.50" fill="#45a3d1" stroke="#1b4a5e" stroke-width="0.8"/>
<circle cx="465.30" cy="596.60" r="2.50" fill="#45a3d1" stroke="#1b4a5e" stroke-width="0.8"/>
<circle cx="493.20" cy="524.64" r="2.50" fill="#b5163a" stroke="#5a0a1a" stroke-width="0.8"/>
<circle cx="493.20" cy="561.97" r="2.50" fill="#b5163a" stroke="#5a0a1a" stroke-width="0.8"/>
<circle cx="493.20" cy="565.05" r="2.50" fill="#b5163a" stroke="#5a0a1a" stroke-width="0.8"/>
<circle cx="493.20" cy="567.74" r="2.50" fill="#b5163a" stroke="#5a0a1a" stroke-width="0.8"/>
<circle cx="493.20" cy="590.83" r="2.50" fill="#b5163a" stroke="#5a0a1a" stroke-width="0.8"/>
<text x="416.40" y="548.20" font-size="9.8" text-anchor="middle" fill="#333" stroke="#333" stroke-width="0.22" transform="rotate(-90 416.40 548.20)" textLength="71.7" lengthAdjust="spacingAndGlyphs">CSMB (fold change)</text>
<text x="429.00" y="548.70" font-size="9.8" text-anchor="middle" fill="#333" stroke="#333" stroke-width="0.22" transform="rotate(-90 429.00 548.70)" textLength="75.4" lengthAdjust="spacingAndGlyphs">(CD19+CD27+IgD–)</text>
<text x="469.30" y="609.20" font-size="8.0" text-anchor="end" fill="#2b2b2b" font-weight="normal" stroke="#2b2b2b" stroke-width="0.1" transform="rotate(-45 469.3 609.2)">Active-HLH</text>
<text x="497.20" y="608.40" font-size="8.0" text-anchor="end" fill="#2b2b2b" font-weight="normal" stroke="#2b2b2b" stroke-width="0.1" transform="rotate(-45 497.2 608.4)">HLH- On</text>
<text x="503.20" y="617.40" font-size="8.0" text-anchor="end" fill="#2b2b2b" font-weight="normal" stroke="#2b2b2b" stroke-width="0.1" transform="rotate(-45 503.2 617.4)">therapy</text>
<text x="48.90" y="669.40" font-size="13.6" text-anchor="start" fill="#111" font-weight="bold" stroke="#111" stroke-width="0.35">C</text>
<line x1="87.90" y1="682.80" x2="87.90" y2="786.90" stroke="#222" stroke-width="1.3"/>
<line x1="87.30" y1="786.30" x2="155.00" y2="786.30" stroke="#222" stroke-width="1.3"/>
<line x1="84.90" y1="786.30" x2="87.90" y2="786.30" stroke="#222" stroke-width="1.1"/>
<text x="80.50" y="788.60" font-size="7.7" text-anchor="end" fill="#222">2<tspan font-size="4.7" dy="-3.3">–5</tspan></text>
<line x1="84.90" y1="760.92" x2="87.90" y2="760.92" stroke="#222" stroke-width="1.1"/>
<text x="80.50" y="763.22" font-size="7.7" text-anchor="end" fill="#222">2<tspan font-size="4.7" dy="-3.3">0</tspan></text>
<line x1="84.90" y1="735.55" x2="87.90" y2="735.55" stroke="#222" stroke-width="1.1"/>
<text x="80.50" y="737.85" font-size="7.7" text-anchor="end" fill="#222">2<tspan font-size="4.7" dy="-3.3">5</tspan></text>
<line x1="84.90" y1="710.17" x2="87.90" y2="710.17" stroke="#222" stroke-width="1.1"/>
<text x="80.50" y="712.47" font-size="7.7" text-anchor="end" fill="#222">2<tspan font-size="4.7" dy="-3.3">10</tspan></text>
<line x1="84.90" y1="684.80" x2="87.90" y2="684.80" stroke="#222" stroke-width="1.1"/>
<text x="80.50" y="687.10" font-size="7.7" text-anchor="end" fill="#222">2<tspan font-size="4.7" dy="-3.3">15</tspan></text>
<line x1="107.10" y1="786.30" x2="107.10" y2="789.30" stroke="#222" stroke-width="1.1"/>
<line x1="135.80" y1="786.30" x2="135.80" y2="789.30" stroke="#222" stroke-width="1.1"/>
<text x="107.10" y="800.30" font-size="7.4" text-anchor="middle" fill="#2b2b2b" font-weight="normal" stroke="#2b2b2b" stroke-width="0.1">HC</text>
<text x="135.80" y="800.30" font-size="7.4" text-anchor="middle" fill="#2b2b2b" font-weight="normal" stroke="#2b2b2b" stroke-width="0.1">HLH</text>
<circle cx="107.10" cy="749.25" r="2.45" fill="#d2d2d2" stroke="#3c3c3c" stroke-width="1.0"/>
<circle cx="105.10" cy="756.00" r="2.45" fill="#d2d2d2" stroke="#3c3c3c" stroke-width="1.0"/>
<circle cx="110.10" cy="756.00" r="2.45" fill="#d2d2d2" stroke="#3c3c3c" stroke-width="1.0"/>
<circle cx="103.10" cy="759.81" r="2.45" fill="#d2d2d2" stroke="#3c3c3c" stroke-width="1.0"/>
<circle cx="108.10" cy="759.81" r="2.45" fill="#d2d2d2" stroke="#3c3c3c" stroke-width="1.0"/>
<circle cx="105.10" cy="764.98" r="2.45" fill="#d2d2d2" stroke="#3c3c3c" stroke-width="1.0"/>
<circle cx="110.10" cy="764.98" r="2.45" fill="#d2d2d2" stroke="#3c3c3c" stroke-width="1.0"/>
<circle cx="112.60" cy="768.03" r="2.45" fill="#d2d2d2" stroke="#3c3c3c" stroke-width="1.0"/>
<circle cx="100.10" cy="773.10" r="2.45" fill="#d2d2d2" stroke="#3c3c3c" stroke-width="1.0"/>
<circle cx="104.60" cy="773.10" r="2.45" fill="#d2d2d2" stroke="#3c3c3c" stroke-width="1.0"/>
<circle cx="108.60" cy="773.10" r="2.45" fill="#d2d2d2" stroke="#3c3c3c" stroke-width="1.0"/>
<circle cx="113.10" cy="773.10" r="2.45" fill="#d2d2d2" stroke="#3c3c3c" stroke-width="1.0"/>
<circle cx="105.10" cy="776.15" r="2.45" fill="#d2d2d2" stroke="#3c3c3c" stroke-width="1.0"/>
<circle cx="108.60" cy="776.15" r="2.45" fill="#d2d2d2" stroke="#3c3c3c" stroke-width="1.0"/>
<circle cx="128.80" cy="711.70" r="2.50" fill="#d41c6c" stroke="#4a0a25" stroke-width="1.0"/>
<circle cx="143.10" cy="710.43" r="2.50" fill="#d41c6c" stroke="#4a0a25" stroke-width="1.0"/>
<circle cx="143.10" cy="716.26" r="2.50" fill="#d41c6c" stroke="#4a0a25" stroke-width="1.0"/>
<circle cx="128.80" cy="727.07" r="2.50" fill="#d41c6c" stroke="#4a0a25" stroke-width="1.0"/>
<circle cx="143.10" cy="726.41" r="2.50" fill="#d41c6c" stroke="#4a0a25" stroke-width="1.0"/>
<circle cx="143.10" cy="730.98" r="2.50" fill="#d41c6c" stroke="#4a0a25" stroke-width="1.0"/>
<circle cx="128.80" cy="743.52" r="2.50" fill="#d41c6c" stroke="#4a0a25" stroke-width="1.0"/>
<circle cx="143.10" cy="743.52" r="2.50" fill="#d41c6c" stroke="#4a0a25" stroke-width="1.0"/>
<circle cx="135.80" cy="759.91" r="2.50" fill="#d41c6c" stroke="#4a0a25" stroke-width="1.0"/>
<line x1="97.60" y1="762.95" x2="116.60" y2="762.95" stroke="#222" stroke-width="1.3"/>
<line x1="107.10" y1="765.49" x2="107.10" y2="760.92" stroke="#222" stroke-width="1.1"/>
<line x1="103.30" y1="765.49" x2="110.90" y2="765.49" stroke="#222" stroke-width="1.1"/>
<line x1="103.30" y1="760.92" x2="110.90" y2="760.92" stroke="#222" stroke-width="1.1"/>
<line x1="126.30" y1="719.82" x2="145.30" y2="719.82" stroke="#222" stroke-width="1.3"/>
<line x1="135.80" y1="723.88" x2="135.80" y2="716.77" stroke="#222" stroke-width="1.1"/>
<line x1="132.00" y1="723.88" x2="139.60" y2="723.88" stroke="#222" stroke-width="1.1"/>
<line x1="132.00" y1="716.77" x2="139.60" y2="716.77" stroke="#222" stroke-width="1.1"/>
<line x1="106.90" y1="697.70" x2="135.80" y2="697.70" stroke="#222" stroke-width="1.1"/>
<circle cx="115.95" cy="694.20" r="1.15" fill="#222"/>
<circle cx="119.55" cy="694.20" r="1.15" fill="#222"/>
<circle cx="123.15" cy="694.20" r="1.15" fill="#222"/>
<circle cx="126.75" cy="694.20" r="1.15" fill="#222"/>
<text x="122.10" y="669.70" font-size="10.2" text-anchor="middle" fill="#2b2b2b" font-weight="normal" stroke="#2b2b2b" stroke-width="0.1" textLength="24.2" lengthAdjust="spacingAndGlyphs">INF-γ</text>
<text x="64.00" y="736.50" font-size="9.6" text-anchor="middle" fill="#333" stroke="#333" stroke-width="0.22" transform="rotate(-90 64.00 736.50)" textLength="49.5" lengthAdjust="spacingAndGlyphs">Conc.(pg/mL)</text>
<line x1="195.20" y1="682.80" x2="195.20" y2="786.90" stroke="#222" stroke-width="1.3"/>
<line x1="194.60" y1="786.30" x2="261.00" y2="786.30" stroke="#222" stroke-width="1.3"/>
<line x1="192.20" y1="786.30" x2="195.20" y2="786.30" stroke="#222" stroke-width="1.1"/>
<text x="187.80" y="788.60" font-size="7.7" text-anchor="end" fill="#222">2<tspan font-size="4.7" dy="-3.3">4</tspan></text>
<line x1="192.20" y1="760.92" x2="195.20" y2="760.92" stroke="#222" stroke-width="1.1"/>
<text x="187.80" y="763.22" font-size="7.7" text-anchor="end" fill="#222">2<tspan font-size="4.7" dy="-3.3">6</tspan></text>
<line x1="192.20" y1="735.55" x2="195.20" y2="735.55" stroke="#222" stroke-width="1.1"/>
<text x="187.80" y="737.85" font-size="7.7" text-anchor="end" fill="#222">2<tspan font-size="4.7" dy="-3.3">8</tspan></text>
<line x1="192.20" y1="710.17" x2="195.20" y2="710.17" stroke="#222" stroke-width="1.1"/>
<text x="187.80" y="712.47" font-size="7.7" text-anchor="end" fill="#222">2<tspan font-size="4.7" dy="-3.3">10</tspan></text>
<line x1="192.20" y1="684.80" x2="195.20" y2="684.80" stroke="#222" stroke-width="1.1"/>
<text x="187.80" y="687.10" font-size="7.7" text-anchor="end" fill="#222">2<tspan font-size="4.7" dy="-3.3">12</tspan></text>
<line x1="213.60" y1="786.30" x2="213.60" y2="789.30" stroke="#222" stroke-width="1.1"/>
<line x1="242.10" y1="786.30" x2="242.10" y2="789.30" stroke="#222" stroke-width="1.1"/>
<text x="213.60" y="800.30" font-size="7.4" text-anchor="middle" fill="#2b2b2b" font-weight="normal" stroke="#2b2b2b" stroke-width="0.1">HC</text>
<text x="242.10" y="800.30" font-size="7.4" text-anchor="middle" fill="#2b2b2b" font-weight="normal" stroke="#2b2b2b" stroke-width="0.1">HLH</text>
<circle cx="213.60" cy="737.71" r="2.45" fill="#d2d2d2" stroke="#3c3c3c" stroke-width="1.0"/>
<circle cx="211.10" cy="744.43" r="2.45" fill="#d2d2d2" stroke="#3c3c3c" stroke-width="1.0"/>
<circle cx="216.10" cy="744.43" r="2.45" fill="#d2d2d2" stroke="#3c3c3c" stroke-width="1.0"/>
<circle cx="210.10" cy="751.28" r="2.45" fill="#d2d2d2" stroke="#3c3c3c" stroke-width="1.0"/>
<circle cx="214.60" cy="751.28" r="2.45" fill="#d2d2d2" stroke="#3c3c3c" stroke-width="1.0"/>
<circle cx="211.60" cy="759.66" r="2.45" fill="#d2d2d2" stroke="#3c3c3c" stroke-width="1.0"/>
<circle cx="216.10" cy="759.66" r="2.45" fill="#d2d2d2" stroke="#3c3c3c" stroke-width="1.0"/>
<circle cx="207.60" cy="766.00" r="2.45" fill="#d2d2d2" stroke="#3c3c3c" stroke-width="1.0"/>
<circle cx="214.60" cy="766.00" r="2.45" fill="#d2d2d2" stroke="#3c3c3c" stroke-width="1.0"/>
<circle cx="220.60" cy="766.00" r="2.45" fill="#d2d2d2" stroke="#3c3c3c" stroke-width="1.0"/>
<circle cx="206.60" cy="771.71" r="2.45" fill="#d2d2d2" stroke="#3c3c3c" stroke-width="1.0"/>
<circle cx="212.60" cy="771.71" r="2.45" fill="#d2d2d2" stroke="#3c3c3c" stroke-width="1.0"/>
<circle cx="220.60" cy="771.71" r="2.45" fill="#d2d2d2" stroke="#3c3c3c" stroke-width="1.0"/>
<circle cx="210.10" cy="776.53" r="2.45" fill="#d2d2d2" stroke="#3c3c3c" stroke-width="1.0"/>
<circle cx="217.10" cy="776.53" r="2.45" fill="#d2d2d2" stroke="#3c3c3c" stroke-width="1.0"/>
<circle cx="235.60" cy="696.85" r="2.50" fill="#d41c6c" stroke="#4a0a25" stroke-width="1.0"/>
<circle cx="238.60" cy="694.95" r="2.50" fill="#d41c6c" stroke="#4a0a25" stroke-width="1.0"/>
<circle cx="241.60" cy="693.68" r="2.50" fill="#d41c6c" stroke="#4a0a25" stroke-width="1.0"/>
<circle cx="244.60" cy="695.58" r="2.50" fill="#d41c6c" stroke="#4a0a25" stroke-width="1.0"/>
<circle cx="247.60" cy="696.85" r="2.50" fill="#d41c6c" stroke="#4a0a25" stroke-width="1.0"/>
<circle cx="250.10" cy="698.12" r="2.50" fill="#d41c6c" stroke="#4a0a25" stroke-width="1.0"/>
<circle cx="237.10" cy="699.39" r="2.50" fill="#d41c6c" stroke="#4a0a25" stroke-width="1.0"/>
<circle cx="240.60" cy="698.76" r="2.50" fill="#d41c6c" stroke="#4a0a25" stroke-width="1.0"/>
<circle cx="244.10" cy="700.02" r="2.50" fill="#d41c6c" stroke="#4a0a25" stroke-width="1.0"/>
<circle cx="247.10" cy="699.39" r="2.50" fill="#d41c6c" stroke="#4a0a25" stroke-width="1.0"/>
<circle cx="242.10" cy="697.49" r="2.50" fill="#d41c6c" stroke="#4a0a25" stroke-width="1.0"/>
<line x1="204.10" y1="757.50" x2="223.10" y2="757.50" stroke="#222" stroke-width="1.3"/>
<line x1="213.60" y1="760.92" x2="213.60" y2="753.31" stroke="#222" stroke-width="1.1"/>
<line x1="209.80" y1="760.92" x2="217.40" y2="760.92" stroke="#222" stroke-width="1.1"/>
<line x1="209.80" y1="753.31" x2="217.40" y2="753.31" stroke="#222" stroke-width="1.1"/>
<line x1="232.60" y1="696.85" x2="251.60" y2="696.85" stroke="#222" stroke-width="1.3"/>
<line x1="242.10" y1="697.74" x2="242.10" y2="695.96" stroke="#222" stroke-width="1.1"/>
<line x1="238.30" y1="697.74" x2="245.90" y2="697.74" stroke="#222" stroke-width="1.1"/>
<line x1="238.30" y1="695.96" x2="245.90" y2="695.96" stroke="#222" stroke-width="1.1"/>
<line x1="214.40" y1="681.00" x2="241.70" y2="681.00" stroke="#222" stroke-width="1.1"/>
<circle cx="222.65" cy="677.50" r="1.15" fill="#222"/>
<circle cx="226.25" cy="677.50" r="1.15" fill="#222"/>
<circle cx="229.85" cy="677.50" r="1.15" fill="#222"/>
<circle cx="233.45" cy="677.50" r="1.15" fill="#222"/>
<text x="228.30" y="669.70" font-size="10.2" text-anchor="middle" fill="#2b2b2b" font-weight="normal" stroke="#2b2b2b" stroke-width="0.1" textLength="30.8" lengthAdjust="spacingAndGlyphs">CXCL9</text>
<text x="171.10" y="736.50" font-size="9.6" text-anchor="middle" fill="#333" stroke="#333" stroke-width="0.22" transform="rotate(-90 171.10 736.50)" textLength="49.5" lengthAdjust="spacingAndGlyphs">Conc.(pg/mL)</text>
<line x1="300.90" y1="682.80" x2="300.90" y2="786.90" stroke="#222" stroke-width="1.3"/>
<line x1="300.30" y1="786.30" x2="367.90" y2="786.30" stroke="#222" stroke-width="1.3"/>
<line x1="297.90" y1="786.30" x2="300.90" y2="786.30" stroke="#222" stroke-width="1.1"/>
<text x="293.50" y="788.60" font-size="7.7" text-anchor="end" fill="#222">2<tspan font-size="4.7" dy="-3.3">–5</tspan></text>
<line x1="297.90" y1="760.92" x2="300.90" y2="760.92" stroke="#222" stroke-width="1.1"/>
<text x="293.50" y="763.22" font-size="7.7" text-anchor="end" fill="#222">2<tspan font-size="4.7" dy="-3.3">0</tspan></text>
<line x1="297.90" y1="735.55" x2="300.90" y2="735.55" stroke="#222" stroke-width="1.1"/>
<text x="293.50" y="737.85" font-size="7.7" text-anchor="end" fill="#222">2<tspan font-size="4.7" dy="-3.3">5</tspan></text>
<line x1="297.90" y1="710.17" x2="300.90" y2="710.17" stroke="#222" stroke-width="1.1"/>
<text x="293.50" y="712.47" font-size="7.7" text-anchor="end" fill="#222">2<tspan font-size="4.7" dy="-3.3">10</tspan></text>
<line x1="297.90" y1="684.80" x2="300.90" y2="684.80" stroke="#222" stroke-width="1.1"/>
<text x="293.50" y="687.10" font-size="7.7" text-anchor="end" fill="#222">2<tspan font-size="4.7" dy="-3.3">15</tspan></text>
<line x1="319.80" y1="786.30" x2="319.80" y2="789.30" stroke="#222" stroke-width="1.1"/>
<line x1="348.20" y1="786.30" x2="348.20" y2="789.30" stroke="#222" stroke-width="1.1"/>
<text x="319.80" y="800.30" font-size="7.4" text-anchor="middle" fill="#2b2b2b" font-weight="normal" stroke="#2b2b2b" stroke-width="0.1">HC</text>
<text x="348.20" y="800.30" font-size="7.4" text-anchor="middle" fill="#2b2b2b" font-weight="normal" stroke="#2b2b2b" stroke-width="0.1">HLH</text>
<circle cx="319.80" cy="754.02" r="2.45" fill="#d2d2d2" stroke="#3c3c3c" stroke-width="1.0"/>
<circle cx="319.30" cy="764.98" r="2.45" fill="#d2d2d2" stroke="#3c3c3c" stroke-width="1.0"/>
<circle cx="312.80" cy="770.57" r="2.45" fill="#d2d2d2" stroke="#3c3c3c" stroke-width="1.0"/>
<circle cx="316.80" cy="770.57" r="2.45" fill="#d2d2d2" stroke="#3c3c3c" stroke-width="1.0"/>
<circle cx="320.30" cy="770.57" r="2.45" fill="#d2d2d2" stroke="#3c3c3c" stroke-width="1.0"/>
<circle cx="323.30" cy="770.57" r="2.45" fill="#d2d2d2" stroke="#3c3c3c" stroke-width="1.0"/>
<circle cx="326.80" cy="773.10" r="2.45" fill="#d2d2d2" stroke="#3c3c3c" stroke-width="1.0"/>
<circle cx="319.80" cy="779.96" r="2.45" fill="#d2d2d2" stroke="#3c3c3c" stroke-width="1.0"/>
<circle cx="315.80" cy="767.01" r="2.45" fill="#d2d2d2" stroke="#3c3c3c" stroke-width="1.0"/>
<circle cx="323.80" cy="767.01" r="2.45" fill="#d2d2d2" stroke="#3c3c3c" stroke-width="1.0"/>
<circle cx="348.20" cy="707.89" r="2.50" fill="#d41c6c" stroke="#4a0a25" stroke-width="1.0"/>
<circle cx="341.20" cy="728.95" r="2.50" fill="#d41c6c" stroke="#4a0a25" stroke-width="1.0"/>
<circle cx="355.50" cy="728.95" r="2.50" fill="#d41c6c" stroke="#4a0a25" stroke-width="1.0"/>
<circle cx="348.20" cy="732.00" r="2.50" fill="#d41c6c" stroke="#4a0a25" stroke-width="1.0"/>
<circle cx="341.20" cy="738.09" r="2.50" fill="#d41c6c" stroke="#4a0a25" stroke-width="1.0"/>
<circle cx="348.20" cy="741.89" r="2.50" fill="#d41c6c" stroke="#4a0a25" stroke-width="1.0"/>
<circle cx="341.20" cy="758.49" r="2.50" fill="#d41c6c" stroke="#4a0a25" stroke-width="1.0"/>
<circle cx="355.50" cy="758.49" r="2.50" fill="#d41c6c" stroke="#4a0a25" stroke-width="1.0"/>
<circle cx="348.20" cy="754.02" r="2.50" fill="#d41c6c" stroke="#4a0a25" stroke-width="1.0"/>
<line x1="310.30" y1="767.01" x2="329.30" y2="767.01" stroke="#222" stroke-width="1.3"/>
<line x1="319.80" y1="769.04" x2="319.80" y2="764.48" stroke="#222" stroke-width="1.1"/>
<line x1="316.00" y1="769.04" x2="323.60" y2="769.04" stroke="#222" stroke-width="1.1"/>
<line x1="316.00" y1="764.48" x2="323.60" y2="764.48" stroke="#222" stroke-width="1.1"/>
<line x1="338.70" y1="722.86" x2="357.70" y2="722.86" stroke="#222" stroke-width="1.3"/>
<line x1="348.20" y1="735.80" x2="348.20" y2="718.55" stroke="#222" stroke-width="1.1"/>
<line x1="344.40" y1="735.80" x2="352.00" y2="735.80" stroke="#222" stroke-width="1.1"/>
<line x1="344.40" y1="718.55" x2="352.00" y2="718.55" stroke="#222" stroke-width="1.1"/>
<line x1="320.40" y1="687.30" x2="348.80" y2="687.30" stroke="#222" stroke-width="1.1"/>
<circle cx="329.20" cy="683.80" r="1.15" fill="#222"/>
<circle cx="332.80" cy="683.80" r="1.15" fill="#222"/>
<circle cx="336.40" cy="683.80" r="1.15" fill="#222"/>
<circle cx="340.00" cy="683.80" r="1.15" fill="#222"/>
<text x="334.70" y="669.70" font-size="10.2" text-anchor="middle" fill="#2b2b2b" font-weight="normal" stroke="#2b2b2b" stroke-width="0.1" textLength="16.6" lengthAdjust="spacingAndGlyphs">IL-6</text>
<text x="276.90" y="736.50" font-size="9.6" text-anchor="middle" fill="#333" stroke="#333" stroke-width="0.22" transform="rotate(-90 276.90 736.50)" textLength="49.5" lengthAdjust="spacingAndGlyphs">Conc.(pg/mL)</text>
<line x1="404.60" y1="682.80" x2="404.60" y2="786.90" stroke="#222" stroke-width="1.3"/>
<line x1="404.00" y1="786.30" x2="471.00" y2="786.30" stroke="#222" stroke-width="1.3"/>
<line x1="401.60" y1="786.30" x2="404.60" y2="786.30" stroke="#222" stroke-width="1.1"/>
<text x="397.20" y="788.60" font-size="7.7" text-anchor="end" fill="#222">2<tspan font-size="4.7" dy="-3.3">4</tspan></text>
<line x1="401.60" y1="752.47" x2="404.60" y2="752.47" stroke="#222" stroke-width="1.1"/>
<text x="397.20" y="754.77" font-size="7.7" text-anchor="end" fill="#222">2<tspan font-size="4.7" dy="-3.3">6</tspan></text>
<line x1="401.60" y1="718.63" x2="404.60" y2="718.63" stroke="#222" stroke-width="1.1"/>
<text x="397.20" y="720.93" font-size="7.7" text-anchor="end" fill="#222">2<tspan font-size="4.7" dy="-3.3">8</tspan></text>
<line x1="401.60" y1="684.80" x2="404.60" y2="684.80" stroke="#222" stroke-width="1.1"/>
<text x="397.20" y="687.10" font-size="7.7" text-anchor="end" fill="#222">2<tspan font-size="4.7" dy="-3.3">10</tspan></text>
<line x1="423.40" y1="786.30" x2="423.40" y2="789.30" stroke="#222" stroke-width="1.1"/>
<line x1="451.80" y1="786.30" x2="451.80" y2="789.30" stroke="#222" stroke-width="1.1"/>
<text x="423.40" y="800.30" font-size="7.4" text-anchor="middle" fill="#2b2b2b" font-weight="normal" stroke="#2b2b2b" stroke-width="0.1">HC</text>
<text x="451.80" y="800.30" font-size="7.4" text-anchor="middle" fill="#2b2b2b" font-weight="normal" stroke="#2b2b2b" stroke-width="0.1">HLH</text>
<circle cx="423.40" cy="727.43" r="2.45" fill="#d2d2d2" stroke="#3c3c3c" stroke-width="1.0"/>
<circle cx="423.40" cy="741.81" r="2.45" fill="#d2d2d2" stroke="#3c3c3c" stroke-width="1.0"/>
<circle cx="426.40" cy="755.00" r="2.45" fill="#d2d2d2" stroke="#3c3c3c" stroke-width="1.0"/>
<circle cx="429.90" cy="755.00" r="2.45" fill="#d2d2d2" stroke="#3c3c3c" stroke-width="1.0"/>
<circle cx="415.90" cy="759.57" r="2.45" fill="#d2d2d2" stroke="#3c3c3c" stroke-width="1.0"/>
<circle cx="421.40" cy="759.57" r="2.45" fill="#d2d2d2" stroke="#3c3c3c" stroke-width="1.0"/>
<circle cx="429.90" cy="759.57" r="2.45" fill="#d2d2d2" stroke="#3c3c3c" stroke-width="1.0"/>
<circle cx="418.40" cy="763.97" r="2.45" fill="#d2d2d2" stroke="#3c3c3c" stroke-width="1.0"/>
<circle cx="423.40" cy="763.97" r="2.45" fill="#d2d2d2" stroke="#3c3c3c" stroke-width="1.0"/>
<circle cx="424.40" cy="772.26" r="2.45" fill="#d2d2d2" stroke="#3c3c3c" stroke-width="1.0"/>
<circle cx="419.40" cy="780.04" r="2.45" fill="#d2d2d2" stroke="#3c3c3c" stroke-width="1.0"/>
<circle cx="426.90" cy="780.04" r="2.45" fill="#d2d2d2" stroke="#3c3c3c" stroke-width="1.0"/>
<circle cx="421.40" cy="768.54" r="2.45" fill="#d2d2d2" stroke="#3c3c3c" stroke-width="1.0"/>
<circle cx="425.90" cy="767.69" r="2.45" fill="#d2d2d2" stroke="#3c3c3c" stroke-width="1.0"/>
<circle cx="458.80" cy="690.21" r="2.50" fill="#d41c6c" stroke="#4a0a25" stroke-width="1.0"/>
<circle cx="444.50" cy="694.95" r="2.50" fill="#d41c6c" stroke="#4a0a25" stroke-width="1.0"/>
<circle cx="444.50" cy="707.30" r="2.50" fill="#d41c6c" stroke="#4a0a25" stroke-width="1.0"/>
<circle cx="458.80" cy="712.04" r="2.50" fill="#d41c6c" stroke="#4a0a25" stroke-width="1.0"/>
<circle cx="451.80" cy="716.94" r="2.50" fill="#d41c6c" stroke="#4a0a25" stroke-width="1.0"/>
<circle cx="444.50" cy="725.57" r="2.50" fill="#d41c6c" stroke="#4a0a25" stroke-width="1.0"/>
<circle cx="458.80" cy="723.71" r="2.50" fill="#d41c6c" stroke="#4a0a25" stroke-width="1.0"/>
<circle cx="451.80" cy="730.47" r="2.50" fill="#d41c6c" stroke="#4a0a25" stroke-width="1.0"/>
<circle cx="451.80" cy="745.36" r="2.50" fill="#d41c6c" stroke="#4a0a25" stroke-width="1.0"/>
<line x1="413.90" y1="756.70" x2="432.90" y2="756.70" stroke="#222" stroke-width="1.3"/>
<line x1="423.40" y1="761.77" x2="423.40" y2="752.97" stroke="#222" stroke-width="1.1"/>
<line x1="419.60" y1="761.77" x2="427.20" y2="761.77" stroke="#222" stroke-width="1.1"/>
<line x1="419.60" y1="752.97" x2="427.20" y2="752.97" stroke="#222" stroke-width="1.1"/>
<line x1="442.30" y1="711.19" x2="461.30" y2="711.19" stroke="#222" stroke-width="1.3"/>
<line x1="451.80" y1="716.94" x2="451.80" y2="705.95" stroke="#222" stroke-width="1.1"/>
<line x1="448.00" y1="716.94" x2="455.60" y2="716.94" stroke="#222" stroke-width="1.1"/>
<line x1="448.00" y1="705.95" x2="455.60" y2="705.95" stroke="#222" stroke-width="1.1"/>
<line x1="423.70" y1="682.90" x2="451.50" y2="682.90" stroke="#222" stroke-width="1.1"/>
<circle cx="432.20" cy="679.40" r="1.15" fill="#222"/>
<circle cx="435.80" cy="679.40" r="1.15" fill="#222"/>
<circle cx="439.40" cy="679.40" r="1.15" fill="#222"/>
<circle cx="443.00" cy="679.40" r="1.15" fill="#222"/>
<text x="437.90" y="669.70" font-size="10.2" text-anchor="middle" fill="#2b2b2b" font-weight="normal" stroke="#2b2b2b" stroke-width="0.1" textLength="36.8" lengthAdjust="spacingAndGlyphs">CXCL13</text>
<text x="383.10" y="736.50" font-size="9.6" text-anchor="middle" fill="#333" stroke="#333" stroke-width="0.22" transform="rotate(-90 383.10 736.50)" textLength="49.5" lengthAdjust="spacingAndGlyphs">Conc.(pg/mL)</text>
<rect x="0.5" y="0.5" width="519" height="809" fill="none" stroke="#404040" stroke-width="1"/>
</svg></body></html>
